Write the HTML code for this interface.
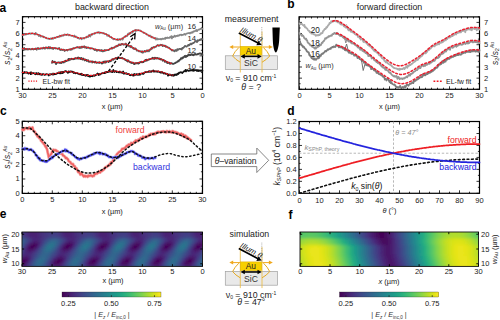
<!DOCTYPE html>
<html><head><meta charset="utf-8"><style>html,body{margin:0;padding:0;background:#fff;width:500px;height:320px;overflow:hidden}svg{display:block;font-family:"Liberation Sans", sans-serif}</style></head><body>
<svg width="500" height="320" viewBox="0 0 500 320" font-family='"Liberation Sans", sans-serif'>
<rect width="500" height="320" fill="#fff"/>
<text x="-0.50" y="11.90" font-size="12" text-anchor="start" fill="#000" font-weight="bold" >a</text>
<text x="287.30" y="8.10" font-size="12" text-anchor="start" fill="#000" font-weight="bold" >b</text>
<text x="0.00" y="115.00" font-size="12" text-anchor="start" fill="#000" font-weight="bold" >c</text>
<text x="287.20" y="114.70" font-size="12" text-anchor="start" fill="#000" font-weight="bold" >d</text>
<text x="-0.30" y="218.40" font-size="12" text-anchor="start" fill="#000" font-weight="bold" >e</text>
<text x="288.60" y="219.20" font-size="12" text-anchor="start" fill="#000" font-weight="bold" >f</text>
<text x="112.00" y="10.00" font-size="8.9" text-anchor="middle" fill="#222" >backward direction</text>
<text x="389.50" y="10.00" font-size="8.9" text-anchor="middle" fill="#222" >forward direction</text>
<rect x="22.5" y="16.7" width="180.0" height="72.6" fill="none" stroke="#000" stroke-width="1.2"/>
<line x1="202.50" y1="89.30" x2="202.50" y2="86.30" stroke="#000" stroke-width="0.8" />
<line x1="202.50" y1="16.70" x2="202.50" y2="19.70" stroke="#000" stroke-width="0.8" />
<line x1="196.50" y1="89.30" x2="196.50" y2="87.70" stroke="#000" stroke-width="0.8" />
<line x1="196.50" y1="16.70" x2="196.50" y2="18.30" stroke="#000" stroke-width="0.8" />
<line x1="190.50" y1="89.30" x2="190.50" y2="87.70" stroke="#000" stroke-width="0.8" />
<line x1="190.50" y1="16.70" x2="190.50" y2="18.30" stroke="#000" stroke-width="0.8" />
<line x1="184.50" y1="89.30" x2="184.50" y2="87.70" stroke="#000" stroke-width="0.8" />
<line x1="184.50" y1="16.70" x2="184.50" y2="18.30" stroke="#000" stroke-width="0.8" />
<line x1="178.50" y1="89.30" x2="178.50" y2="87.70" stroke="#000" stroke-width="0.8" />
<line x1="178.50" y1="16.70" x2="178.50" y2="18.30" stroke="#000" stroke-width="0.8" />
<line x1="172.50" y1="89.30" x2="172.50" y2="86.30" stroke="#000" stroke-width="0.8" />
<line x1="172.50" y1="16.70" x2="172.50" y2="19.70" stroke="#000" stroke-width="0.8" />
<line x1="166.50" y1="89.30" x2="166.50" y2="87.70" stroke="#000" stroke-width="0.8" />
<line x1="166.50" y1="16.70" x2="166.50" y2="18.30" stroke="#000" stroke-width="0.8" />
<line x1="160.50" y1="89.30" x2="160.50" y2="87.70" stroke="#000" stroke-width="0.8" />
<line x1="160.50" y1="16.70" x2="160.50" y2="18.30" stroke="#000" stroke-width="0.8" />
<line x1="154.50" y1="89.30" x2="154.50" y2="87.70" stroke="#000" stroke-width="0.8" />
<line x1="154.50" y1="16.70" x2="154.50" y2="18.30" stroke="#000" stroke-width="0.8" />
<line x1="148.50" y1="89.30" x2="148.50" y2="87.70" stroke="#000" stroke-width="0.8" />
<line x1="148.50" y1="16.70" x2="148.50" y2="18.30" stroke="#000" stroke-width="0.8" />
<line x1="142.50" y1="89.30" x2="142.50" y2="86.30" stroke="#000" stroke-width="0.8" />
<line x1="142.50" y1="16.70" x2="142.50" y2="19.70" stroke="#000" stroke-width="0.8" />
<line x1="136.50" y1="89.30" x2="136.50" y2="87.70" stroke="#000" stroke-width="0.8" />
<line x1="136.50" y1="16.70" x2="136.50" y2="18.30" stroke="#000" stroke-width="0.8" />
<line x1="130.50" y1="89.30" x2="130.50" y2="87.70" stroke="#000" stroke-width="0.8" />
<line x1="130.50" y1="16.70" x2="130.50" y2="18.30" stroke="#000" stroke-width="0.8" />
<line x1="124.50" y1="89.30" x2="124.50" y2="87.70" stroke="#000" stroke-width="0.8" />
<line x1="124.50" y1="16.70" x2="124.50" y2="18.30" stroke="#000" stroke-width="0.8" />
<line x1="118.50" y1="89.30" x2="118.50" y2="87.70" stroke="#000" stroke-width="0.8" />
<line x1="118.50" y1="16.70" x2="118.50" y2="18.30" stroke="#000" stroke-width="0.8" />
<line x1="112.50" y1="89.30" x2="112.50" y2="86.30" stroke="#000" stroke-width="0.8" />
<line x1="112.50" y1="16.70" x2="112.50" y2="19.70" stroke="#000" stroke-width="0.8" />
<line x1="106.50" y1="89.30" x2="106.50" y2="87.70" stroke="#000" stroke-width="0.8" />
<line x1="106.50" y1="16.70" x2="106.50" y2="18.30" stroke="#000" stroke-width="0.8" />
<line x1="100.50" y1="89.30" x2="100.50" y2="87.70" stroke="#000" stroke-width="0.8" />
<line x1="100.50" y1="16.70" x2="100.50" y2="18.30" stroke="#000" stroke-width="0.8" />
<line x1="94.50" y1="89.30" x2="94.50" y2="87.70" stroke="#000" stroke-width="0.8" />
<line x1="94.50" y1="16.70" x2="94.50" y2="18.30" stroke="#000" stroke-width="0.8" />
<line x1="88.50" y1="89.30" x2="88.50" y2="87.70" stroke="#000" stroke-width="0.8" />
<line x1="88.50" y1="16.70" x2="88.50" y2="18.30" stroke="#000" stroke-width="0.8" />
<line x1="82.50" y1="89.30" x2="82.50" y2="86.30" stroke="#000" stroke-width="0.8" />
<line x1="82.50" y1="16.70" x2="82.50" y2="19.70" stroke="#000" stroke-width="0.8" />
<line x1="76.50" y1="89.30" x2="76.50" y2="87.70" stroke="#000" stroke-width="0.8" />
<line x1="76.50" y1="16.70" x2="76.50" y2="18.30" stroke="#000" stroke-width="0.8" />
<line x1="70.50" y1="89.30" x2="70.50" y2="87.70" stroke="#000" stroke-width="0.8" />
<line x1="70.50" y1="16.70" x2="70.50" y2="18.30" stroke="#000" stroke-width="0.8" />
<line x1="64.50" y1="89.30" x2="64.50" y2="87.70" stroke="#000" stroke-width="0.8" />
<line x1="64.50" y1="16.70" x2="64.50" y2="18.30" stroke="#000" stroke-width="0.8" />
<line x1="58.50" y1="89.30" x2="58.50" y2="87.70" stroke="#000" stroke-width="0.8" />
<line x1="58.50" y1="16.70" x2="58.50" y2="18.30" stroke="#000" stroke-width="0.8" />
<line x1="52.50" y1="89.30" x2="52.50" y2="86.30" stroke="#000" stroke-width="0.8" />
<line x1="52.50" y1="16.70" x2="52.50" y2="19.70" stroke="#000" stroke-width="0.8" />
<line x1="46.50" y1="89.30" x2="46.50" y2="87.70" stroke="#000" stroke-width="0.8" />
<line x1="46.50" y1="16.70" x2="46.50" y2="18.30" stroke="#000" stroke-width="0.8" />
<line x1="40.50" y1="89.30" x2="40.50" y2="87.70" stroke="#000" stroke-width="0.8" />
<line x1="40.50" y1="16.70" x2="40.50" y2="18.30" stroke="#000" stroke-width="0.8" />
<line x1="34.50" y1="89.30" x2="34.50" y2="87.70" stroke="#000" stroke-width="0.8" />
<line x1="34.50" y1="16.70" x2="34.50" y2="18.30" stroke="#000" stroke-width="0.8" />
<line x1="28.50" y1="89.30" x2="28.50" y2="87.70" stroke="#000" stroke-width="0.8" />
<line x1="28.50" y1="16.70" x2="28.50" y2="18.30" stroke="#000" stroke-width="0.8" />
<line x1="22.50" y1="89.30" x2="22.50" y2="86.30" stroke="#000" stroke-width="0.8" />
<line x1="22.50" y1="16.70" x2="22.50" y2="19.70" stroke="#000" stroke-width="0.8" />
<line x1="22.50" y1="89.30" x2="25.50" y2="89.30" stroke="#000" stroke-width="0.8" />
<line x1="202.50" y1="89.30" x2="199.50" y2="89.30" stroke="#000" stroke-width="0.8" />
<line x1="22.50" y1="83.72" x2="24.10" y2="83.72" stroke="#000" stroke-width="0.8" />
<line x1="202.50" y1="83.72" x2="200.90" y2="83.72" stroke="#000" stroke-width="0.8" />
<line x1="22.50" y1="78.15" x2="25.50" y2="78.15" stroke="#000" stroke-width="0.8" />
<line x1="202.50" y1="78.15" x2="199.50" y2="78.15" stroke="#000" stroke-width="0.8" />
<line x1="22.50" y1="72.57" x2="24.10" y2="72.57" stroke="#000" stroke-width="0.8" />
<line x1="202.50" y1="72.57" x2="200.90" y2="72.57" stroke="#000" stroke-width="0.8" />
<line x1="22.50" y1="67.00" x2="25.50" y2="67.00" stroke="#000" stroke-width="0.8" />
<line x1="202.50" y1="67.00" x2="199.50" y2="67.00" stroke="#000" stroke-width="0.8" />
<line x1="22.50" y1="61.42" x2="24.10" y2="61.42" stroke="#000" stroke-width="0.8" />
<line x1="202.50" y1="61.42" x2="200.90" y2="61.42" stroke="#000" stroke-width="0.8" />
<line x1="22.50" y1="55.85" x2="25.50" y2="55.85" stroke="#000" stroke-width="0.8" />
<line x1="202.50" y1="55.85" x2="199.50" y2="55.85" stroke="#000" stroke-width="0.8" />
<line x1="22.50" y1="50.27" x2="24.10" y2="50.27" stroke="#000" stroke-width="0.8" />
<line x1="202.50" y1="50.27" x2="200.90" y2="50.27" stroke="#000" stroke-width="0.8" />
<line x1="22.50" y1="44.70" x2="25.50" y2="44.70" stroke="#000" stroke-width="0.8" />
<line x1="202.50" y1="44.70" x2="199.50" y2="44.70" stroke="#000" stroke-width="0.8" />
<line x1="22.50" y1="39.12" x2="24.10" y2="39.12" stroke="#000" stroke-width="0.8" />
<line x1="202.50" y1="39.12" x2="200.90" y2="39.12" stroke="#000" stroke-width="0.8" />
<line x1="22.50" y1="33.55" x2="25.50" y2="33.55" stroke="#000" stroke-width="0.8" />
<line x1="202.50" y1="33.55" x2="199.50" y2="33.55" stroke="#000" stroke-width="0.8" />
<line x1="22.50" y1="27.97" x2="24.10" y2="27.97" stroke="#000" stroke-width="0.8" />
<line x1="202.50" y1="27.97" x2="200.90" y2="27.97" stroke="#000" stroke-width="0.8" />
<line x1="22.50" y1="22.40" x2="25.50" y2="22.40" stroke="#000" stroke-width="0.8" />
<line x1="202.50" y1="22.40" x2="199.50" y2="22.40" stroke="#000" stroke-width="0.8" />
<line x1="22.50" y1="16.82" x2="24.10" y2="16.82" stroke="#000" stroke-width="0.8" />
<line x1="202.50" y1="16.82" x2="200.90" y2="16.82" stroke="#000" stroke-width="0.8" />
<text x="202.50" y="97.50" font-size="7.5" text-anchor="middle" fill="#222" >0</text>
<text x="172.50" y="97.50" font-size="7.5" text-anchor="middle" fill="#222" >5</text>
<text x="142.50" y="97.50" font-size="7.5" text-anchor="middle" fill="#222" >10</text>
<text x="112.50" y="97.50" font-size="7.5" text-anchor="middle" fill="#222" >15</text>
<text x="82.50" y="97.50" font-size="7.5" text-anchor="middle" fill="#222" >20</text>
<text x="52.50" y="97.50" font-size="7.5" text-anchor="middle" fill="#222" >25</text>
<text x="22.50" y="97.50" font-size="7.5" text-anchor="middle" fill="#222" >30</text>
<text x="19.70" y="91.80" font-size="7.5" text-anchor="end" fill="#222" >1</text>
<text x="19.70" y="80.65" font-size="7.5" text-anchor="end" fill="#222" >2</text>
<text x="19.70" y="69.50" font-size="7.5" text-anchor="end" fill="#222" >3</text>
<text x="19.70" y="58.35" font-size="7.5" text-anchor="end" fill="#222" >4</text>
<text x="19.70" y="47.20" font-size="7.5" text-anchor="end" fill="#222" >5</text>
<text x="19.70" y="36.05" font-size="7.5" text-anchor="end" fill="#222" >6</text>
<text x="19.70" y="24.90" font-size="7.5" text-anchor="end" fill="#222" >7</text>
<text x="112.30" y="108.50" font-size="7.4" text-anchor="middle" fill="#222" >x (µm)</text>
<text transform="translate(10.4,53.2) rotate(-90)" font-size="8.3" text-anchor="middle" fill="#222"><tspan font-style="italic">s</tspan><tspan font-size="5.6" dy="1.7">2</tspan><tspan dy="-1.7">/</tspan><tspan font-style="italic">s</tspan><tspan font-size="5.6" dy="1.7">2</tspan><tspan font-size="5" font-style="italic" dy="-5.6">Au</tspan></text>
<polyline points="22.5,35.2 23.0,35.2 23.6,34.9 24.1,34.0 24.7,34.9 25.2,34.6 25.8,34.0 26.3,34.4 26.9,34.2 27.4,34.1 28.0,33.9 28.5,34.0 29.1,33.4 29.6,33.6 30.2,33.4 30.7,33.9 31.3,33.6 31.8,33.5 32.3,33.3 32.9,33.6 33.4,33.7 34.0,33.7 34.5,34.5 35.1,34.4 35.6,32.9 36.2,33.4 36.7,34.3 37.3,34.3 37.8,34.8 38.4,35.0 38.9,36.0 39.5,34.8 40.0,35.3 40.6,36.7 41.1,36.3 41.6,36.5 42.2,36.2 42.7,36.0 43.3,37.0 43.8,37.3 44.4,36.9 44.9,37.4 45.5,37.9 46.0,37.7 46.6,38.2 47.1,38.5 47.7,38.6 48.2,38.4 48.8,39.0 49.3,39.2 49.9,38.9 50.4,38.4 50.9,39.1 51.5,38.5 52.0,39.0 52.6,38.0 53.1,38.8 53.7,38.3 54.2,37.6 54.8,37.9 55.3,37.9 55.9,37.8 56.4,37.1 57.0,36.8 57.5,37.2 58.1,36.7 58.6,36.8 59.2,36.9 59.7,35.6 60.3,36.3 60.8,36.5 61.3,35.7 61.9,35.3 62.4,35.8 63.0,35.5 63.5,35.7 64.1,35.0 64.6,34.4 65.2,34.9 65.7,34.7 66.3,35.2 66.8,35.0 67.4,34.2 67.9,34.4 68.5,35.4 69.0,35.3 69.6,34.8 70.1,35.2 70.6,35.5 71.2,35.7 71.7,36.0 72.3,35.9 72.8,35.9 73.4,36.0 73.9,36.8 74.5,35.5 75.0,36.7 75.6,37.0 76.1,36.5 76.7,37.5 77.2,37.3 77.8,38.2 78.3,37.9 78.9,38.4 79.4,38.8 79.9,38.5 80.5,38.0 81.0,37.8 81.6,39.3 82.1,38.4 82.7,38.1 83.2,38.4 83.8,38.1 84.3,38.5 84.9,37.9 85.4,37.7 86.0,37.2 86.5,37.5 87.1,36.5 87.6,37.0 88.2,37.1 88.7,35.5 89.2,34.8 89.8,35.9 90.3,36.5 90.9,34.6 91.4,34.2 92.0,34.8 92.5,33.9 93.1,33.8 93.6,33.7 94.2,33.9 94.7,33.2 95.3,33.4 95.8,33.0 96.4,32.6 96.9,32.7 97.5,32.3 98.0,32.7 98.5,32.1 99.1,32.1 99.6,33.3 100.2,32.6 100.7,32.7 101.3,33.0 101.8,32.7 102.4,32.9 102.9,33.4 103.5,33.5 104.0,33.1 104.6,34.2 105.1,33.8 105.7,33.8 106.2,34.1 106.8,34.6 107.3,35.8 107.8,34.9 108.4,35.8 108.9,35.1 109.5,36.4 110.0,37.1 110.6,36.9 111.1,37.1 111.7,37.8 112.2,38.3 112.8,38.6 113.3,39.4 113.9,38.9 114.4,38.8 115.0,39.2 115.5,39.4 116.1,39.6 116.6,39.7 117.2,39.8 117.7,39.0 118.2,40.2 118.8,39.5 119.3,39.1 119.9,39.8 120.4,40.0 121.0,39.4 121.5,39.0 122.1,38.3 122.6,39.7 123.2,38.5 123.7,37.3 124.3,37.1 124.8,37.1 125.4,36.0 125.9,36.4 126.5,35.7 127.0,36.1 127.5,35.5 128.1,33.5 128.6,34.3 129.2,33.1 129.7,34.0 130.3,33.1 130.8,32.9 131.4,31.8 131.9,32.8 132.5,32.6 133.0,30.9 133.6,31.3 134.1,30.6 134.7,30.7 135.2,29.9 135.8,31.2 136.3,29.9 136.8,30.2 137.4,30.5 137.9,30.1 138.5,30.3 139.0,30.3 139.6,30.7 140.1,30.4 140.7,31.0 141.2,31.3 141.8,31.5 142.3,32.0 142.9,32.1 143.4,32.9 144.0,32.7 144.5,33.1 145.1,33.2 145.6,33.6 146.1,33.6 146.7,34.7 147.2,34.3 147.8,34.8 148.3,35.6 148.9,35.9 149.4,35.8 150.0,35.4 150.5,36.8 151.1,37.0 151.6,36.5 152.2,37.7 152.7,37.3 153.3,37.4 153.8,38.1 154.4,38.2 154.9,38.6 155.4,37.9 156.0,39.6 156.5,38.6 157.1,38.3 157.6,39.4 158.2,39.0 158.7,39.3 159.3,39.0 159.8,39.1 160.4,39.3 160.9,38.8 161.5,39.4 162.0,38.8 162.6,38.6 163.1,38.9 163.7,39.0 164.2,38.6 164.7,38.2 165.3,38.8 165.8,37.6 166.4,37.8 166.9,38.2 167.5,37.5 168.0,38.0 168.6,37.8 169.1,38.1 169.7,37.2 170.2,37.2 170.8,37.5 171.3,36.1 171.9,38.5 172.4,36.6 173.0,36.5 173.5,37.1 174.1,36.5 174.6,35.6 175.1,36.6 175.7,36.6 176.2,35.9 176.8,35.8 177.3,36.1 177.9,35.3 178.4,35.8 179.0,35.6 179.5,35.1 180.1,34.6 180.6,35.0 181.2,34.6 181.7,35.3 182.3,34.8 182.8,35.0 183.4,34.6 183.9,34.5 184.4,33.9 185.0,34.4 185.5,34.8 186.1,33.7 186.6,33.5 187.2,33.5 187.7,33.2 188.3,33.0 188.8,33.2 189.4,32.9 189.9,33.5 190.5,32.7 191.0,32.7 191.6,32.8 192.1,32.1 192.7,32.7 193.2,31.6 193.7,31.3 194.3,31.3 194.8,31.3 195.4,30.5 195.9,30.9 196.5,30.0 197.0,31.2 197.6,30.3 198.1,29.9 198.7,29.5 199.2,29.6 199.8,29.4 200.3,28.9 200.9,28.7 201.4,28.8 202.0,28.5 202.5,28.9" fill="none" stroke="#868686" stroke-width="1.7" stroke-linejoin="round" stroke-linecap="round" />
<polyline points="22.5,48.9 23.0,48.6 23.6,48.7 24.1,47.8 24.7,49.8 25.2,49.5 25.8,48.9 26.3,49.4 26.9,49.2 27.4,48.9 28.0,49.6 28.5,49.0 29.1,49.0 29.6,48.8 30.2,49.4 30.7,49.2 31.3,49.4 31.8,48.9 32.3,49.2 32.9,48.7 33.4,49.5 34.0,49.2 34.5,49.2 35.1,49.2 35.6,48.5 36.2,49.2 36.7,49.8 37.3,48.1 37.8,48.0 38.4,48.0 38.9,49.0 39.5,48.6 40.0,49.0 40.6,48.8 41.1,48.5 41.6,48.4 42.2,48.2 42.7,48.6 43.3,47.6 43.8,47.9 44.4,48.1 44.9,48.8 45.5,47.6 46.0,47.4 46.6,47.6 47.1,48.3 47.7,47.7 48.2,48.4 48.8,46.9 49.3,48.3 49.9,48.3 50.4,47.2 50.9,47.9 51.5,48.4 52.0,47.9 52.6,48.4 53.1,49.1 53.7,48.2 54.2,48.0 54.8,47.9 55.3,48.6 55.9,48.3 56.4,48.4 57.0,48.5 57.5,49.0 58.1,48.3 58.6,48.3 59.2,48.0 59.7,49.7 60.3,49.4 60.8,50.2 61.3,49.6 61.9,49.4 62.4,50.1 63.0,49.9 63.5,49.5 64.1,49.7 64.6,51.0 65.2,50.4 65.7,50.4 66.3,50.1 66.8,49.8 67.4,50.5 67.9,50.0 68.5,49.6 69.0,49.7 69.6,49.3 70.1,49.6 70.6,49.9 71.2,48.9 71.7,49.7 72.3,48.6 72.8,48.8 73.4,48.2 73.9,48.3 74.5,48.3 75.0,47.9 75.6,47.7 76.1,47.5 76.7,47.4 77.2,46.9 77.8,47.4 78.3,47.6 78.9,47.7 79.4,47.5 79.9,48.2 80.5,47.2 81.0,46.8 81.6,47.8 82.1,46.5 82.7,47.4 83.2,46.6 83.8,47.2 84.3,46.2 84.9,47.6 85.4,47.2 86.0,46.9 86.5,48.2 87.1,47.9 87.6,47.6 88.2,47.4 88.7,47.9 89.2,47.9 89.8,48.5 90.3,48.6 90.9,48.1 91.4,48.3 92.0,48.5 92.5,48.3 93.1,48.8 93.6,49.1 94.2,49.6 94.7,50.1 95.3,49.2 95.8,50.0 96.4,49.7 96.9,50.9 97.5,50.1 98.0,50.4 98.5,49.9 99.1,50.1 99.6,50.6 100.2,50.4 100.7,50.8 101.3,50.0 101.8,51.0 102.4,50.3 102.9,51.5 103.5,50.6 104.0,51.2 104.6,50.0 105.1,50.8 105.7,50.1 106.2,50.2 106.8,50.3 107.3,50.0 107.8,50.1 108.4,50.2 108.9,49.9 109.5,49.4 110.0,48.6 110.6,48.7 111.1,48.7 111.7,47.6 112.2,48.7 112.8,48.0 113.3,47.7 113.9,48.0 114.4,47.6 115.0,47.1 115.5,46.3 116.1,46.6 116.6,46.4 117.2,45.6 117.7,46.2 118.2,45.7 118.8,44.4 119.3,45.1 119.9,44.3 120.4,45.2 121.0,44.9 121.5,43.9 122.1,43.9 122.6,44.3 123.2,44.1 123.7,44.9 124.3,44.5 124.8,44.1 125.4,44.6 125.9,43.5 126.5,44.7 127.0,45.2 127.5,44.9 128.1,44.9 128.6,45.7 129.2,46.6 129.7,46.1 130.3,45.8 130.8,47.3 131.4,46.1 131.9,47.5 132.5,47.3 133.0,48.3 133.6,47.9 134.1,49.2 134.7,49.0 135.2,48.4 135.8,48.6 136.3,49.7 136.8,50.7 137.4,50.4 137.9,50.6 138.5,50.7 139.0,51.4 139.6,51.4 140.1,51.5 140.7,51.1 141.2,52.2 141.8,52.3 142.3,51.2 142.9,52.8 143.4,52.1 144.0,51.5 144.5,50.8 145.1,51.8 145.6,51.7 146.1,51.0 146.7,50.3 147.2,51.4 147.8,50.4 148.3,50.2 148.9,51.4 149.4,50.8 150.0,50.0 150.5,49.1 151.1,49.3 151.6,47.7 152.2,48.5 152.7,47.8 153.3,47.2 153.8,46.8 154.4,47.5 154.9,47.0 155.4,46.8 156.0,46.8 156.5,45.9 157.1,45.5 157.6,45.0 158.2,45.5 158.7,45.9 159.3,45.3 159.8,45.6 160.4,44.7 160.9,45.0 161.5,44.9 162.0,44.7 162.6,46.2 163.1,45.9 163.7,45.3 164.2,45.5 164.7,46.1 165.3,45.7 165.8,46.8 166.4,46.3 166.9,47.0 167.5,47.0 168.0,47.6 168.6,47.5 169.1,47.8 169.7,48.4 170.2,48.8 170.8,49.3 171.3,49.7 171.9,50.6 172.4,50.5 173.0,50.2 173.5,50.8 174.1,50.3 174.6,51.3 175.1,50.9 175.7,50.0 176.2,50.9 176.8,50.8 177.3,49.1 177.9,49.8 178.4,49.7 179.0,48.9 179.5,49.0 180.1,48.8 180.6,49.2 181.2,48.8 181.7,49.6 182.3,47.9 182.8,48.4 183.4,47.6 183.9,47.4 184.4,46.5 185.0,45.9 185.5,46.1 186.1,46.6 186.6,46.7 187.2,46.0 187.7,45.7 188.3,44.8 188.8,45.6 189.4,45.3 189.9,44.2 190.5,44.2 191.0,43.5 191.6,44.4 192.1,43.6 192.7,43.2 193.2,43.1 193.7,42.9 194.3,42.3 194.8,41.7 195.4,41.4 195.9,40.9 196.5,41.7 197.0,42.2 197.6,40.2 198.1,40.8 198.7,40.7 199.2,39.8 199.8,40.1 200.3,39.3 200.9,40.1 201.4,39.0 202.0,39.1 202.5,39.1" fill="none" stroke="#626262" stroke-width="1.7" stroke-linejoin="round" stroke-linecap="round" />
<polyline points="52.0,62.9 52.5,60.9 52.9,62.4 53.4,62.0 53.8,62.2 54.3,62.4 54.7,61.6 55.2,62.5 55.7,62.3 56.1,64.2 56.6,62.9 57.0,62.6 57.5,62.7 57.9,62.5 58.4,62.3 58.9,62.6 59.3,62.9 59.8,62.5 60.2,63.0 60.7,62.4 61.1,62.4 61.6,63.0 62.1,62.4 62.5,61.8 63.0,61.9 63.4,62.1 63.9,62.5 64.4,61.4 64.8,61.3 65.3,61.7 65.7,60.6 66.2,60.8 66.6,61.1 67.1,60.8 67.6,60.4 68.0,60.5 68.5,58.8 68.9,60.4 69.4,59.3 69.8,58.9 70.3,59.6 70.8,59.6 71.2,59.0 71.7,58.6 72.1,59.0 72.6,58.8 73.0,59.4 73.5,59.0 74.0,58.7 74.4,59.0 74.9,58.4 75.3,58.0 75.8,58.7 76.2,58.7 76.7,58.3 77.2,58.0 77.6,58.5 78.1,57.3 78.5,58.7 79.0,58.7 79.4,57.8 79.9,58.6 80.4,58.2 80.8,59.1 81.3,57.9 81.7,58.5 82.2,59.3 82.6,59.7 83.1,58.3 83.6,59.2 84.0,59.7 84.5,59.4 84.9,60.5 85.4,59.4 85.9,60.2 86.3,59.8 86.8,61.0 87.2,60.5 87.7,60.5 88.1,60.1 88.6,61.7 89.1,61.5 89.5,61.6 90.0,61.9 90.4,61.7 90.9,61.3 91.3,61.4 91.8,61.5 92.3,62.5 92.7,61.4 93.2,61.8 93.6,62.0 94.1,62.3 94.5,62.5 95.0,61.8 95.5,61.6 95.9,62.4 96.4,63.0 96.8,62.8 97.3,62.6 97.7,62.4 98.2,62.7 98.7,62.5 99.1,63.0 99.6,62.2 100.0,62.7 100.5,62.6 100.9,62.8 101.4,62.7 101.9,63.7 102.3,63.2 102.8,63.2 103.2,61.6 103.7,62.3 104.1,62.1 104.6,62.6 105.1,61.2 105.5,62.7 106.0,62.5 106.4,61.4 106.9,61.4 107.4,61.3 107.8,61.6 108.3,61.7 108.7,62.2 109.2,61.0 109.6,61.2 110.1,60.7 110.6,61.3 111.0,60.6 111.5,60.7 111.9,59.4 112.4,59.5 112.8,59.1 113.3,59.9 113.8,59.3 114.2,58.7 114.7,58.5 115.1,58.7 115.6,58.0 116.0,57.8 116.5,58.3 117.0,59.1 117.4,57.8 117.9,57.6 118.3,57.3 118.8,57.2 119.2,58.0 119.7,58.2 120.2,57.9 120.6,58.1 121.1,58.2 121.5,58.3 122.0,57.7 122.4,58.3 122.9,58.7 123.4,58.5 123.8,58.8 124.3,58.9 124.7,59.3 125.2,60.0 125.6,59.7 126.1,60.0 126.6,60.7 127.0,60.8 127.5,61.5 127.9,60.0 128.4,61.5 128.9,61.1 129.3,61.6 129.8,62.1 130.2,62.4 130.7,62.6 131.1,62.3 131.6,63.1 132.1,62.4 132.5,62.6 133.0,63.2 133.4,62.7 133.9,64.0 134.3,63.5 134.8,64.1 135.3,63.2 135.7,63.0 136.2,63.3 136.6,63.5 137.1,62.9 137.5,63.3 138.0,63.0 138.5,63.7 138.9,62.6 139.4,63.2 139.8,62.4 140.3,62.1 140.7,62.1 141.2,61.7 141.7,62.2 142.1,62.4 142.6,61.8 143.0,61.9 143.5,62.2 143.9,61.4 144.4,61.2 144.9,60.8 145.3,60.0 145.8,60.9 146.2,59.6 146.7,60.5 147.1,60.1 147.6,60.4 148.1,59.8 148.5,59.3 149.0,59.7 149.4,59.1 149.9,59.2 150.4,59.1 150.8,59.0 151.3,58.8 151.7,58.4 152.2,58.6 152.6,57.7 153.1,58.5 153.6,58.0 154.0,59.0 154.5,59.0 154.9,57.5 155.4,58.5 155.8,58.4 156.3,58.0 156.8,58.7 157.2,58.3 157.7,57.8 158.1,58.5 158.6,58.6 159.0,58.9 159.5,58.4 160.0,59.3 160.4,59.5 160.9,58.8 161.3,59.2 161.8,59.6 162.2,59.5 162.7,60.8 163.2,60.3 163.6,59.9 164.1,60.2 164.5,60.8 165.0,62.0 165.4,61.1 165.9,61.5 166.4,61.9 166.8,61.9 167.3,63.2 167.7,62.1 168.2,62.9 168.6,62.8 169.1,63.2 169.6,62.6 170.0,64.0 170.5,63.3 170.9,63.5 171.4,63.1 171.9,63.2 172.3,63.8 172.8,64.0 173.2,63.8 173.7,63.9 174.1,63.5 174.6,63.1 175.1,63.2 175.5,62.9 176.0,62.3 176.4,62.4 176.9,62.4 177.3,61.6 177.8,61.0 178.3,61.2 178.7,61.4 179.2,60.1 179.6,59.8 180.1,59.4 180.5,59.7 181.0,58.0 181.5,58.6 181.9,58.7 182.4,57.5 182.8,58.3 183.3,57.6 183.7,56.9 184.2,57.0 184.7,56.0 185.1,56.2 185.6,57.1 186.0,55.7 186.5,56.8 186.9,55.8 187.4,56.1 187.9,55.6 188.3,54.4 188.8,55.1 189.2,55.3 189.7,54.6 190.1,54.5 190.6,55.2 191.1,54.6 191.5,54.1 192.0,54.5 192.4,55.1 192.9,54.5 193.4,55.0 193.8,55.3 194.3,54.5 194.7,54.0 195.2,53.8 195.6,54.4 196.1,54.7 196.6,54.4 197.0,54.5 197.5,54.0 197.9,54.3 198.4,53.9 198.8,53.9 199.3,53.5 199.8,53.3 200.2,53.8 200.7,53.4 201.1,53.5 201.6,54.2 202.0,53.8 202.5,55.1" fill="none" stroke="#444" stroke-width="1.7" stroke-linejoin="round" stroke-linecap="round" />
<polyline points="22.5,72.3 23.0,72.5 23.6,73.4 24.1,72.9 24.7,71.9 25.2,72.7 25.8,72.4 26.3,72.8 26.9,72.1 27.4,72.9 28.0,73.0 28.5,73.6 29.1,73.1 29.6,73.2 30.2,72.4 30.7,74.2 31.3,72.3 31.8,73.8 32.3,73.2 32.9,73.0 33.4,73.2 34.0,73.2 34.5,73.8 35.1,73.6 35.6,74.4 36.2,73.0 36.7,73.9 37.3,73.5 37.8,74.4 38.4,73.1 38.9,74.0 39.5,74.3 40.0,73.6 40.6,74.7 41.1,74.4 41.6,74.8 42.2,74.8 42.7,74.0 43.3,74.1 43.8,74.4 44.4,74.9 44.9,74.9 45.5,74.3 46.0,74.3 46.6,74.2 47.1,74.3 47.7,74.5 48.2,74.5 48.8,75.5 49.3,74.3 49.9,74.4 50.4,74.7 50.9,74.0 51.5,74.2 52.0,74.3 52.6,74.6 53.1,73.5 53.7,74.6 54.2,73.7 54.8,73.9 55.3,74.1 55.9,73.9 56.4,73.9 57.0,73.4 57.5,73.2 58.1,73.2 58.6,72.5 59.2,73.4 59.7,72.4 60.3,72.1 60.8,73.4 61.3,72.4 61.9,71.8 62.4,73.1 63.0,72.0 63.5,72.6 64.1,71.6 64.6,71.8 65.2,71.1 65.7,71.0 66.3,71.4 66.8,71.8 67.4,72.2 67.9,72.9 68.5,71.3 69.0,72.3 69.6,71.6 70.1,71.8 70.6,71.3 71.2,71.4 71.7,71.7 72.3,71.6 72.8,72.3 73.4,72.0 73.9,73.0 74.5,72.6 75.0,72.8 75.6,73.3 76.1,73.2 76.7,73.0 77.2,73.2 77.8,73.3 78.3,74.0 78.9,74.0 79.4,73.9 79.9,74.3 80.5,73.8 81.0,74.4 81.6,73.7 82.1,75.1 82.7,74.7 83.2,74.8 83.8,75.2 84.3,75.0 84.9,75.0 85.4,75.8 86.0,75.4 86.5,75.0 87.1,75.7 87.6,74.8 88.2,76.3 88.7,75.5 89.2,75.7 89.8,76.7 90.3,76.6 90.9,75.7 91.4,75.9 92.0,76.1 92.5,76.3 93.1,75.4 93.6,75.5 94.2,75.9 94.7,75.4 95.3,75.5 95.8,75.3 96.4,74.4 96.9,74.4 97.5,73.5 98.0,74.4 98.5,75.0 99.1,73.8 99.6,74.7 100.2,74.4 100.7,73.8 101.3,73.7 101.8,73.5 102.4,73.0 102.9,73.1 103.5,73.0 104.0,73.2 104.6,73.1 105.1,72.2 105.7,72.8 106.2,71.9 106.8,72.1 107.3,72.2 107.8,71.9 108.4,71.7 108.9,71.8 109.5,71.3 110.0,71.2 110.6,71.4 111.1,71.8 111.7,71.3 112.2,72.2 112.8,71.4 113.3,69.9 113.9,71.1 114.4,72.0 115.0,71.3 115.5,71.2 116.1,71.0 116.6,72.1 117.2,72.0 117.7,71.9 118.2,71.9 118.8,72.4 119.3,72.3 119.9,71.4 120.4,72.5 121.0,72.3 121.5,72.3 122.1,72.9 122.6,72.7 123.2,71.5 123.7,73.7 124.3,73.6 124.8,73.2 125.4,73.3 125.9,73.7 126.5,73.2 127.0,74.1 127.5,74.0 128.1,74.0 128.6,73.9 129.2,74.2 129.7,75.1 130.3,75.3 130.8,75.0 131.4,74.8 131.9,74.5 132.5,75.3 133.0,75.7 133.6,74.3 134.1,75.5 134.7,74.0 135.2,74.8 135.8,75.0 136.3,74.2 136.8,74.0 137.4,74.7 137.9,74.9 138.5,74.1 139.0,74.8 139.6,73.7 140.1,74.7 140.7,73.8 141.2,73.7 141.8,73.7 142.3,73.4 142.9,74.0 143.4,74.0 144.0,73.1 144.5,72.6 145.1,72.0 145.6,72.0 146.1,72.3 146.7,72.1 147.2,72.0 147.8,71.9 148.3,72.0 148.9,71.1 149.4,71.1 150.0,72.0 150.5,71.8 151.1,71.1 151.6,71.9 152.2,71.0 152.7,71.1 153.3,70.4 153.8,71.6 154.4,71.2 154.9,71.7 155.4,71.5 156.0,71.3 156.5,71.4 157.1,71.9 157.6,71.3 158.2,71.4 158.7,71.6 159.3,72.0 159.8,72.2 160.4,72.7 160.9,72.0 161.5,72.7 162.0,72.0 162.6,72.7 163.1,72.7 163.7,73.6 164.2,73.3 164.7,73.0 165.3,73.7 165.8,73.8 166.4,73.7 166.9,73.9 167.5,73.8 168.0,75.7 168.6,74.7 169.1,75.2 169.7,74.4 170.2,74.5 170.8,75.1 171.3,75.1 171.9,75.6 172.4,74.8 173.0,75.5 173.5,75.8 174.1,74.7 174.6,75.4 175.1,74.4 175.7,74.8 176.2,74.6 176.8,75.0 177.3,73.7 177.9,73.8 178.4,74.0 179.0,72.7 179.5,73.0 180.1,72.4 180.6,72.2 181.2,72.6 181.7,72.3 182.3,73.0 182.8,72.2 183.4,72.0 183.9,71.2 184.4,71.0 185.0,71.1 185.5,69.9 186.1,71.5 186.6,70.4 187.2,70.1 187.7,70.4 188.3,70.9 188.8,71.0 189.4,70.3 189.9,70.6 190.5,70.4 191.0,69.9 191.6,70.5 192.1,70.4 192.7,69.7 193.2,70.9 193.7,69.7 194.3,70.5 194.8,70.0 195.4,70.1 195.9,70.1 196.5,70.8 197.0,69.9 197.6,70.4 198.1,71.2 198.7,70.2 199.2,70.6 199.8,70.9 200.3,70.4 200.9,70.9 201.4,70.4 202.0,71.0 202.5,70.7" fill="none" stroke="#111" stroke-width="1.7" stroke-linejoin="round" stroke-linecap="round" />
<polyline points="22.5,34.8 23.0,34.7 23.5,34.6 24.0,34.4 24.5,34.3 25.0,34.2 25.5,34.1 26.0,34.0 26.5,33.9 27.0,33.8 27.5,33.7 28.0,33.7 28.5,33.6 29.0,33.5 29.5,33.5 30.0,33.4 30.5,33.4 31.0,33.4 31.5,33.4 32.0,33.4 32.5,33.4 33.0,33.5 33.5,33.5 34.0,33.6 34.5,33.7 35.0,33.8 35.5,33.9 35.9,34.0 36.4,34.1 36.9,34.2 37.4,34.4 37.9,34.5 38.4,34.7 38.9,34.9 39.4,35.1 39.9,35.3 40.4,35.5 40.9,35.7 41.4,35.9 41.9,36.1 42.4,36.4 42.9,36.6 43.4,36.8 43.9,37.1 44.4,37.3 44.9,37.5 45.4,37.7 45.9,37.8 46.4,38.0 46.9,38.2 47.4,38.3 47.9,38.4 48.4,38.5 48.9,38.5 49.4,38.6 49.9,38.6 50.4,38.6 50.9,38.5 51.4,38.5 51.9,38.4 52.4,38.3 52.9,38.3 53.4,38.2 53.9,38.0 54.4,37.9 54.9,37.8 55.4,37.6 55.9,37.5 56.4,37.3 56.9,37.1 57.4,37.0 57.9,36.8 58.4,36.6 58.9,36.5 59.4,36.3 59.9,36.1 60.4,35.9 60.9,35.8 61.4,35.6 61.9,35.5 62.4,35.3 62.8,35.2 63.3,35.1 63.8,35.0 64.3,34.9 64.8,34.8 65.3,34.8 65.8,34.7 66.3,34.7 66.8,34.7 67.3,34.7 67.8,34.7 68.3,34.8 68.8,34.8 69.3,34.9 69.8,35.0 70.3,35.1 70.8,35.2 71.3,35.3 71.8,35.4 72.3,35.6 72.8,35.7 73.3,35.9 73.8,36.1 74.3,36.3 74.8,36.5 75.3,36.7 75.8,36.9 76.3,37.0 76.8,37.2 77.3,37.4 77.8,37.6 78.3,37.7 78.8,37.9 79.3,38.0 79.8,38.1 80.3,38.2 80.8,38.3 81.3,38.3 81.8,38.3 82.3,38.3 82.8,38.2 83.3,38.1 83.8,38.0 84.3,37.9 84.8,37.7 85.3,37.6 85.8,37.4 86.3,37.2 86.8,36.9 87.3,36.7 87.8,36.4 88.3,36.2 88.8,35.9 89.2,35.7 89.7,35.4 90.2,35.2 90.7,34.9 91.2,34.7 91.7,34.4 92.2,34.2 92.7,34.0 93.2,33.8 93.7,33.6 94.2,33.4 94.7,33.2 95.2,33.1 95.7,32.9 96.2,32.8 96.7,32.7 97.2,32.6 97.7,32.5 98.2,32.4 98.7,32.4 99.2,32.4 99.7,32.4 100.2,32.5 100.7,32.5 101.2,32.6 101.7,32.7 102.2,32.8 102.7,32.9 103.2,33.1 103.7,33.3 104.2,33.5 104.7,33.7 105.2,33.9 105.7,34.1 106.2,34.3 106.7,34.6 107.2,34.8 107.7,35.1 108.2,35.4 108.7,35.7 109.2,36.0 109.7,36.3 110.2,36.6 110.7,36.9 111.2,37.2 111.7,37.4 112.2,37.7 112.7,38.0 113.2,38.2 113.7,38.5 114.2,38.7 114.7,38.9 115.2,39.1 115.7,39.3 116.1,39.4 116.6,39.5 117.1,39.6 117.6,39.6 118.1,39.6 118.6,39.6 119.1,39.5 119.6,39.4 120.1,39.3 120.6,39.1 121.1,38.9 121.6,38.7 122.1,38.5 122.6,38.2 123.1,37.9 123.6,37.6 124.1,37.3 124.6,37.0 125.1,36.7 125.6,36.3 126.1,36.0 126.6,35.6 127.1,35.2 127.6,34.8 128.1,34.5 128.6,34.1 129.1,33.7 129.6,33.4 130.1,33.0 130.6,32.6 131.1,32.3 131.6,32.0 132.1,31.7 132.6,31.4 133.1,31.1 133.6,30.9 134.1,30.7 134.6,30.5 135.1,30.3 135.6,30.2 136.1,30.1 136.6,30.1 137.1,30.1 137.6,30.1 138.1,30.2 138.6,30.3 139.1,30.4 139.6,30.6 140.1,30.7 140.6,30.9 141.1,31.1 141.6,31.4 142.1,31.6 142.6,31.9 143.0,32.2 143.5,32.5 144.0,32.7 144.5,33.0 145.0,33.3 145.5,33.6 146.0,33.9 146.5,34.2 147.0,34.5 147.5,34.8 148.0,35.0 148.5,35.3 149.0,35.6 149.5,35.8 150.0,36.1 150.5,36.4 151.0,36.6 151.5,36.9 152.0,37.1 152.5,37.4 153.0,37.6 153.5,37.8 154.0,38.0 154.5,38.2 155.0,38.3 155.5,38.5 156.0,38.6" fill="none" stroke="#f0141e" stroke-width="1.2" stroke-linejoin="round" stroke-linecap="round" stroke-dasharray="1.2 1.8" stroke-linecap="butt"/>
<polyline points="22.5,48.6 23.0,48.6 23.5,48.7 24.0,48.7 24.5,48.8 25.0,48.8 25.5,48.8 26.0,48.9 26.5,48.9 27.0,48.9 27.5,48.9 28.0,49.0 28.5,49.0 29.0,49.0 29.5,49.0 30.0,49.0 30.5,49.0 31.0,49.0 31.5,49.0 32.0,49.0 32.5,48.9 33.0,48.9 33.5,48.9 34.0,48.9 34.5,48.8 35.0,48.8 35.5,48.8 36.0,48.7 36.5,48.7 37.0,48.6 37.5,48.6 37.9,48.5 38.4,48.5 38.9,48.4 39.4,48.4 39.9,48.3 40.4,48.2 40.9,48.2 41.4,48.1 41.9,48.1 42.4,48.0 42.9,48.0 43.4,47.9 43.9,47.9 44.4,47.8 44.9,47.8 45.4,47.7 45.9,47.7 46.4,47.7 46.9,47.6 47.4,47.6 47.9,47.6 48.4,47.6 48.9,47.6 49.4,47.6 49.9,47.6 50.4,47.6 50.9,47.6 51.4,47.7 51.9,47.7 52.4,47.7 52.9,47.8 53.4,47.8 53.9,47.9 54.4,48.0 54.9,48.0 55.4,48.1 55.9,48.2 56.4,48.3 56.9,48.4 57.4,48.5 57.9,48.6 58.4,48.7 58.9,48.8 59.4,48.9 59.9,49.0 60.4,49.2 60.9,49.3 61.4,49.4 61.9,49.5 62.4,49.6 62.9,49.7 63.4,49.8 63.9,49.9 64.4,49.9 64.9,50.0 65.4,50.0 65.9,50.0 66.4,50.0 66.9,49.9 67.4,49.9 67.8,49.8 68.3,49.7 68.8,49.6 69.3,49.5 69.8,49.4 70.3,49.3 70.8,49.1 71.3,49.0 71.8,48.8 72.3,48.7 72.8,48.6 73.3,48.4 73.8,48.3 74.3,48.1 74.8,48.0 75.3,47.9 75.8,47.7 76.3,47.6 76.8,47.5 77.3,47.4 77.8,47.3 78.3,47.2 78.8,47.1 79.3,47.0 79.8,46.9 80.3,46.9 80.8,46.8 81.3,46.8 81.8,46.8 82.3,46.8 82.8,46.8 83.3,46.8 83.8,46.9 84.3,46.9 84.8,47.0 85.3,47.0 85.8,47.1 86.3,47.2 86.8,47.3 87.3,47.4 87.8,47.5 88.3,47.6 88.8,47.7 89.3,47.8 89.8,47.9 90.3,48.1 90.8,48.2 91.3,48.3 91.8,48.5 92.3,48.6 92.8,48.7 93.3,48.9 93.8,49.0 94.3,49.1 94.8,49.3 95.3,49.4 95.8,49.5 96.3,49.6 96.8,49.8 97.3,49.9 97.8,50.0 98.2,50.1 98.7,50.2 99.2,50.2 99.7,50.3 100.2,50.4 100.7,50.4 101.2,50.5 101.7,50.5 102.2,50.5 102.7,50.5 103.2,50.5 103.7,50.5 104.2,50.5 104.7,50.4 105.2,50.4 105.7,50.3 106.2,50.2 106.7,50.1 107.2,50.0 107.7,49.8 108.2,49.7 108.7,49.5 109.2,49.3 109.7,49.2 110.2,49.0 110.7,48.8 111.2,48.6 111.7,48.4 112.2,48.1 112.7,47.9 113.2,47.7 113.7,47.4 114.2,47.2 114.7,47.0 115.2,46.7 115.7,46.5 116.2,46.2 116.7,46.0 117.2,45.8 117.7,45.5 118.2,45.3 118.7,45.1 119.2,44.9 119.7,44.7 120.2,44.6 120.7,44.4 121.2,44.3 121.7,44.2 122.2,44.1 122.7,44.0 123.2,44.0 123.7,44.0 124.2,44.0 124.7,44.0 125.2,44.1 125.7,44.2 126.2,44.3 126.7,44.5 127.2,44.6 127.7,44.8 128.1,45.0 128.6,45.3 129.1,45.5 129.6,45.8 130.1,46.0 130.6,46.3 131.1,46.6 131.6,46.9 132.1,47.2 132.6,47.5 133.1,47.8 133.6,48.1 134.1,48.4 134.6,48.7 135.1,49.0 135.6,49.2 136.1,49.5 136.6,49.8 137.1,50.0 137.6,50.2 138.1,50.5 138.6,50.7 139.1,50.9 139.6,51.0 140.1,51.2 140.6,51.3 141.1,51.4 141.6,51.5 142.1,51.6 142.6,51.6 143.1,51.6 143.6,51.6 144.1,51.5 144.6,51.4 145.1,51.3 145.6,51.2 146.1,51.1 146.6,50.9 147.1,50.7 147.6,50.5 148.1,50.3 148.6,50.1 149.1,49.8 149.6,49.6 150.1,49.3 150.6,49.1 151.1,48.8 151.6,48.5 152.1,48.3 152.6,48.0 153.1,47.7 153.6,47.5 154.1,47.2 154.6,46.9 155.1,46.7 155.6,46.5 156.1,46.2 156.6,46.0 157.1,45.8 157.6,45.7 158.0,45.5 158.5,45.4 159.0,45.3 159.5,45.2 160.0,45.1 160.5,45.0 161.0,45.0 161.5,45.1 162.0,45.1 162.5,45.2 163.0,45.3 163.5,45.4 164.0,45.6 164.5,45.8 165.0,46.0 165.5,46.2 166.0,46.5 166.5,46.8 167.0,47.0 167.5,47.3 168.0,47.6 168.5,47.9 169.0,48.2 169.5,48.5 170.0,48.8 170.5,49.1 171.0,49.3 171.5,49.6 172.0,49.8 172.5,50.0 173.0,50.2" fill="none" stroke="#f0141e" stroke-width="1.2" stroke-linejoin="round" stroke-linecap="round" stroke-dasharray="1.2 1.8" stroke-linecap="butt"/>
<polyline points="52.0,61.8 52.5,61.9 53.0,62.0 53.5,62.1 54.0,62.2 54.5,62.3 55.0,62.4 55.5,62.4 56.0,62.5 56.5,62.5 57.0,62.6 57.5,62.6 58.0,62.6 58.5,62.6 59.0,62.5 59.5,62.5 60.0,62.4 60.5,62.3 61.0,62.3 61.5,62.1 62.0,62.0 62.5,61.9 63.0,61.8 63.5,61.6 64.0,61.4 64.4,61.3 64.9,61.1 65.4,60.9 65.9,60.8 66.4,60.6 66.9,60.4 67.4,60.2 67.9,60.1 68.4,59.9 68.9,59.7 69.4,59.5 69.9,59.4 70.4,59.2 70.9,59.1 71.4,58.9 71.9,58.8 72.4,58.7 72.9,58.6 73.4,58.5 73.9,58.4 74.4,58.3 74.9,58.3 75.4,58.2 75.9,58.2 76.4,58.2 76.9,58.2 77.4,58.2 77.9,58.2 78.4,58.2 78.9,58.3 79.4,58.3 79.9,58.4 80.4,58.5 80.9,58.5 81.4,58.6 81.9,58.7 82.4,58.9 82.9,59.0 83.4,59.1 83.9,59.3 84.4,59.4 84.9,59.6 85.4,59.7 85.9,59.9 86.4,60.1 86.9,60.2 87.4,60.4 87.9,60.5 88.3,60.7 88.8,60.9 89.3,61.0 89.8,61.2 90.3,61.3 90.8,61.4 91.3,61.5 91.8,61.6 92.3,61.7 92.8,61.8 93.3,61.9 93.8,62.0 94.3,62.1 94.8,62.1 95.3,62.2 95.8,62.2 96.3,62.3 96.8,62.3 97.3,62.3 97.8,62.4 98.3,62.4 98.8,62.4 99.3,62.4 99.8,62.4 100.3,62.4 100.8,62.4 101.3,62.4 101.8,62.4 102.3,62.3 102.8,62.3 103.3,62.3 103.8,62.2 104.3,62.2 104.8,62.1 105.3,62.0 105.8,61.9 106.3,61.8 106.8,61.7 107.3,61.5 107.8,61.4 108.3,61.2 108.8,61.0 109.3,60.8 109.8,60.6 110.3,60.4 110.8,60.2 111.3,59.9 111.8,59.7 112.2,59.5 112.7,59.3 113.2,59.0 113.7,58.8 114.2,58.6 114.7,58.4 115.2,58.3 115.7,58.1 116.2,58.0 116.7,57.8 117.2,57.7 117.7,57.7 118.2,57.6 118.7,57.6 119.2,57.6 119.7,57.7 120.2,57.7 120.7,57.8 121.2,57.9 121.7,58.1 122.2,58.2 122.7,58.4 123.2,58.6 123.7,58.8 124.2,59.0 124.7,59.2 125.2,59.4 125.7,59.7 126.2,59.9 126.7,60.2 127.2,60.4 127.7,60.6 128.2,60.8 128.7,61.1 129.2,61.3 129.7,61.5 130.2,61.7 130.7,61.9 131.2,62.1 131.7,62.2 132.2,62.4 132.7,62.5 133.2,62.7 133.7,62.8 134.2,62.9 134.7,62.9 135.2,63.0 135.7,63.0 136.1,63.0 136.6,63.0 137.1,62.9 137.6,62.9 138.1,62.8 138.6,62.7 139.1,62.6 139.6,62.5 140.1,62.4 140.6,62.2 141.1,62.1 141.6,61.9 142.1,61.7 142.6,61.6 143.1,61.4 143.6,61.2 144.1,61.0 144.6,60.8 145.1,60.6 145.6,60.4 146.1,60.3 146.6,60.1 147.1,59.9 147.6,59.7 148.1,59.6 148.6,59.4 149.1,59.3 149.6,59.1 150.1,59.0 150.6,58.9 151.1,58.8 151.6,58.6 152.1,58.5 152.6,58.5 153.1,58.4 153.6,58.3 154.1,58.3 154.6,58.2 155.1,58.2 155.6,58.2 156.1,58.2 156.6,58.2 157.1,58.3 157.6,58.3 158.1,58.4 158.6,58.5 159.1,58.6 159.6,58.7 160.0,58.9 160.5,59.0 161.0,59.2 161.5,59.3 162.0,59.5 162.5,59.7 163.0,59.9 163.5,60.1 164.0,60.3 164.5,60.6 165.0,60.8 165.5,61.1 166.0,61.3 166.5,61.6 167.0,61.8 167.5,62.0 168.0,62.3 168.5,62.5 169.0,62.7 169.5,62.9 170.0,63.0 170.5,63.2 171.0,63.3 171.5,63.3 172.0,63.4" fill="none" stroke="#f0141e" stroke-width="1.2" stroke-linejoin="round" stroke-linecap="round" stroke-dasharray="1.2 1.8" stroke-linecap="butt"/>
<polyline points="22.5,72.4 23.0,72.4 23.5,72.4 24.0,72.4 24.5,72.5 25.0,72.5 25.5,72.5 26.0,72.5 26.5,72.6 27.0,72.6 27.5,72.6 28.0,72.7 28.5,72.7 29.0,72.8 29.5,72.8 30.0,72.9 30.5,72.9 31.0,73.0 31.5,73.0 32.0,73.1 32.5,73.2 33.0,73.2 33.5,73.3 34.0,73.3 34.5,73.4 35.0,73.5 35.5,73.5 36.0,73.6 36.5,73.7 37.0,73.7 37.5,73.8 37.9,73.8 38.4,73.9 38.9,73.9 39.4,74.0 39.9,74.0 40.4,74.1 40.9,74.1 41.4,74.2 41.9,74.2 42.4,74.2 42.9,74.3 43.4,74.3 43.9,74.3 44.4,74.3 44.9,74.4 45.4,74.4 45.9,74.4 46.4,74.4 46.9,74.4 47.4,74.4 47.9,74.4 48.4,74.4 48.9,74.4 49.4,74.3 49.9,74.3 50.4,74.3 50.9,74.2 51.4,74.2 51.9,74.1 52.4,74.0 52.9,74.0 53.4,73.9 53.9,73.8 54.4,73.7 54.9,73.6 55.4,73.5 55.9,73.4 56.4,73.2 56.9,73.1 57.4,73.0 57.9,72.9 58.4,72.8 58.9,72.7 59.4,72.6 59.9,72.5 60.4,72.4 60.9,72.3 61.4,72.2 61.9,72.1 62.4,72.0 62.9,72.0 63.4,71.9 63.9,71.8 64.4,71.8 64.9,71.7 65.4,71.7 65.9,71.7 66.4,71.6 66.9,71.6 67.4,71.6 67.8,71.6 68.3,71.6 68.8,71.6 69.3,71.6 69.8,71.7 70.3,71.7 70.8,71.8 71.3,71.8 71.8,71.9 72.3,72.0 72.8,72.1 73.3,72.1 73.8,72.2 74.3,72.3 74.8,72.4 75.3,72.5 75.8,72.7 76.3,72.8 76.8,72.9 77.3,73.0 77.8,73.2 78.3,73.3 78.8,73.4 79.3,73.6 79.8,73.7 80.3,73.8 80.8,74.0 81.3,74.1 81.8,74.2 82.3,74.3 82.8,74.5 83.3,74.6 83.8,74.7 84.3,74.8 84.8,74.9 85.3,75.0 85.8,75.1 86.3,75.2 86.8,75.2 87.3,75.3 87.8,75.3 88.3,75.4 88.8,75.4 89.3,75.4 89.8,75.5 90.3,75.4 90.8,75.4 91.3,75.4 91.8,75.4 92.3,75.3 92.8,75.3 93.3,75.2 93.8,75.2 94.3,75.1 94.8,75.0 95.3,74.9 95.8,74.8 96.3,74.7 96.8,74.6 97.3,74.5 97.8,74.4 98.2,74.3 98.7,74.2 99.2,74.0 99.7,73.9 100.2,73.8 100.7,73.6 101.2,73.5 101.7,73.3 102.2,73.2 102.7,73.0 103.2,72.9 103.7,72.8 104.2,72.6 104.7,72.5 105.2,72.3 105.7,72.2 106.2,72.1 106.7,72.0 107.2,71.8 107.7,71.7 108.2,71.6 108.7,71.5 109.2,71.4 109.7,71.4 110.2,71.3 110.7,71.2 111.2,71.2 111.7,71.1 112.2,71.1 112.7,71.1 113.2,71.1 113.7,71.1 114.2,71.1 114.7,71.1 115.2,71.1 115.7,71.2 116.2,71.2 116.7,71.3 117.2,71.3 117.7,71.4 118.2,71.5 118.7,71.6 119.2,71.7 119.7,71.8 120.2,71.9 120.7,72.0 121.2,72.1 121.7,72.2 122.2,72.3 122.7,72.5 123.2,72.6 123.7,72.8 124.2,72.9 124.7,73.0 125.2,73.2 125.7,73.3 126.2,73.5 126.7,73.6 127.2,73.8 127.7,73.9 128.1,74.0 128.6,74.1 129.1,74.3 129.6,74.4 130.1,74.5 130.6,74.5 131.1,74.6 131.6,74.7 132.1,74.7 132.6,74.8 133.1,74.8 133.6,74.8 134.1,74.8 134.6,74.8 135.1,74.7 135.6,74.7 136.1,74.6 136.6,74.5 137.1,74.4 137.6,74.3 138.1,74.2 138.6,74.1 139.1,74.0 139.6,73.8 140.1,73.7 140.6,73.6 141.1,73.4 141.6,73.3 142.1,73.1 142.6,73.0 143.1,72.9 143.6,72.7 144.1,72.6 144.6,72.4 145.1,72.3 145.6,72.2 146.1,72.1 146.6,72.0 147.1,71.8 147.6,71.7 148.1,71.6 148.6,71.5 149.1,71.5 149.6,71.4 150.1,71.3 150.6,71.2 151.1,71.2 151.6,71.1 152.1,71.1 152.6,71.1 153.1,71.0 153.6,71.0 154.1,71.0 154.6,71.0 155.1,71.0 155.6,71.0 156.1,71.1 156.6,71.1 157.1,71.1 157.6,71.2 158.0,71.2 158.5,71.3 159.0,71.4 159.5,71.5 160.0,71.6 160.5,71.7 161.0,71.8 161.5,72.0 162.0,72.1 162.5,72.3 163.0,72.4 163.5,72.6 164.0,72.8 164.5,72.9 165.0,73.1 165.5,73.3 166.0,73.5 166.5,73.7 167.0,73.9 167.5,74.1 168.0,74.2 168.5,74.4 169.0,74.5 169.5,74.7 170.0,74.8 170.5,74.9 171.0,74.9 171.5,75.0 172.0,75.0 172.5,75.0 173.0,75.0" fill="none" stroke="#f0141e" stroke-width="1.2" stroke-linejoin="round" stroke-linecap="round" stroke-dasharray="1.2 1.8" stroke-linecap="butt"/>
<line x1="108.50" y1="71.20" x2="133.00" y2="37.60" stroke="#000" stroke-width="1.35" stroke-dasharray="3 1.8"/>
<path d="M130.3,36.8 L135.1,33.6 L134.7,39.4" fill="none" stroke="#000" stroke-width="1.3"/>
<text x="169.00" y="28.90" font-size="7.4" text-anchor="middle" fill="#333" ><tspan font-style="italic">w</tspan><tspan font-size="4.5" dy="1.2">Au</tspan><tspan dy="-1.2"> (µm)</tspan></text>
<text x="191.80" y="28.90" font-size="7.6" text-anchor="middle" fill="#222" >16</text>
<text x="191.80" y="41.20" font-size="7.6" text-anchor="middle" fill="#222" >14</text>
<text x="191.80" y="52.60" font-size="7.6" text-anchor="middle" fill="#222" >12</text>
<text x="191.80" y="68.80" font-size="7.6" text-anchor="middle" fill="#222" >10</text>
<line x1="28.40" y1="81.20" x2="37.40" y2="81.20" stroke="#f0141e" stroke-width="1.3" stroke-dasharray="1.2 1.3"/>
<text x="42.60" y="83.70" font-size="7.0" text-anchor="start" fill="#222" >EL-bw fit</text>
<rect x="299.0" y="16.9" width="180.5" height="72.4" fill="none" stroke="#000" stroke-width="1.2"/>
<line x1="299.50" y1="89.30" x2="299.50" y2="86.30" stroke="#000" stroke-width="0.8" />
<line x1="299.50" y1="16.90" x2="299.50" y2="19.90" stroke="#000" stroke-width="0.8" />
<line x1="305.50" y1="89.30" x2="305.50" y2="87.70" stroke="#000" stroke-width="0.8" />
<line x1="305.50" y1="16.90" x2="305.50" y2="18.50" stroke="#000" stroke-width="0.8" />
<line x1="311.50" y1="89.30" x2="311.50" y2="87.70" stroke="#000" stroke-width="0.8" />
<line x1="311.50" y1="16.90" x2="311.50" y2="18.50" stroke="#000" stroke-width="0.8" />
<line x1="317.50" y1="89.30" x2="317.50" y2="87.70" stroke="#000" stroke-width="0.8" />
<line x1="317.50" y1="16.90" x2="317.50" y2="18.50" stroke="#000" stroke-width="0.8" />
<line x1="323.50" y1="89.30" x2="323.50" y2="87.70" stroke="#000" stroke-width="0.8" />
<line x1="323.50" y1="16.90" x2="323.50" y2="18.50" stroke="#000" stroke-width="0.8" />
<line x1="329.50" y1="89.30" x2="329.50" y2="86.30" stroke="#000" stroke-width="0.8" />
<line x1="329.50" y1="16.90" x2="329.50" y2="19.90" stroke="#000" stroke-width="0.8" />
<line x1="335.50" y1="89.30" x2="335.50" y2="87.70" stroke="#000" stroke-width="0.8" />
<line x1="335.50" y1="16.90" x2="335.50" y2="18.50" stroke="#000" stroke-width="0.8" />
<line x1="341.50" y1="89.30" x2="341.50" y2="87.70" stroke="#000" stroke-width="0.8" />
<line x1="341.50" y1="16.90" x2="341.50" y2="18.50" stroke="#000" stroke-width="0.8" />
<line x1="347.50" y1="89.30" x2="347.50" y2="87.70" stroke="#000" stroke-width="0.8" />
<line x1="347.50" y1="16.90" x2="347.50" y2="18.50" stroke="#000" stroke-width="0.8" />
<line x1="353.50" y1="89.30" x2="353.50" y2="87.70" stroke="#000" stroke-width="0.8" />
<line x1="353.50" y1="16.90" x2="353.50" y2="18.50" stroke="#000" stroke-width="0.8" />
<line x1="359.50" y1="89.30" x2="359.50" y2="86.30" stroke="#000" stroke-width="0.8" />
<line x1="359.50" y1="16.90" x2="359.50" y2="19.90" stroke="#000" stroke-width="0.8" />
<line x1="365.50" y1="89.30" x2="365.50" y2="87.70" stroke="#000" stroke-width="0.8" />
<line x1="365.50" y1="16.90" x2="365.50" y2="18.50" stroke="#000" stroke-width="0.8" />
<line x1="371.50" y1="89.30" x2="371.50" y2="87.70" stroke="#000" stroke-width="0.8" />
<line x1="371.50" y1="16.90" x2="371.50" y2="18.50" stroke="#000" stroke-width="0.8" />
<line x1="377.50" y1="89.30" x2="377.50" y2="87.70" stroke="#000" stroke-width="0.8" />
<line x1="377.50" y1="16.90" x2="377.50" y2="18.50" stroke="#000" stroke-width="0.8" />
<line x1="383.50" y1="89.30" x2="383.50" y2="87.70" stroke="#000" stroke-width="0.8" />
<line x1="383.50" y1="16.90" x2="383.50" y2="18.50" stroke="#000" stroke-width="0.8" />
<line x1="389.50" y1="89.30" x2="389.50" y2="86.30" stroke="#000" stroke-width="0.8" />
<line x1="389.50" y1="16.90" x2="389.50" y2="19.90" stroke="#000" stroke-width="0.8" />
<line x1="395.50" y1="89.30" x2="395.50" y2="87.70" stroke="#000" stroke-width="0.8" />
<line x1="395.50" y1="16.90" x2="395.50" y2="18.50" stroke="#000" stroke-width="0.8" />
<line x1="401.50" y1="89.30" x2="401.50" y2="87.70" stroke="#000" stroke-width="0.8" />
<line x1="401.50" y1="16.90" x2="401.50" y2="18.50" stroke="#000" stroke-width="0.8" />
<line x1="407.50" y1="89.30" x2="407.50" y2="87.70" stroke="#000" stroke-width="0.8" />
<line x1="407.50" y1="16.90" x2="407.50" y2="18.50" stroke="#000" stroke-width="0.8" />
<line x1="413.50" y1="89.30" x2="413.50" y2="87.70" stroke="#000" stroke-width="0.8" />
<line x1="413.50" y1="16.90" x2="413.50" y2="18.50" stroke="#000" stroke-width="0.8" />
<line x1="419.50" y1="89.30" x2="419.50" y2="86.30" stroke="#000" stroke-width="0.8" />
<line x1="419.50" y1="16.90" x2="419.50" y2="19.90" stroke="#000" stroke-width="0.8" />
<line x1="425.50" y1="89.30" x2="425.50" y2="87.70" stroke="#000" stroke-width="0.8" />
<line x1="425.50" y1="16.90" x2="425.50" y2="18.50" stroke="#000" stroke-width="0.8" />
<line x1="431.50" y1="89.30" x2="431.50" y2="87.70" stroke="#000" stroke-width="0.8" />
<line x1="431.50" y1="16.90" x2="431.50" y2="18.50" stroke="#000" stroke-width="0.8" />
<line x1="437.50" y1="89.30" x2="437.50" y2="87.70" stroke="#000" stroke-width="0.8" />
<line x1="437.50" y1="16.90" x2="437.50" y2="18.50" stroke="#000" stroke-width="0.8" />
<line x1="443.50" y1="89.30" x2="443.50" y2="87.70" stroke="#000" stroke-width="0.8" />
<line x1="443.50" y1="16.90" x2="443.50" y2="18.50" stroke="#000" stroke-width="0.8" />
<line x1="449.50" y1="89.30" x2="449.50" y2="86.30" stroke="#000" stroke-width="0.8" />
<line x1="449.50" y1="16.90" x2="449.50" y2="19.90" stroke="#000" stroke-width="0.8" />
<line x1="455.50" y1="89.30" x2="455.50" y2="87.70" stroke="#000" stroke-width="0.8" />
<line x1="455.50" y1="16.90" x2="455.50" y2="18.50" stroke="#000" stroke-width="0.8" />
<line x1="461.50" y1="89.30" x2="461.50" y2="87.70" stroke="#000" stroke-width="0.8" />
<line x1="461.50" y1="16.90" x2="461.50" y2="18.50" stroke="#000" stroke-width="0.8" />
<line x1="467.50" y1="89.30" x2="467.50" y2="87.70" stroke="#000" stroke-width="0.8" />
<line x1="467.50" y1="16.90" x2="467.50" y2="18.50" stroke="#000" stroke-width="0.8" />
<line x1="473.50" y1="89.30" x2="473.50" y2="87.70" stroke="#000" stroke-width="0.8" />
<line x1="473.50" y1="16.90" x2="473.50" y2="18.50" stroke="#000" stroke-width="0.8" />
<line x1="479.50" y1="89.30" x2="479.50" y2="86.30" stroke="#000" stroke-width="0.8" />
<line x1="479.50" y1="16.90" x2="479.50" y2="19.90" stroke="#000" stroke-width="0.8" />
<line x1="299.00" y1="89.30" x2="302.00" y2="89.30" stroke="#000" stroke-width="0.8" />
<line x1="479.50" y1="89.30" x2="476.50" y2="89.30" stroke="#000" stroke-width="0.8" />
<line x1="299.00" y1="83.72" x2="300.60" y2="83.72" stroke="#000" stroke-width="0.8" />
<line x1="479.50" y1="83.72" x2="477.90" y2="83.72" stroke="#000" stroke-width="0.8" />
<line x1="299.00" y1="78.15" x2="302.00" y2="78.15" stroke="#000" stroke-width="0.8" />
<line x1="479.50" y1="78.15" x2="476.50" y2="78.15" stroke="#000" stroke-width="0.8" />
<line x1="299.00" y1="72.57" x2="300.60" y2="72.57" stroke="#000" stroke-width="0.8" />
<line x1="479.50" y1="72.57" x2="477.90" y2="72.57" stroke="#000" stroke-width="0.8" />
<line x1="299.00" y1="67.00" x2="302.00" y2="67.00" stroke="#000" stroke-width="0.8" />
<line x1="479.50" y1="67.00" x2="476.50" y2="67.00" stroke="#000" stroke-width="0.8" />
<line x1="299.00" y1="61.42" x2="300.60" y2="61.42" stroke="#000" stroke-width="0.8" />
<line x1="479.50" y1="61.42" x2="477.90" y2="61.42" stroke="#000" stroke-width="0.8" />
<line x1="299.00" y1="55.85" x2="302.00" y2="55.85" stroke="#000" stroke-width="0.8" />
<line x1="479.50" y1="55.85" x2="476.50" y2="55.85" stroke="#000" stroke-width="0.8" />
<line x1="299.00" y1="50.27" x2="300.60" y2="50.27" stroke="#000" stroke-width="0.8" />
<line x1="479.50" y1="50.27" x2="477.90" y2="50.27" stroke="#000" stroke-width="0.8" />
<line x1="299.00" y1="44.70" x2="302.00" y2="44.70" stroke="#000" stroke-width="0.8" />
<line x1="479.50" y1="44.70" x2="476.50" y2="44.70" stroke="#000" stroke-width="0.8" />
<line x1="299.00" y1="39.12" x2="300.60" y2="39.12" stroke="#000" stroke-width="0.8" />
<line x1="479.50" y1="39.12" x2="477.90" y2="39.12" stroke="#000" stroke-width="0.8" />
<line x1="299.00" y1="33.55" x2="302.00" y2="33.55" stroke="#000" stroke-width="0.8" />
<line x1="479.50" y1="33.55" x2="476.50" y2="33.55" stroke="#000" stroke-width="0.8" />
<line x1="299.00" y1="27.97" x2="300.60" y2="27.97" stroke="#000" stroke-width="0.8" />
<line x1="479.50" y1="27.97" x2="477.90" y2="27.97" stroke="#000" stroke-width="0.8" />
<line x1="299.00" y1="22.40" x2="302.00" y2="22.40" stroke="#000" stroke-width="0.8" />
<line x1="479.50" y1="22.40" x2="476.50" y2="22.40" stroke="#000" stroke-width="0.8" />
<line x1="299.00" y1="16.82" x2="300.60" y2="16.82" stroke="#000" stroke-width="0.8" />
<line x1="479.50" y1="16.82" x2="477.90" y2="16.82" stroke="#000" stroke-width="0.8" />
<text x="299.50" y="97.50" font-size="7.5" text-anchor="middle" fill="#222" >0</text>
<text x="329.50" y="97.50" font-size="7.5" text-anchor="middle" fill="#222" >5</text>
<text x="359.50" y="97.50" font-size="7.5" text-anchor="middle" fill="#222" >10</text>
<text x="389.50" y="97.50" font-size="7.5" text-anchor="middle" fill="#222" >15</text>
<text x="419.50" y="97.50" font-size="7.5" text-anchor="middle" fill="#222" >20</text>
<text x="449.50" y="97.50" font-size="7.5" text-anchor="middle" fill="#222" >25</text>
<text x="479.50" y="97.50" font-size="7.5" text-anchor="middle" fill="#222" >30</text>
<text x="484.10" y="91.80" font-size="7.5" text-anchor="start" fill="#222" >1</text>
<text x="484.10" y="80.65" font-size="7.5" text-anchor="start" fill="#222" >2</text>
<text x="484.10" y="69.50" font-size="7.5" text-anchor="start" fill="#222" >3</text>
<text x="484.10" y="58.35" font-size="7.5" text-anchor="start" fill="#222" >4</text>
<text x="484.10" y="47.20" font-size="7.5" text-anchor="start" fill="#222" >5</text>
<text x="484.10" y="36.05" font-size="7.5" text-anchor="start" fill="#222" >6</text>
<text x="484.10" y="24.90" font-size="7.5" text-anchor="start" fill="#222" >7</text>
<text x="389.50" y="108.50" font-size="7.4" text-anchor="middle" fill="#222" >x (µm)</text>
<text transform="translate(497.6,53.4) rotate(-90)" font-size="8.3" text-anchor="middle" fill="#222"><tspan font-style="italic">s</tspan><tspan font-size="5.6" dy="1.7">2</tspan><tspan dy="-1.7">/</tspan><tspan font-style="italic">s</tspan><tspan font-size="5.6" dy="1.7">2</tspan><tspan font-size="5" font-style="italic" dy="-5.6">Au</tspan></text>
<polyline points="299.5,23.2 300.0,24.2 300.6,24.3 301.1,23.6 301.7,24.0 302.2,24.1 302.8,25.1 303.3,25.1 303.9,25.9 304.4,24.9 305.0,27.3 305.5,26.9 306.1,27.9 306.6,28.1 307.2,28.6 307.7,29.7 308.3,30.5 308.8,30.6 309.3,31.2 309.9,32.3 310.4,31.9 311.0,32.1 311.5,33.6 312.1,33.4 312.6,33.1 313.2,34.0 313.7,34.4 314.3,34.3 314.8,34.3 315.4,35.2 315.9,35.8 316.5,35.2 317.0,34.9 317.6,35.4 318.1,35.5 318.6,34.8 319.2,35.0 319.7,35.0 320.3,34.0 320.8,33.3 321.4,33.6 321.9,33.0 322.5,33.0 323.0,31.1 323.6,30.8 324.1,30.1 324.7,28.9 325.2,29.2 325.8,28.6 326.3,27.2 326.9,27.6 327.4,26.6 327.9,25.7 328.5,24.9 329.0,24.6 329.6,22.8 330.1,23.3 330.7,22.9 331.2,21.2 331.8,22.0 332.3,21.4 332.9,21.7 333.4,20.9 334.0,21.0 334.5,21.2 335.1,20.5 335.6,21.4 336.2,21.1 336.7,21.5 337.3,21.2 337.8,22.3 338.3,22.3 338.9,22.1 339.4,22.9 340.0,23.6 340.5,24.2 341.1,22.7 341.6,24.5 342.2,24.6 342.7,24.7 343.3,24.6 343.8,26.3 344.4,25.3 344.9,26.7 345.5,27.5 346.0,26.4 346.6,27.5 347.1,27.3 347.6,28.6 348.2,29.7 348.7,30.4 349.3,28.7 349.8,29.8 350.4,30.9 350.9,31.8 351.5,31.6 352.0,31.3 352.6,32.3 353.1,32.6 353.7,32.9 354.2,33.0 354.8,34.0 355.3,34.4 355.9,34.6 356.4,34.9 356.9,34.8 357.5,35.6 358.0,37.0 358.6,36.6 359.1,36.4 359.7,38.3 360.2,38.3 360.8,39.6 361.3,38.9 361.9,39.0 362.4,38.9 363.0,40.9 363.5,42.0 364.1,40.6 364.6,41.2 365.2,42.3 365.7,42.0 366.2,42.8 366.8,43.2 367.3,44.0 367.9,45.0 368.4,44.9 369.0,45.8 369.5,45.6 370.1,46.5 370.6,45.7 371.2,46.5 371.7,48.3 372.3,48.0 372.8,49.2 373.4,49.7 373.9,50.6 374.5,50.9 375.0,51.5 375.5,51.4 376.1,51.6 376.6,52.1 377.2,52.8 377.7,52.9 378.3,53.8 378.8,54.6 379.4,55.3 379.9,55.5 380.5,55.1 381.0,56.7 381.6,57.3 382.1,58.3 382.7,58.6 383.2,58.4 383.8,58.9 384.3,60.9 384.8,60.7 385.4,61.8 385.9,62.5 386.5,61.4 387.0,62.5 387.6,63.0 388.1,63.6 388.7,64.0 389.2,64.3 389.8,64.7 390.3,64.3 390.9,65.4 391.4,65.5 392.0,66.4 392.5,66.4 393.1,67.4 393.6,67.8 394.2,67.9 394.7,68.2 395.2,68.3 395.8,68.3 396.3,68.6 396.9,68.6 397.4,69.3 398.0,69.2 398.5,69.6 399.1,68.6 399.6,69.9 400.2,69.0 400.7,69.0 401.3,69.2 401.8,68.9 402.4,69.2 402.9,68.6 403.5,68.1 404.0,68.0 404.5,69.0 405.1,68.0 405.6,67.1 406.2,67.4 406.7,66.2 407.3,67.7 407.8,65.6 408.4,66.3 408.9,66.0 409.5,64.5 410.0,65.0 410.6,65.0 411.1,64.3 411.7,63.8 412.2,63.8 412.8,62.9 413.3,62.6 413.8,61.9 414.4,61.9 414.9,60.7 415.5,61.2 416.0,60.1 416.6,59.3 417.1,59.7 417.7,60.0 418.2,59.2 418.8,58.0 419.3,58.2 419.9,57.2 420.4,56.9 421.0,56.6 421.5,54.9 422.1,55.8 422.6,54.7 423.1,54.4 423.7,53.5 424.2,53.0 424.8,52.9 425.3,53.3 425.9,53.3 426.4,51.9 427.0,52.0 427.5,50.8 428.1,49.4 428.6,50.1 429.2,49.8 429.7,48.8 430.3,48.7 430.8,48.4 431.4,47.2 431.9,46.4 432.4,46.7 433.0,46.3 433.5,45.9 434.1,46.2 434.6,46.3 435.2,44.8 435.7,45.1 436.3,44.9 436.8,44.5 437.4,44.5 437.9,43.4 438.5,43.8 439.0,44.3 439.6,43.3 440.1,42.3 440.7,42.7 441.2,42.8 441.7,42.1 442.3,41.3 442.8,42.2 443.4,40.3 443.9,41.0 444.5,40.4 445.0,39.4 445.6,40.4 446.1,39.6 446.7,38.4 447.2,39.1 447.8,38.1 448.3,37.0 448.9,37.3 449.4,37.5 450.0,37.4 450.5,36.8 451.1,36.4 451.6,36.3 452.1,35.6 452.7,36.0 453.2,35.2 453.8,35.0 454.3,34.8 454.9,33.6 455.4,33.6 456.0,34.5 456.5,33.6 457.1,33.1 457.6,33.2 458.2,32.5 458.7,32.7 459.3,31.9 459.8,32.2 460.4,31.0 460.9,32.4 461.4,31.2 462.0,30.4 462.5,31.0 463.1,30.7 463.6,30.8 464.2,29.9 464.7,30.6 465.3,32.2 465.8,29.3 466.4,30.1 466.9,29.5 467.5,29.7 468.0,28.4 468.6,28.6 469.1,29.4 469.7,29.0 470.2,29.8 470.7,28.5 471.3,28.9 471.8,30.3 472.4,28.3 472.9,28.2 473.5,28.6 474.0,28.6 474.6,29.1 475.1,28.8 475.7,28.3 476.2,28.9 476.8,30.3 477.3,29.6 477.9,27.4 478.4,29.0 479.0,28.6 479.5,29.5" fill="none" stroke="#ababab" stroke-width="1.8" stroke-linejoin="round" stroke-linecap="round" />
<polyline points="299.5,33.0 300.0,34.1 300.6,34.4 301.1,34.9 301.7,35.9 302.2,34.9 302.8,35.8 303.3,35.9 303.9,37.1 304.4,38.3 305.0,38.4 305.5,39.2 306.1,38.6 306.6,40.3 307.2,40.4 307.7,42.6 308.3,42.8 308.8,43.5 309.3,43.6 309.9,44.7 310.4,45.3 311.0,45.4 311.5,45.9 312.1,46.6 312.6,46.8 313.2,47.1 313.7,47.6 314.3,47.6 314.8,48.6 315.4,47.3 315.9,48.6 316.5,47.6 317.0,47.4 317.6,46.7 318.1,46.9 318.6,46.4 319.2,46.1 319.7,45.2 320.3,44.9 320.8,45.2 321.4,43.8 321.9,42.6 322.5,42.8 323.0,41.6 323.6,41.3 324.1,40.7 324.7,39.6 325.2,38.2 325.8,38.5 326.3,38.5 326.9,37.5 327.4,37.5 327.9,37.3 328.5,36.1 329.0,36.7 329.6,36.5 330.1,35.9 330.7,35.6 331.2,35.3 331.8,35.7 332.3,34.3 332.9,34.0 333.4,34.2 334.0,33.3 334.5,32.9 335.1,33.2 335.6,33.9 336.2,34.0 336.7,33.0 337.3,32.9 337.8,34.0 338.3,34.3 338.9,34.6 339.4,35.3 340.0,35.9 340.5,35.6 341.1,36.2 341.6,35.6 342.2,35.9 342.7,37.0 343.3,37.6 343.8,38.0 344.4,38.3 344.9,38.8 345.5,39.2 346.0,38.1 346.6,39.0 347.1,40.0 347.6,40.5 348.2,39.7 348.7,41.5 349.3,41.0 349.8,41.4 350.4,42.1 350.9,42.7 351.5,41.8 352.0,43.5 352.6,43.4 353.1,43.3 353.7,43.9 354.2,43.2 354.8,44.4 355.3,45.3 355.9,45.1 356.4,45.7 356.9,46.2 357.5,46.7 358.0,47.6 358.6,47.4 359.1,47.6 359.7,48.4 360.2,49.7 360.8,48.7 361.3,49.6 361.9,48.8 362.4,50.8 363.0,50.9 363.5,51.6 364.1,51.3 364.6,51.2 365.2,52.6 365.7,53.0 366.2,52.5 366.8,52.6 367.3,54.1 367.9,54.2 368.4,56.2 369.0,54.9 369.5,55.4 370.1,56.1 370.6,55.7 371.2,56.6 371.7,58.5 372.3,57.9 372.8,58.2 373.4,58.3 373.9,59.7 374.5,60.3 375.0,60.5 375.5,60.6 376.1,61.5 376.6,62.0 377.2,61.9 377.7,63.0 378.3,62.0 378.8,62.9 379.4,63.9 379.9,64.5 380.5,64.3 381.0,65.6 381.6,66.5 382.1,66.6 382.7,66.9 383.2,67.7 383.8,67.9 384.3,67.5 384.8,68.5 385.4,69.8 385.9,68.9 386.5,70.0 387.0,70.3 387.6,70.4 388.1,70.8 388.7,71.9 389.2,72.5 389.8,72.9 390.3,72.4 390.9,73.5 391.4,74.3 392.0,75.0 392.5,75.3 393.1,75.8 393.6,76.3 394.2,76.5 394.7,76.0 395.2,76.8 395.8,76.7 396.3,76.0 396.9,76.6 397.4,78.9 398.0,77.4 398.5,76.9 399.1,78.0 399.6,79.2 400.2,78.4 400.7,78.7 401.3,78.3 401.8,78.4 402.4,79.1 402.9,78.7 403.5,78.1 404.0,78.5 404.5,78.4 405.1,77.5 405.6,77.6 406.2,77.3 406.7,76.5 407.3,77.2 407.8,76.2 408.4,75.6 408.9,74.7 409.5,74.6 410.0,75.7 410.6,73.9 411.1,74.3 411.7,73.5 412.2,73.6 412.8,73.2 413.3,72.0 413.8,71.8 414.4,71.6 414.9,71.2 415.5,70.7 416.0,70.1 416.6,70.2 417.1,70.1 417.7,69.3 418.2,68.2 418.8,68.4 419.3,67.8 419.9,67.7 420.4,68.1 421.0,66.6 421.5,66.4 422.1,65.6 422.6,65.6 423.1,65.2 423.7,66.2 424.2,65.3 424.8,64.6 425.3,65.8 425.9,63.8 426.4,64.9 427.0,64.8 427.5,64.4 428.1,63.7 428.6,63.6 429.2,63.3 429.7,63.7 430.3,61.7 430.8,62.4 431.4,62.5 431.9,61.7 432.4,60.7 433.0,61.2 433.5,60.5 434.1,60.9 434.6,60.8 435.2,59.6 435.7,58.0 436.3,58.5 436.8,57.6 437.4,58.0 437.9,58.1 438.5,56.8 439.0,57.3 439.6,56.5 440.1,55.6 440.7,54.2 441.2,54.3 441.7,53.0 442.3,53.9 442.8,53.0 443.4,53.3 443.9,52.3 444.5,50.6 445.0,51.7 445.6,51.5 446.1,51.5 446.7,49.7 447.2,49.4 447.8,49.6 448.3,48.7 448.9,48.2 449.4,48.0 450.0,49.8 450.5,47.7 451.1,47.2 451.6,47.3 452.1,47.3 452.7,47.8 453.2,47.3 453.8,47.0 454.3,46.4 454.9,46.3 455.4,45.7 456.0,45.0 456.5,46.8 457.1,45.2 457.6,45.9 458.2,45.0 458.7,45.0 459.3,44.8 459.8,44.0 460.4,44.5 460.9,44.7 461.4,44.8 462.0,44.4 462.5,44.6 463.1,44.0 463.6,43.7 464.2,42.5 464.7,43.1 465.3,44.1 465.8,43.2 466.4,43.4 466.9,42.7 467.5,42.3 468.0,43.6 468.6,42.5 469.1,43.0 469.7,42.4 470.2,41.8 470.7,40.7 471.3,41.9 471.8,40.9 472.4,40.5 472.9,42.4 473.5,42.1 474.0,42.1 474.6,41.8 475.1,41.8 475.7,42.2 476.2,42.1 476.8,42.1 477.3,42.6 477.9,40.9 478.4,42.9 479.0,42.2 479.5,43.1" fill="none" stroke="#959595" stroke-width="1.8" stroke-linejoin="round" stroke-linecap="round" />
<polyline points="299.5,43.2 300.0,41.1 300.6,43.9 301.1,44.0 301.7,45.3 302.2,45.4 302.8,46.8 303.3,46.4 303.9,46.8 304.4,48.0 305.0,48.6 305.5,48.9 306.1,49.6 306.6,50.9 307.2,51.6 307.7,51.7 308.3,52.6 308.8,52.5 309.3,55.2 309.9,54.9 310.4,56.4 311.0,56.6 311.5,58.0 312.1,58.4 312.6,58.2 313.2,59.2 313.7,58.2 314.3,59.7 314.8,58.4 315.4,59.4 315.9,59.8 316.5,59.1 317.0,58.6 317.6,58.0 318.1,57.9 318.6,58.3 319.2,57.7 319.7,56.5 320.3,55.5 320.8,55.9 321.4,54.2 321.9,54.1 322.5,53.4 323.0,53.7 323.6,52.9 324.1,52.5 324.7,51.9 325.2,50.9 325.8,51.2 326.3,51.3 326.9,50.1 327.4,50.1 327.9,49.3 328.5,49.7 329.0,49.2 329.6,49.0 330.1,48.4 330.7,48.9 331.2,47.5 331.8,47.3 332.3,47.0 332.9,47.4 333.4,46.5 334.0,46.3 334.5,46.9 335.1,47.0 335.6,46.6 336.2,44.7 336.7,45.7 337.3,45.6 337.8,45.6 338.3,46.1 338.9,47.4 339.4,46.4 340.0,46.4 340.5,47.4 341.1,47.3 341.6,47.6 342.2,47.5 342.7,48.2 343.3,48.7 343.8,47.8 344.4,48.3 344.9,50.1 345.5,50.3 346.0,49.9 346.6,49.9 347.1,50.7 347.6,50.4 348.2,51.2 348.7,52.6 349.3,52.0 349.8,52.9 350.4,52.4 350.9,53.1 351.5,53.9 352.0,52.8 352.6,53.6 353.1,54.0 353.7,54.6 354.2,55.6 354.8,55.5 355.3,54.6 355.9,55.7 356.4,55.7 356.9,56.1 357.5,58.1 358.0,56.8 358.6,57.9 359.1,57.8 359.7,59.1 360.2,59.2 360.8,59.6 361.3,59.9 361.9,61.0 362.4,60.3 363.0,60.9 363.5,61.1 364.1,62.9 364.6,62.5 365.2,62.5 365.7,63.3 366.2,65.4 366.8,64.4 367.3,65.3 367.9,65.6 368.4,65.7 369.0,65.8 369.5,66.4 370.1,66.8 370.6,66.2 371.2,69.2 371.7,68.7 372.3,68.7 372.8,68.9 373.4,69.0 373.9,70.3 374.5,70.1 375.0,70.8 375.5,70.2 376.1,71.6 376.6,72.9 377.2,72.0 377.7,73.0 378.3,73.0 378.8,74.0 379.4,74.3 379.9,74.2 380.5,74.3 381.0,75.1 381.6,75.4 382.1,75.5 382.7,76.5 383.2,76.9 383.8,76.6 384.3,77.4 384.8,79.5 385.4,78.8 385.9,78.8 386.5,80.5 387.0,79.3 387.6,78.6 388.1,79.4 388.7,80.0 389.2,81.4 389.8,82.2 390.3,80.9 390.9,83.2 391.4,82.3 392.0,83.5 392.5,84.0 393.1,84.3 393.6,84.5 394.2,84.9 394.7,84.5 395.2,85.6 395.8,86.3 396.3,86.5 396.9,87.7 397.4,87.1 398.0,87.1 398.5,87.7 399.1,87.1 399.6,86.4 400.2,85.9 400.7,87.9 401.3,87.6 401.8,87.7 402.4,87.0 402.9,87.3 403.5,88.1 404.0,87.1 404.5,86.2 405.1,86.4 405.6,87.3 406.2,85.7 406.7,84.6 407.3,84.6 407.8,84.8 408.4,85.7 408.9,85.0 409.5,84.3 410.0,83.6 410.6,83.9 411.1,83.6 411.7,83.0 412.2,82.8 412.8,82.1 413.3,83.1 413.8,80.4 414.4,81.4 414.9,80.4 415.5,80.9 416.0,80.0 416.6,79.9 417.1,79.6 417.7,79.0 418.2,79.0 418.8,77.3 419.3,78.2 419.9,77.2 420.4,77.1 421.0,77.4 421.5,76.9 422.1,77.0 422.6,74.4 423.1,74.8 423.7,75.6 424.2,74.2 424.8,74.5 425.3,75.3 425.9,74.7 426.4,73.5 427.0,74.1 427.5,74.0 428.1,73.4 428.6,73.1 429.2,73.0 429.7,71.8 430.3,72.5 430.8,71.5 431.4,71.9 431.9,71.6 432.4,70.5 433.0,70.9 433.5,70.3 434.1,69.7 434.6,69.6 435.2,68.6 435.7,68.1 436.3,67.9 436.8,67.3 437.4,67.5 437.9,65.0 438.5,65.7 439.0,64.3 439.6,64.6 440.1,64.5 440.7,63.9 441.2,64.0 441.7,63.2 442.3,61.1 442.8,61.6 443.4,62.7 443.9,62.3 444.5,61.1 445.0,59.9 445.6,61.6 446.1,58.9 446.7,59.9 447.2,59.4 447.8,59.3 448.3,58.2 448.9,58.4 449.4,58.9 450.0,57.8 450.5,57.0 451.1,57.5 451.6,57.4 452.1,57.0 452.7,56.4 453.2,56.9 453.8,56.3 454.3,55.5 454.9,56.1 455.4,55.7 456.0,55.6 456.5,54.4 457.1,54.7 457.6,55.2 458.2,55.2 458.7,54.7 459.3,54.4 459.8,54.6 460.4,54.5 460.9,54.8 461.4,53.9 462.0,53.2 462.5,53.6 463.1,52.1 463.6,53.0 464.2,52.6 464.7,52.6 465.3,52.8 465.8,52.4 466.4,51.4 466.9,51.9 467.5,51.5 468.0,51.8 468.6,51.9 469.1,51.1 469.7,51.9 470.2,52.1 470.7,51.1 471.3,51.6 471.8,50.3 472.4,50.8 472.9,51.6 473.5,50.0 474.0,50.7 474.6,50.5 475.1,51.6 475.7,51.7 476.2,50.7 476.8,51.2 477.3,49.7 477.9,51.7 478.4,51.5 479.0,52.1 479.5,50.1" fill="none" stroke="#7c7c7c" stroke-width="1.8" stroke-linejoin="round" stroke-linecap="round" />
<polyline points="344.5,37.5 345.8,43.0 347.0,38.5" fill="none" stroke="#8e8e8e" stroke-width="1.0" stroke-linejoin="round" stroke-linecap="round" />
<polyline points="345.0,49.0 346.6,44.0 348.0,50.0" fill="none" stroke="#707070" stroke-width="1.0" stroke-linejoin="round" stroke-linecap="round" />
<polyline points="361.5,60.0 363.2,70.5 365.0,64.0" fill="none" stroke="#707070" stroke-width="1.0" stroke-linejoin="round" stroke-linecap="round" />
<polyline points="346.5,24.5 347.5,27.0" fill="none" stroke="#a8a8a8" stroke-width="0.8" stroke-linejoin="round" stroke-linecap="round" />
<polyline points="332.6,21.2 333.1,21.0 333.6,20.8 334.1,20.7 334.6,20.6 335.1,20.6 335.6,20.6 336.1,20.7 336.6,20.7 337.1,20.9 337.6,21.0 338.1,21.2 338.6,21.4 339.1,21.6 339.6,21.8 340.1,22.1 340.6,22.4 341.1,22.7 341.6,23.0 342.1,23.3 342.6,23.6 343.1,24.0 343.6,24.3 344.1,24.7 344.6,25.0 345.1,25.4 345.6,25.7 346.1,26.1 346.6,26.4 347.1,26.8 347.6,27.2 348.1,27.5 348.6,27.9 349.1,28.3 349.6,28.6 350.1,29.0 350.6,29.4 351.1,29.8 351.6,30.1 352.1,30.5 352.6,30.9 353.1,31.3 353.6,31.6 354.1,32.0 354.6,32.4 355.1,32.8 355.6,33.1 356.1,33.5 356.6,33.9 357.1,34.3 357.6,34.7 358.1,35.0 358.6,35.4 359.1,35.8 359.6,36.2 360.1,36.6 360.6,37.0 361.1,37.4 361.6,37.8 362.1,38.2 362.6,38.6 363.1,39.0 363.6,39.4 364.1,39.8 364.6,40.2 365.1,40.6 365.6,41.0 366.1,41.5 366.6,41.9 367.1,42.3 367.6,42.8 368.1,43.2 368.6,43.7 369.1,44.1 369.6,44.5 370.1,45.0 370.6,45.5 371.1,45.9 371.6,46.4 372.1,46.8 372.6,47.3 373.1,47.8 373.6,48.2 374.1,48.7 374.6,49.1 375.1,49.6 375.6,50.1 376.1,50.5 376.6,51.0 377.1,51.5 377.6,51.9 378.1,52.4 378.6,52.8 379.1,53.3 379.6,53.7 380.1,54.2 380.6,54.6 381.1,55.1 381.6,55.5 382.1,56.0 382.6,56.4 383.1,56.8 383.6,57.2 384.1,57.7 384.6,58.1 385.1,58.5 385.6,58.9 386.1,59.3 386.6,59.7 387.1,60.0 387.6,60.4 388.1,60.8 388.6,61.2 389.1,61.5 389.6,61.8 390.1,62.2 390.6,62.5 391.1,62.8 391.6,63.1 392.1,63.4 392.6,63.7 393.1,63.9 393.6,64.2 394.1,64.4 394.6,64.6 395.1,64.8 395.6,65.0 396.1,65.2 396.6,65.3 397.1,65.5 397.6,65.6 398.1,65.7 398.6,65.7 399.1,65.8 399.6,65.8 400.1,65.8 400.6,65.8 401.1,65.7 401.6,65.7 402.1,65.6 402.6,65.5 403.1,65.4 403.6,65.2 404.1,65.1 404.6,64.9 405.1,64.7 405.6,64.5 406.1,64.3 406.5,64.1 407.0,63.8 407.5,63.6 408.0,63.3 408.5,63.0 409.0,62.8 409.5,62.5 410.0,62.2 410.5,61.9 411.0,61.6 411.5,61.3 412.0,61.0 412.5,60.7 413.0,60.3 413.5,60.0 414.0,59.7 414.5,59.4 415.0,59.1 415.5,58.8 416.0,58.4 416.5,58.1 417.0,57.8 417.5,57.4 418.0,57.1 418.5,56.8 419.0,56.4 419.5,56.1 420.0,55.7 420.5,55.3 421.0,55.0 421.5,54.6 422.0,54.2 422.5,53.8 423.0,53.4 423.5,53.0 424.0,52.6 424.5,52.2 425.0,51.8 425.5,51.3 426.0,50.9 426.5,50.5 427.0,50.0 427.5,49.6 428.0,49.2 428.5,48.7 429.0,48.3 429.5,47.9 430.0,47.4 430.5,47.0 431.0,46.6 431.5,46.2 432.0,45.8 432.5,45.5 433.0,45.1 433.5,44.8 434.0,44.4 434.5,44.1 435.0,43.8 435.5,43.5 436.0,43.3 436.5,43.0 437.0,42.8 437.5,42.5 438.0,42.3 438.5,42.1 439.0,41.8 439.5,41.6 440.0,41.4 440.5,41.2 441.0,40.9 441.5,40.7 442.0,40.4 442.5,40.2 443.0,39.9 443.5,39.6 444.0,39.4 444.5,39.1 445.0,38.8 445.5,38.5 446.0,38.2 446.5,37.9 447.0,37.5 447.5,37.2 448.0,36.9 448.5,36.6 449.0,36.3 449.5,36.0 450.0,35.7 450.5,35.4 451.0,35.1 451.5,34.8 452.0,34.5 452.5,34.2 453.0,33.9 453.5,33.6 454.0,33.4 454.5,33.1 455.0,32.9 455.5,32.6 456.0,32.4 456.5,32.2 457.0,31.9 457.5,31.7 458.0,31.5 458.5,31.3 459.0,31.1 459.5,30.9 460.0,30.7 460.5,30.5 461.0,30.3 461.5,30.2 462.0,30.0 462.5,29.8 463.0,29.6 463.5,29.5 464.0,29.3 464.5,29.2 465.0,29.0 465.5,28.8 466.0,28.7 466.5,28.5 467.0,28.4 467.5,28.3 468.0,28.1 468.5,28.0 469.0,27.9 469.5,27.8 470.0,27.7 470.5,27.6 471.0,27.5 471.5,27.4 472.0,27.4 472.5,27.4 473.0,27.3 473.5,27.3 474.0,27.3 474.5,27.4 475.0,27.4 475.5,27.4 476.0,27.5 476.5,27.5 477.0,27.6 477.5,27.6 478.0,27.7 478.5,27.8 479.0,27.8 479.5,27.9" fill="none" stroke="#ea2030" stroke-width="1.5" stroke-linejoin="round" stroke-linecap="round" stroke-dasharray="1.9 2.1" stroke-linecap="butt"/>
<polyline points="336.4,33.3 336.9,33.4 337.4,33.4 337.9,33.6 338.4,33.7 338.9,33.9 339.4,34.1 339.9,34.3 340.4,34.5 340.9,34.8 341.4,35.0 341.9,35.3 342.4,35.6 342.9,35.9 343.4,36.2 343.9,36.5 344.4,36.8 344.9,37.1 345.4,37.5 345.9,37.8 346.4,38.1 346.9,38.4 347.4,38.7 347.9,39.0 348.4,39.3 348.9,39.7 349.4,40.0 349.9,40.3 350.4,40.6 350.9,40.9 351.4,41.3 351.9,41.6 352.4,41.9 352.9,42.2 353.4,42.6 353.9,42.9 354.3,43.2 354.8,43.6 355.3,43.9 355.8,44.2 356.3,44.6 356.8,44.9 357.3,45.2 357.8,45.6 358.3,45.9 358.8,46.3 359.3,46.6 359.8,46.9 360.3,47.3 360.8,47.7 361.3,48.0 361.8,48.4 362.3,48.7 362.8,49.1 363.3,49.5 363.8,49.8 364.3,50.2 364.8,50.6 365.3,51.0 365.8,51.4 366.3,51.7 366.8,52.1 367.3,52.5 367.8,53.0 368.3,53.4 368.8,53.8 369.3,54.2 369.8,54.6 370.3,55.0 370.8,55.4 371.3,55.9 371.8,56.3 372.3,56.7 372.8,57.1 373.3,57.5 373.8,57.9 374.3,58.4 374.8,58.8 375.3,59.2 375.8,59.6 376.3,60.0 376.8,60.4 377.3,60.8 377.8,61.2 378.3,61.6 378.8,62.0 379.3,62.4 379.8,62.7 380.3,63.1 380.8,63.5 381.3,63.9 381.8,64.2 382.3,64.6 382.8,65.0 383.3,65.3 383.8,65.7 384.3,66.0 384.8,66.4 385.3,66.7 385.8,67.1 386.3,67.4 386.8,67.8 387.3,68.1 387.8,68.5 388.3,68.8 388.8,69.1 389.3,69.5 389.8,69.8 390.2,70.1 390.7,70.5 391.2,70.8 391.7,71.1 392.2,71.4 392.7,71.7 393.2,71.9 393.7,72.2 394.2,72.5 394.7,72.7 395.2,72.9 395.7,73.2 396.2,73.4 396.7,73.6 397.2,73.7 397.7,73.9 398.2,74.0 398.7,74.1 399.2,74.2 399.7,74.3 400.2,74.4 400.7,74.4 401.2,74.4 401.7,74.4 402.2,74.4 402.7,74.3 403.2,74.3 403.7,74.2 404.2,74.1 404.7,74.0 405.2,73.9 405.7,73.7 406.2,73.6 406.7,73.4 407.2,73.2 407.7,73.0 408.2,72.8 408.7,72.6 409.2,72.3 409.7,72.1 410.2,71.8 410.7,71.5 411.2,71.3 411.7,71.0 412.2,70.7 412.7,70.4 413.2,70.1 413.7,69.7 414.2,69.4 414.7,69.1 415.2,68.8 415.7,68.4 416.2,68.1 416.7,67.8 417.2,67.4 417.7,67.1 418.2,66.8 418.7,66.5 419.2,66.2 419.7,65.9 420.2,65.6 420.7,65.3 421.2,65.0 421.7,64.7 422.2,64.5 422.7,64.3 423.2,64.1 423.7,63.9 424.2,63.7 424.7,63.5 425.2,63.4 425.7,63.2 426.1,63.1 426.6,62.9 427.1,62.8 427.6,62.7 428.1,62.5 428.6,62.3 429.1,62.2 429.6,62.0 430.1,61.7 430.6,61.5 431.1,61.2 431.6,60.9 432.1,60.6 432.6,60.3 433.1,59.9 433.6,59.5 434.1,59.1 434.6,58.7 435.1,58.3 435.6,57.9 436.1,57.5 436.6,57.0 437.1,56.6 437.6,56.1 438.1,55.7 438.6,55.2 439.1,54.8 439.6,54.3 440.1,53.9 440.6,53.4 441.1,53.0 441.6,52.6 442.1,52.2 442.6,51.8 443.1,51.4 443.6,51.0 444.1,50.6 444.6,50.3 445.1,49.9 445.6,49.6 446.1,49.2 446.6,48.9 447.1,48.6 447.6,48.3 448.1,48.0 448.6,47.7 449.1,47.4 449.6,47.2 450.1,46.9 450.6,46.6 451.1,46.4 451.6,46.2 452.1,46.0 452.6,45.7 453.1,45.5 453.6,45.3 454.1,45.1 454.6,45.0 455.1,44.8 455.6,44.6 456.1,44.5 456.6,44.3 457.1,44.1 457.6,44.0 458.1,43.9 458.6,43.7 459.1,43.6 459.6,43.4 460.1,43.3 460.6,43.2 461.1,43.1 461.6,42.9 462.0,42.8 462.5,42.7 463.0,42.5 463.5,42.4 464.0,42.3 464.5,42.1 465.0,42.0 465.5,41.8 466.0,41.7 466.5,41.6 467.0,41.4 467.5,41.3 468.0,41.1 468.5,41.0 469.0,40.9 469.5,40.8 470.0,40.7 470.5,40.6 471.0,40.5 471.5,40.4 472.0,40.4 472.5,40.4 473.0,40.4 473.5,40.4 474.0,40.4 474.5,40.4 475.0,40.5 475.5,40.6 476.0,40.6 476.5,40.7 477.0,40.8 477.5,40.9 478.0,41.0 478.5,41.1 479.0,41.2 479.5,41.3" fill="none" stroke="#ea2030" stroke-width="1.5" stroke-linejoin="round" stroke-linecap="round" stroke-dasharray="1.9 2.1" stroke-linecap="butt"/>
<polyline points="337.3,45.6 337.8,45.6 338.3,45.6 338.8,45.7 339.3,45.8 339.8,45.9 340.3,46.1 340.8,46.2 341.3,46.4 341.8,46.6 342.3,46.9 342.8,47.1 343.3,47.4 343.8,47.7 344.3,47.9 344.8,48.2 345.3,48.5 345.8,48.8 346.3,49.1 346.8,49.3 347.3,49.6 347.8,49.9 348.3,50.2 348.8,50.4 349.3,50.7 349.8,51.0 350.3,51.2 350.8,51.5 351.3,51.8 351.8,52.1 352.3,52.3 352.8,52.6 353.3,52.9 353.8,53.2 354.3,53.5 354.8,53.8 355.3,54.1 355.8,54.5 356.3,54.8 356.8,55.1 357.3,55.5 357.8,55.8 358.3,56.2 358.8,56.6 359.3,57.0 359.8,57.4 360.3,57.8 360.8,58.2 361.2,58.6 361.7,59.0 362.2,59.4 362.7,59.8 363.2,60.2 363.7,60.6 364.2,61.1 364.7,61.5 365.2,61.9 365.7,62.3 366.2,62.7 366.7,63.1 367.2,63.5 367.7,63.9 368.2,64.3 368.7,64.6 369.2,65.0 369.7,65.4 370.2,65.8 370.7,66.1 371.2,66.5 371.7,66.9 372.2,67.2 372.7,67.6 373.2,67.9 373.7,68.3 374.2,68.6 374.7,69.0 375.2,69.3 375.7,69.7 376.2,70.0 376.7,70.4 377.2,70.7 377.7,71.1 378.2,71.4 378.7,71.7 379.2,72.1 379.7,72.4 380.2,72.8 380.7,73.1 381.2,73.4 381.7,73.8 382.2,74.1 382.7,74.4 383.2,74.8 383.7,75.1 384.2,75.4 384.7,75.8 385.2,76.1 385.7,76.4 386.2,76.8 386.7,77.1 387.2,77.4 387.7,77.7 388.2,78.1 388.7,78.4 389.2,78.7 389.7,79.0 390.2,79.3 390.7,79.6 391.2,79.9 391.7,80.2 392.2,80.5 392.7,80.8 393.2,81.1 393.7,81.3 394.2,81.6 394.7,81.8 395.2,82.1 395.7,82.3 396.2,82.5 396.7,82.7 397.2,82.9 397.7,83.0 398.2,83.2 398.7,83.3 399.2,83.4 399.7,83.5 400.2,83.6 400.7,83.6 401.2,83.7 401.7,83.7 402.2,83.7 402.7,83.7 403.2,83.6 403.7,83.6 404.2,83.5 404.7,83.4 405.2,83.3 405.7,83.2 406.2,83.1 406.7,83.0 407.2,82.8 407.7,82.6 408.2,82.5 408.6,82.3 409.1,82.1 409.6,81.8 410.1,81.6 410.6,81.4 411.1,81.1 411.6,80.9 412.1,80.6 412.6,80.3 413.1,80.0 413.6,79.7 414.1,79.4 414.6,79.1 415.1,78.8 415.6,78.4 416.1,78.1 416.6,77.8 417.1,77.4 417.6,77.1 418.1,76.8 418.6,76.5 419.1,76.1 419.6,75.8 420.1,75.5 420.6,75.2 421.1,74.9 421.6,74.7 422.1,74.4 422.6,74.1 423.1,73.9 423.6,73.7 424.1,73.5 424.6,73.3 425.1,73.1 425.6,72.9 426.1,72.7 426.6,72.6 427.1,72.4 427.6,72.2 428.1,72.0 428.6,71.8 429.1,71.6 429.6,71.4 430.1,71.1 430.6,70.9 431.1,70.6 431.6,70.2 432.1,69.9 432.6,69.5 433.1,69.2 433.6,68.8 434.1,68.4 434.6,68.0 435.1,67.5 435.6,67.1 436.1,66.7 436.6,66.2 437.1,65.8 437.6,65.3 438.1,64.9 438.6,64.4 439.1,64.0 439.6,63.6 440.1,63.1 440.6,62.7 441.1,62.3 441.6,61.9 442.1,61.5 442.6,61.1 443.1,60.8 443.6,60.4 444.1,60.1 444.6,59.7 445.1,59.4 445.6,59.1 446.1,58.8 446.6,58.5 447.1,58.3 447.6,58.0 448.1,57.7 448.6,57.5 449.1,57.2 449.6,57.0 450.1,56.7 450.6,56.5 451.1,56.3 451.6,56.1 452.1,55.9 452.6,55.6 453.1,55.4 453.6,55.2 454.1,55.0 454.6,54.8 455.1,54.6 455.6,54.4 456.0,54.3 456.5,54.1 457.0,53.9 457.5,53.7 458.0,53.5 458.5,53.3 459.0,53.2 459.5,53.0 460.0,52.8 460.5,52.7 461.0,52.5 461.5,52.3 462.0,52.2 462.5,52.0 463.0,51.9 463.5,51.7 464.0,51.6 464.5,51.4 465.0,51.3 465.5,51.2 466.0,51.0 466.5,50.9 467.0,50.8 467.5,50.6 468.0,50.5 468.5,50.4 469.0,50.3 469.5,50.2 470.0,50.1 470.5,50.0 471.0,50.0 471.5,49.9 472.0,49.8 472.5,49.8 473.0,49.7 473.5,49.7 474.0,49.7 474.5,49.7 475.0,49.7 475.5,49.7 476.0,49.7 476.5,49.8 477.0,49.8 477.5,49.9 478.0,49.9 478.5,50.0 479.0,50.0 479.5,50.1" fill="none" stroke="#ea2030" stroke-width="1.5" stroke-linejoin="round" stroke-linecap="round" stroke-dasharray="1.9 2.1" stroke-linecap="butt"/>
<text x="315.30" y="33.20" font-size="8.2" text-anchor="middle" fill="#222" >20</text>
<text x="315.30" y="45.80" font-size="8.2" text-anchor="middle" fill="#222" >18</text>
<text x="315.30" y="57.40" font-size="8.2" text-anchor="middle" fill="#222" >16</text>
<text x="319.50" y="68.30" font-size="7.4" text-anchor="middle" fill="#333" ><tspan font-style="italic">w</tspan><tspan font-size="4.5" dy="1.2">Au</tspan><tspan dy="-1.2"> (µm)</tspan></text>
<line x1="433.50" y1="81.30" x2="441.70" y2="81.30" stroke="#f0141e" stroke-width="1.4" stroke-dasharray="1.8 1.4"/>
<text x="446.00" y="83.80" font-size="7.0" text-anchor="start" fill="#222" >EL-fw fit</text>
<g transform="translate(0,0)">
<text x="251.60" y="21.60" font-size="8.8" text-anchor="middle" fill="#222" >measurement</text>
<rect x="225.3" y="55.8" width="52.2" height="13.8" fill="#e9e9e9" stroke="#a0a0a0" stroke-width="0.7"/>
<path d="M240.3,31.5 L240.3,72.5 M262,31.5 L262,72.5" stroke="#ebb93a" stroke-width="0.8" fill="none"/>
<path d="M238.8,47.6 Q234.6,51.5 232.6,56 Q235.5,59.6 240.2,62.2 M263.5,47.6 Q267.7,51.5 269.7,56 Q266.8,59.6 262.1,62.2" stroke="#e4aa22" stroke-width="1.0" fill="none"/>
<rect x="240.3" y="46.3" width="21.4" height="8.8" fill="#f7d000" stroke="#d9a900" stroke-width="0.5"/>
<text x="250.90" y="53.90" font-size="8.4" text-anchor="middle" fill="#222" >Au</text>
<path d="M243.5,56.4 L258.5,56.4" stroke="#000" stroke-width="1.5"/>
<polygon points="240.6,56.4 244.8,54.1 244.8,58.7" fill="#000"/><polygon points="261.7,56.4 257.5,54.1 257.5,58.7" fill="#000"/>
<text x="251.00" y="66.30" font-size="8.6" text-anchor="middle" fill="#333" >SiC</text>
<path d="M240,47 L232.5,47 M262.3,47 L269.8,47" stroke="#f0a81c" stroke-width="1.0"/>
<polygon points="229.3,47 233.2,45.0 233.2,49.0" fill="#f0a81c"/><polygon points="272.8,47 268.9,45.0 268.9,49.0" fill="#f0a81c"/>
<path d="M261.8,27 L261.8,46" stroke="#888" stroke-width="0.6" stroke-dasharray="1 0.8"/>
<path d="M238.8,33.0 L258.6,43.3" stroke="#000" stroke-width="1.7"/>
<polygon points="261.8,45.0 256.3,45.3 258.5,41.0" fill="#000"/>
<text transform="translate(239.6,31.4) rotate(29)" font-size="7.8" font-style="italic" fill="#111" letter-spacing="0.15">Illum.θ</text>
<text x="251.00" y="80.50" font-size="8.8" text-anchor="middle" fill="#222" ><tspan font-style="normal">ν</tspan><tspan font-size="5" dy="1.3">0</tspan><tspan dy="-1.3"> = 910 cm</tspan><tspan font-size="5" dy="-3">-1</tspan></text>
<text x="251.20" y="89.80" font-size="8.8" text-anchor="middle" fill="#222" ><tspan font-style="italic">θ</tspan> = ?</text>
</g>
<path d="M272.4,27.5 L279.8,27.5 L279.2,40 C278.8,47 277,52.6 275.9,52.6 C274.6,52.6 273,47 272.8,40 Z" fill="#000"/>
<rect x="22.3" y="121.3" width="180.2" height="72.10000000000001" fill="none" stroke="#000" stroke-width="1.2"/>
<line x1="22.30" y1="193.40" x2="22.30" y2="190.40" stroke="#000" stroke-width="0.8" />
<line x1="22.30" y1="121.30" x2="22.30" y2="124.30" stroke="#000" stroke-width="0.8" />
<line x1="28.30" y1="193.40" x2="28.30" y2="191.80" stroke="#000" stroke-width="0.8" />
<line x1="28.30" y1="121.30" x2="28.30" y2="122.90" stroke="#000" stroke-width="0.8" />
<line x1="34.30" y1="193.40" x2="34.30" y2="191.80" stroke="#000" stroke-width="0.8" />
<line x1="34.30" y1="121.30" x2="34.30" y2="122.90" stroke="#000" stroke-width="0.8" />
<line x1="40.30" y1="193.40" x2="40.30" y2="191.80" stroke="#000" stroke-width="0.8" />
<line x1="40.30" y1="121.30" x2="40.30" y2="122.90" stroke="#000" stroke-width="0.8" />
<line x1="46.30" y1="193.40" x2="46.30" y2="191.80" stroke="#000" stroke-width="0.8" />
<line x1="46.30" y1="121.30" x2="46.30" y2="122.90" stroke="#000" stroke-width="0.8" />
<line x1="52.30" y1="193.40" x2="52.30" y2="190.40" stroke="#000" stroke-width="0.8" />
<line x1="52.30" y1="121.30" x2="52.30" y2="124.30" stroke="#000" stroke-width="0.8" />
<line x1="58.30" y1="193.40" x2="58.30" y2="191.80" stroke="#000" stroke-width="0.8" />
<line x1="58.30" y1="121.30" x2="58.30" y2="122.90" stroke="#000" stroke-width="0.8" />
<line x1="64.30" y1="193.40" x2="64.30" y2="191.80" stroke="#000" stroke-width="0.8" />
<line x1="64.30" y1="121.30" x2="64.30" y2="122.90" stroke="#000" stroke-width="0.8" />
<line x1="70.30" y1="193.40" x2="70.30" y2="191.80" stroke="#000" stroke-width="0.8" />
<line x1="70.30" y1="121.30" x2="70.30" y2="122.90" stroke="#000" stroke-width="0.8" />
<line x1="76.30" y1="193.40" x2="76.30" y2="191.80" stroke="#000" stroke-width="0.8" />
<line x1="76.30" y1="121.30" x2="76.30" y2="122.90" stroke="#000" stroke-width="0.8" />
<line x1="82.30" y1="193.40" x2="82.30" y2="190.40" stroke="#000" stroke-width="0.8" />
<line x1="82.30" y1="121.30" x2="82.30" y2="124.30" stroke="#000" stroke-width="0.8" />
<line x1="88.30" y1="193.40" x2="88.30" y2="191.80" stroke="#000" stroke-width="0.8" />
<line x1="88.30" y1="121.30" x2="88.30" y2="122.90" stroke="#000" stroke-width="0.8" />
<line x1="94.30" y1="193.40" x2="94.30" y2="191.80" stroke="#000" stroke-width="0.8" />
<line x1="94.30" y1="121.30" x2="94.30" y2="122.90" stroke="#000" stroke-width="0.8" />
<line x1="100.30" y1="193.40" x2="100.30" y2="191.80" stroke="#000" stroke-width="0.8" />
<line x1="100.30" y1="121.30" x2="100.30" y2="122.90" stroke="#000" stroke-width="0.8" />
<line x1="106.30" y1="193.40" x2="106.30" y2="191.80" stroke="#000" stroke-width="0.8" />
<line x1="106.30" y1="121.30" x2="106.30" y2="122.90" stroke="#000" stroke-width="0.8" />
<line x1="112.30" y1="193.40" x2="112.30" y2="190.40" stroke="#000" stroke-width="0.8" />
<line x1="112.30" y1="121.30" x2="112.30" y2="124.30" stroke="#000" stroke-width="0.8" />
<line x1="118.30" y1="193.40" x2="118.30" y2="191.80" stroke="#000" stroke-width="0.8" />
<line x1="118.30" y1="121.30" x2="118.30" y2="122.90" stroke="#000" stroke-width="0.8" />
<line x1="124.30" y1="193.40" x2="124.30" y2="191.80" stroke="#000" stroke-width="0.8" />
<line x1="124.30" y1="121.30" x2="124.30" y2="122.90" stroke="#000" stroke-width="0.8" />
<line x1="130.30" y1="193.40" x2="130.30" y2="191.80" stroke="#000" stroke-width="0.8" />
<line x1="130.30" y1="121.30" x2="130.30" y2="122.90" stroke="#000" stroke-width="0.8" />
<line x1="136.30" y1="193.40" x2="136.30" y2="191.80" stroke="#000" stroke-width="0.8" />
<line x1="136.30" y1="121.30" x2="136.30" y2="122.90" stroke="#000" stroke-width="0.8" />
<line x1="142.30" y1="193.40" x2="142.30" y2="190.40" stroke="#000" stroke-width="0.8" />
<line x1="142.30" y1="121.30" x2="142.30" y2="124.30" stroke="#000" stroke-width="0.8" />
<line x1="148.30" y1="193.40" x2="148.30" y2="191.80" stroke="#000" stroke-width="0.8" />
<line x1="148.30" y1="121.30" x2="148.30" y2="122.90" stroke="#000" stroke-width="0.8" />
<line x1="154.30" y1="193.40" x2="154.30" y2="191.80" stroke="#000" stroke-width="0.8" />
<line x1="154.30" y1="121.30" x2="154.30" y2="122.90" stroke="#000" stroke-width="0.8" />
<line x1="160.30" y1="193.40" x2="160.30" y2="191.80" stroke="#000" stroke-width="0.8" />
<line x1="160.30" y1="121.30" x2="160.30" y2="122.90" stroke="#000" stroke-width="0.8" />
<line x1="166.30" y1="193.40" x2="166.30" y2="191.80" stroke="#000" stroke-width="0.8" />
<line x1="166.30" y1="121.30" x2="166.30" y2="122.90" stroke="#000" stroke-width="0.8" />
<line x1="172.30" y1="193.40" x2="172.30" y2="190.40" stroke="#000" stroke-width="0.8" />
<line x1="172.30" y1="121.30" x2="172.30" y2="124.30" stroke="#000" stroke-width="0.8" />
<line x1="178.30" y1="193.40" x2="178.30" y2="191.80" stroke="#000" stroke-width="0.8" />
<line x1="178.30" y1="121.30" x2="178.30" y2="122.90" stroke="#000" stroke-width="0.8" />
<line x1="184.30" y1="193.40" x2="184.30" y2="191.80" stroke="#000" stroke-width="0.8" />
<line x1="184.30" y1="121.30" x2="184.30" y2="122.90" stroke="#000" stroke-width="0.8" />
<line x1="190.30" y1="193.40" x2="190.30" y2="191.80" stroke="#000" stroke-width="0.8" />
<line x1="190.30" y1="121.30" x2="190.30" y2="122.90" stroke="#000" stroke-width="0.8" />
<line x1="196.30" y1="193.40" x2="196.30" y2="191.80" stroke="#000" stroke-width="0.8" />
<line x1="196.30" y1="121.30" x2="196.30" y2="122.90" stroke="#000" stroke-width="0.8" />
<line x1="202.30" y1="193.40" x2="202.30" y2="190.40" stroke="#000" stroke-width="0.8" />
<line x1="202.30" y1="121.30" x2="202.30" y2="124.30" stroke="#000" stroke-width="0.8" />
<line x1="22.30" y1="193.40" x2="25.30" y2="193.40" stroke="#000" stroke-width="0.8" />
<line x1="202.50" y1="193.40" x2="199.50" y2="193.40" stroke="#000" stroke-width="0.8" />
<line x1="22.30" y1="186.19" x2="23.90" y2="186.19" stroke="#000" stroke-width="0.8" />
<line x1="202.50" y1="186.19" x2="200.90" y2="186.19" stroke="#000" stroke-width="0.8" />
<line x1="22.30" y1="178.98" x2="25.30" y2="178.98" stroke="#000" stroke-width="0.8" />
<line x1="202.50" y1="178.98" x2="199.50" y2="178.98" stroke="#000" stroke-width="0.8" />
<line x1="22.30" y1="171.77" x2="23.90" y2="171.77" stroke="#000" stroke-width="0.8" />
<line x1="202.50" y1="171.77" x2="200.90" y2="171.77" stroke="#000" stroke-width="0.8" />
<line x1="22.30" y1="164.56" x2="25.30" y2="164.56" stroke="#000" stroke-width="0.8" />
<line x1="202.50" y1="164.56" x2="199.50" y2="164.56" stroke="#000" stroke-width="0.8" />
<line x1="22.30" y1="157.35" x2="23.90" y2="157.35" stroke="#000" stroke-width="0.8" />
<line x1="202.50" y1="157.35" x2="200.90" y2="157.35" stroke="#000" stroke-width="0.8" />
<line x1="22.30" y1="150.14" x2="25.30" y2="150.14" stroke="#000" stroke-width="0.8" />
<line x1="202.50" y1="150.14" x2="199.50" y2="150.14" stroke="#000" stroke-width="0.8" />
<line x1="22.30" y1="142.93" x2="23.90" y2="142.93" stroke="#000" stroke-width="0.8" />
<line x1="202.50" y1="142.93" x2="200.90" y2="142.93" stroke="#000" stroke-width="0.8" />
<line x1="22.30" y1="135.72" x2="25.30" y2="135.72" stroke="#000" stroke-width="0.8" />
<line x1="202.50" y1="135.72" x2="199.50" y2="135.72" stroke="#000" stroke-width="0.8" />
<line x1="22.30" y1="128.51" x2="23.90" y2="128.51" stroke="#000" stroke-width="0.8" />
<line x1="202.50" y1="128.51" x2="200.90" y2="128.51" stroke="#000" stroke-width="0.8" />
<line x1="22.30" y1="121.30" x2="25.30" y2="121.30" stroke="#000" stroke-width="0.8" />
<line x1="202.50" y1="121.30" x2="199.50" y2="121.30" stroke="#000" stroke-width="0.8" />
<text x="22.30" y="202.30" font-size="7.5" text-anchor="middle" fill="#222" >0</text>
<text x="52.30" y="202.30" font-size="7.5" text-anchor="middle" fill="#222" >5</text>
<text x="82.30" y="202.30" font-size="7.5" text-anchor="middle" fill="#222" >10</text>
<text x="112.30" y="202.30" font-size="7.5" text-anchor="middle" fill="#222" >15</text>
<text x="142.30" y="202.30" font-size="7.5" text-anchor="middle" fill="#222" >20</text>
<text x="172.30" y="202.30" font-size="7.5" text-anchor="middle" fill="#222" >25</text>
<text x="202.30" y="202.30" font-size="7.5" text-anchor="middle" fill="#222" >30</text>
<text x="19.70" y="195.90" font-size="7.5" text-anchor="end" fill="#222" >0</text>
<text x="19.70" y="181.48" font-size="7.5" text-anchor="end" fill="#222" >1</text>
<text x="19.70" y="167.06" font-size="7.5" text-anchor="end" fill="#222" >2</text>
<text x="19.70" y="152.64" font-size="7.5" text-anchor="end" fill="#222" >3</text>
<text x="19.70" y="138.22" font-size="7.5" text-anchor="end" fill="#222" >4</text>
<text x="19.70" y="123.80" font-size="7.5" text-anchor="end" fill="#222" >5</text>
<text x="112.30" y="213.60" font-size="7.4" text-anchor="middle" fill="#222" >x (µm)</text>
<text transform="translate(10.4,157.2) rotate(-90)" font-size="8.3" text-anchor="middle" fill="#222"><tspan font-style="italic">s</tspan><tspan font-size="5.6" dy="1.7">2</tspan><tspan dy="-1.7">/</tspan><tspan font-style="italic">s</tspan><tspan font-size="5.6" dy="1.7">2</tspan><tspan font-size="5" font-style="italic" dy="-5.6">Au</tspan></text>
<polyline points="22.3,129.6 22.9,130.1 23.4,128.1 24.0,129.9 24.6,128.9 25.1,128.3 25.7,128.2 26.2,128.0 26.8,128.4 27.4,128.9 27.9,128.8 28.5,128.7 29.1,127.4 29.6,127.4 30.2,129.0 30.8,128.3 31.3,128.5 31.9,127.9 32.5,127.4 33.0,129.7 33.6,130.6 34.1,131.3 34.7,131.6 35.3,132.8 35.8,133.4 36.4,134.7 37.0,135.0 37.5,136.5 38.1,135.9 38.7,137.3 39.2,138.1 39.8,138.1 40.4,138.7 40.9,140.6 41.5,141.1 42.0,141.5 42.6,142.5 43.2,142.7 43.7,144.0 44.3,144.2 44.9,145.4 45.4,146.6 46.0,146.7 46.6,148.5 47.1,149.3 47.7,152.5 48.3,154.8 48.8,157.7 49.4,158.5 49.9,157.0 50.5,154.8 51.1,154.2 51.6,153.4 52.2,151.1 52.8,151.8 53.3,149.7 53.9,149.9 54.5,150.2 55.0,150.5 55.6,150.0 56.2,150.4 56.7,151.2 57.3,151.1 57.8,151.5 58.4,152.6 59.0,153.1 59.5,152.9 60.1,153.2 60.7,153.6 61.2,153.7 61.8,154.0 62.4,154.1 62.9,155.5 63.5,155.5 64.1,155.9 64.6,156.5 65.2,157.2 65.7,158.2 66.3,157.7 66.9,158.2 67.4,159.1 68.0,159.2 68.6,160.9 69.1,161.3 69.7,161.8 70.3,162.0 70.8,163.0 71.4,163.8 72.0,164.0 72.5,164.2 73.1,164.0 73.6,166.0 74.2,165.9 74.8,166.3 75.3,167.9 75.9,168.4 76.5,168.2 77.0,169.8 77.6,170.6 78.2,172.1 78.7,171.2 79.3,172.7 79.8,173.3 80.4,174.6 81.0,173.5 81.5,172.9 82.1,174.1 82.7,175.3 83.2,175.9 83.8,176.6 84.4,176.1 84.9,175.6 85.5,176.6 86.1,176.2 86.6,176.1 87.2,176.2 87.7,176.9 88.3,175.6 88.9,175.5 89.4,176.0 90.0,175.9 90.6,175.4 91.1,175.3 91.7,175.9 92.3,176.4 92.8,175.9 93.4,175.8 94.0,175.9 94.5,173.9 95.1,173.9 95.6,174.1 96.2,173.5 96.8,173.3 97.3,173.6 97.9,172.5 98.5,172.6 99.0,171.4 99.6,171.6 100.2,172.5 100.7,171.2 101.3,171.3 101.9,171.1 102.4,170.0 103.0,170.2 103.5,169.6 104.1,169.4 104.7,168.3 105.2,167.4 105.8,167.1 106.4,166.9 106.9,167.0 107.5,166.1 108.1,165.5 108.6,165.2 109.2,165.3 109.8,163.9 110.3,164.5 110.9,162.4 111.4,162.1 112.0,162.3 112.6,161.4 113.1,159.9 113.7,159.5 114.3,158.3 114.8,158.2 115.4,157.1 116.0,155.5 116.5,155.2 117.1,154.0 117.7,153.5 118.2,153.0 118.8,152.1 119.3,152.1 119.9,151.6 120.5,151.1 121.0,151.0 121.6,149.8 122.2,148.7 122.7,148.9 123.3,148.8 123.9,148.3 124.4,148.2 125.0,148.0 125.6,147.1 126.1,146.7 126.7,145.8 127.2,146.6 127.8,145.5 128.4,144.7 128.9,144.4 129.5,144.5 130.1,145.2 130.6,144.5 131.2,142.8 131.8,143.4 132.3,143.3 132.9,143.3 133.5,142.8 134.0,142.0 134.6,142.3 135.1,141.5 135.7,140.3 136.3,140.9 136.8,140.6 137.4,141.2 138.0,141.0 138.5,139.5 139.1,139.9 139.7,139.6 140.2,138.5 140.8,137.9 141.3,138.7 141.9,138.6 142.5,138.0 143.0,136.6 143.6,137.8 144.2,137.3 144.7,136.9 145.3,137.0 145.9,136.3 146.4,137.0 147.0,136.5 147.6,135.9 148.1,136.1 148.7,135.7 149.2,134.6 149.8,135.1 150.4,134.7 150.9,133.7 151.5,134.1 152.1,134.4 152.6,133.6 153.2,134.5 153.8,134.5 154.3,133.2 154.9,133.5 155.5,134.2 156.0,132.8 156.6,132.3 157.1,132.4 157.7,131.8 158.3,131.7 158.8,132.4 159.4,131.9 160.0,132.2 160.5,132.2 161.1,131.5 161.7,131.7 162.2,131.6 162.8,131.4 163.4,131.2 163.9,131.9 164.5,131.6 165.0,131.9 165.6,132.3 166.2,132.3 166.7,131.1 167.3,131.2 167.9,131.6 168.4,131.8 169.0,132.2 169.6,131.2 170.1,131.5 170.7,131.8 171.3,132.4 171.8,132.5 172.4,131.1 172.9,131.6 173.5,131.4 174.1,132.4 174.6,132.3 175.2,132.0 175.8,132.1 176.3,132.8 176.9,133.4 177.5,132.7 178.0,133.2 178.6,133.7 179.2,133.9 179.7,134.3 180.3,133.8 180.8,134.3 181.4,133.7 182.0,135.1 182.5,135.9 183.1,134.5 183.7,135.5 184.2,136.6 184.8,136.3 185.4,135.6 185.9,137.6 186.5,136.5 187.1,138.3 187.6,137.5 188.2,137.8 188.7,138.5 189.3,138.8 189.9,139.5 190.4,139.9 191.0,139.9" fill="none" stroke="#f7b4b4" stroke-width="3.0" stroke-linejoin="round" stroke-linecap="round" />
<polyline points="22.3,129.6 22.9,130.1 23.4,128.1 24.0,129.9 24.6,128.9 25.1,128.3 25.7,128.2 26.2,128.0 26.8,128.4 27.4,128.9 27.9,128.8 28.5,128.7 29.1,127.4 29.6,127.4 30.2,129.0 30.8,128.3 31.3,128.5 31.9,127.9 32.5,127.4 33.0,129.7 33.6,130.6 34.1,131.3 34.7,131.6 35.3,132.8 35.8,133.4 36.4,134.7 37.0,135.0 37.5,136.5 38.1,135.9 38.7,137.3 39.2,138.1 39.8,138.1 40.4,138.7 40.9,140.6 41.5,141.1 42.0,141.5 42.6,142.5 43.2,142.7 43.7,144.0 44.3,144.2 44.9,145.4 45.4,146.6 46.0,146.7 46.6,148.5 47.1,149.3 47.7,152.5 48.3,154.8 48.8,157.7 49.4,158.5 49.9,157.0 50.5,154.8 51.1,154.2 51.6,153.4 52.2,151.1 52.8,151.8 53.3,149.7 53.9,149.9 54.5,150.2 55.0,150.5 55.6,150.0 56.2,150.4 56.7,151.2 57.3,151.1 57.8,151.5 58.4,152.6 59.0,153.1 59.5,152.9 60.1,153.2 60.7,153.6 61.2,153.7 61.8,154.0 62.4,154.1 62.9,155.5 63.5,155.5 64.1,155.9 64.6,156.5 65.2,157.2 65.7,158.2 66.3,157.7 66.9,158.2 67.4,159.1 68.0,159.2 68.6,160.9 69.1,161.3 69.7,161.8 70.3,162.0 70.8,163.0 71.4,163.8 72.0,164.0 72.5,164.2 73.1,164.0 73.6,166.0 74.2,165.9 74.8,166.3 75.3,167.9 75.9,168.4 76.5,168.2 77.0,169.8 77.6,170.6 78.2,172.1 78.7,171.2 79.3,172.7 79.8,173.3 80.4,174.6 81.0,173.5 81.5,172.9 82.1,174.1 82.7,175.3 83.2,175.9 83.8,176.6 84.4,176.1 84.9,175.6 85.5,176.6 86.1,176.2 86.6,176.1 87.2,176.2 87.7,176.9 88.3,175.6 88.9,175.5 89.4,176.0 90.0,175.9 90.6,175.4 91.1,175.3 91.7,175.9 92.3,176.4 92.8,175.9 93.4,175.8 94.0,175.9 94.5,173.9 95.1,173.9 95.6,174.1 96.2,173.5 96.8,173.3 97.3,173.6 97.9,172.5 98.5,172.6 99.0,171.4 99.6,171.6 100.2,172.5 100.7,171.2 101.3,171.3 101.9,171.1 102.4,170.0 103.0,170.2 103.5,169.6 104.1,169.4 104.7,168.3 105.2,167.4 105.8,167.1 106.4,166.9 106.9,167.0 107.5,166.1 108.1,165.5 108.6,165.2 109.2,165.3 109.8,163.9 110.3,164.5 110.9,162.4 111.4,162.1 112.0,162.3 112.6,161.4 113.1,159.9 113.7,159.5 114.3,158.3 114.8,158.2 115.4,157.1 116.0,155.5 116.5,155.2 117.1,154.0 117.7,153.5 118.2,153.0 118.8,152.1 119.3,152.1 119.9,151.6 120.5,151.1 121.0,151.0 121.6,149.8 122.2,148.7 122.7,148.9 123.3,148.8 123.9,148.3 124.4,148.2 125.0,148.0 125.6,147.1 126.1,146.7 126.7,145.8 127.2,146.6 127.8,145.5 128.4,144.7 128.9,144.4 129.5,144.5 130.1,145.2 130.6,144.5 131.2,142.8 131.8,143.4 132.3,143.3 132.9,143.3 133.5,142.8 134.0,142.0 134.6,142.3 135.1,141.5 135.7,140.3 136.3,140.9 136.8,140.6 137.4,141.2 138.0,141.0 138.5,139.5 139.1,139.9 139.7,139.6 140.2,138.5 140.8,137.9 141.3,138.7 141.9,138.6 142.5,138.0 143.0,136.6 143.6,137.8 144.2,137.3 144.7,136.9 145.3,137.0 145.9,136.3 146.4,137.0 147.0,136.5 147.6,135.9 148.1,136.1 148.7,135.7 149.2,134.6 149.8,135.1 150.4,134.7 150.9,133.7 151.5,134.1 152.1,134.4 152.6,133.6 153.2,134.5 153.8,134.5 154.3,133.2 154.9,133.5 155.5,134.2 156.0,132.8 156.6,132.3 157.1,132.4 157.7,131.8 158.3,131.7 158.8,132.4 159.4,131.9 160.0,132.2 160.5,132.2 161.1,131.5 161.7,131.7 162.2,131.6 162.8,131.4 163.4,131.2 163.9,131.9 164.5,131.6 165.0,131.9 165.6,132.3 166.2,132.3 166.7,131.1 167.3,131.2 167.9,131.6 168.4,131.8 169.0,132.2 169.6,131.2 170.1,131.5 170.7,131.8 171.3,132.4 171.8,132.5 172.4,131.1 172.9,131.6 173.5,131.4 174.1,132.4 174.6,132.3 175.2,132.0 175.8,132.1 176.3,132.8 176.9,133.4 177.5,132.7 178.0,133.2 178.6,133.7 179.2,133.9 179.7,134.3 180.3,133.8 180.8,134.3 181.4,133.7 182.0,135.1 182.5,135.9 183.1,134.5 183.7,135.5 184.2,136.6 184.8,136.3 185.4,135.6 185.9,137.6 186.5,136.5 187.1,138.3 187.6,137.5 188.2,137.8 188.7,138.5 189.3,138.8 189.9,139.5 190.4,139.9 191.0,139.9" fill="none" stroke="#f06262" stroke-width="1.7" stroke-linejoin="round" stroke-linecap="round" />
<polyline points="22.3,149.0 22.8,148.8 23.3,148.6 23.8,148.7 24.4,149.6 24.9,147.9 25.4,149.1 25.9,149.2 26.4,148.4 26.9,148.3 27.4,148.9 28.0,149.4 28.5,150.0 29.0,149.6 29.5,150.1 30.0,149.3 30.5,149.3 31.0,149.2 31.6,149.7 32.1,150.4 32.6,150.9 33.1,150.6 33.6,152.1 34.1,152.3 34.6,152.6 35.2,153.3 35.7,155.4 36.2,155.2 36.7,155.3 37.2,155.9 37.7,157.9 38.2,157.2 38.8,158.7 39.3,159.4 39.8,158.2 40.3,160.5 40.8,160.2 41.3,160.1 41.8,160.5 42.4,161.1 42.9,161.1 43.4,161.1 43.9,160.6 44.4,161.6 44.9,161.7 45.4,161.9 46.0,161.5 46.5,161.9 47.0,161.9 47.5,161.0 48.0,160.8 48.5,160.4 49.0,160.0 49.6,159.8 50.1,158.2 50.6,158.6 51.1,158.7 51.6,157.0 52.1,157.0 52.6,158.1 53.2,156.4 53.7,156.3 54.2,156.3 54.7,155.6 55.2,155.0 55.7,154.8 56.2,154.5 56.8,154.0 57.3,154.0 57.8,154.4 58.3,153.4 58.8,153.7 59.3,153.0 59.8,152.8 60.4,152.4 60.9,151.7 61.4,151.9 61.9,151.6 62.4,150.7 62.9,151.4 63.4,151.1 64.0,150.9 64.5,150.4 65.0,149.3 65.5,151.4 66.0,150.7 66.5,149.8 67.0,151.4 67.6,150.9 68.1,151.9 68.6,151.7 69.1,152.6 69.6,152.4 70.1,152.7 70.6,152.9 71.2,153.8 71.7,153.0 72.2,154.7 72.7,154.9 73.2,154.7 73.7,155.5 74.2,155.7 74.8,156.5 75.3,157.3 75.8,156.9 76.3,157.9 76.8,158.3 77.3,158.4 77.8,159.0 78.4,158.3 78.9,158.8 79.4,159.8 79.9,158.7 80.4,158.6 80.9,158.7 81.4,159.0 82.0,158.4 82.5,158.5 83.0,157.7 83.5,157.9 84.0,157.7 84.5,157.5 85.0,157.7 85.6,158.1 86.1,157.4 86.6,156.7 87.1,157.3 87.6,157.0 88.1,156.0 88.6,156.5 89.2,155.6 89.7,155.5 90.2,155.2 90.7,155.7 91.2,154.6 91.7,154.6 92.2,154.6 92.8,154.8 93.3,154.6 93.8,153.2 94.3,154.0 94.8,153.3 95.3,153.6 95.8,153.3 96.4,152.4 96.9,152.6 97.4,152.4 97.9,152.7 98.4,153.4 98.9,152.7 99.4,152.4 100.0,154.2 100.5,152.6 101.0,153.3 101.5,153.4 102.0,153.0 102.5,154.2 103.0,154.5 103.6,154.1 104.1,154.3 104.6,154.4 105.1,153.8 105.6,155.0 106.1,154.4 106.6,154.8 107.2,155.7 107.7,156.1 108.2,155.5 108.7,156.7 109.2,157.3 109.7,156.8 110.2,156.9 110.8,157.3 111.3,157.2 111.8,157.1 112.3,157.9 112.8,158.0 113.3,157.3 113.8,157.4 114.4,157.2 114.9,157.2 115.4,157.0 115.9,156.7 116.4,157.8 116.9,157.1 117.4,157.3 118.0,158.1 118.5,156.8 119.0,157.2 119.5,156.0 120.0,156.1 120.5,156.5 121.0,155.8 121.6,154.9 122.1,154.6 122.6,155.2 123.1,154.3 123.6,154.8 124.1,154.3 124.6,153.7 125.2,153.6 125.7,153.8 126.2,153.2 126.7,152.4 127.2,152.8 127.7,152.2 128.2,152.0 128.8,152.1 129.3,151.8 129.8,152.0 130.3,151.3 130.8,151.0 131.3,151.1 131.8,151.5 132.4,151.0 132.9,151.4 133.4,151.4 133.9,151.8 134.4,152.4 134.9,154.0 135.4,152.9 136.0,153.6 136.5,153.9 137.0,154.0 137.5,154.4 138.0,155.6 138.5,154.8 139.0,156.0 139.6,155.9 140.1,155.5 140.6,155.9 141.1,156.3 141.6,156.3 142.1,157.7 142.6,157.6 143.2,157.9 143.7,157.3 144.2,158.2 144.7,157.8 145.2,159.3 145.7,158.1 146.2,158.4 146.8,158.5 147.3,158.1 147.8,158.2 148.3,158.2 148.8,158.8 149.3,158.1 149.8,158.4 150.4,158.6 150.9,158.3 151.4,157.8 151.9,157.9 152.4,158.2 152.9,157.8 153.4,158.7 154.0,158.1 154.5,157.9 155.0,157.3 155.5,157.9" fill="none" stroke="#c0c0f6" stroke-width="2.8" stroke-linejoin="round" stroke-linecap="round" />
<polyline points="22.3,149.0 22.8,148.8 23.3,148.6 23.8,148.7 24.4,149.6 24.9,147.9 25.4,149.1 25.9,149.2 26.4,148.4 26.9,148.3 27.4,148.9 28.0,149.4 28.5,150.0 29.0,149.6 29.5,150.1 30.0,149.3 30.5,149.3 31.0,149.2 31.6,149.7 32.1,150.4 32.6,150.9 33.1,150.6 33.6,152.1 34.1,152.3 34.6,152.6 35.2,153.3 35.7,155.4 36.2,155.2 36.7,155.3 37.2,155.9 37.7,157.9 38.2,157.2 38.8,158.7 39.3,159.4 39.8,158.2 40.3,160.5 40.8,160.2 41.3,160.1 41.8,160.5 42.4,161.1 42.9,161.1 43.4,161.1 43.9,160.6 44.4,161.6 44.9,161.7 45.4,161.9 46.0,161.5 46.5,161.9 47.0,161.9 47.5,161.0 48.0,160.8 48.5,160.4 49.0,160.0 49.6,159.8 50.1,158.2 50.6,158.6 51.1,158.7 51.6,157.0 52.1,157.0 52.6,158.1 53.2,156.4 53.7,156.3 54.2,156.3 54.7,155.6 55.2,155.0 55.7,154.8 56.2,154.5 56.8,154.0 57.3,154.0 57.8,154.4 58.3,153.4 58.8,153.7 59.3,153.0 59.8,152.8 60.4,152.4 60.9,151.7 61.4,151.9 61.9,151.6 62.4,150.7 62.9,151.4 63.4,151.1 64.0,150.9 64.5,150.4 65.0,149.3 65.5,151.4 66.0,150.7 66.5,149.8 67.0,151.4 67.6,150.9 68.1,151.9 68.6,151.7 69.1,152.6 69.6,152.4 70.1,152.7 70.6,152.9 71.2,153.8 71.7,153.0 72.2,154.7 72.7,154.9 73.2,154.7 73.7,155.5 74.2,155.7 74.8,156.5 75.3,157.3 75.8,156.9 76.3,157.9 76.8,158.3 77.3,158.4 77.8,159.0 78.4,158.3 78.9,158.8 79.4,159.8 79.9,158.7 80.4,158.6 80.9,158.7 81.4,159.0 82.0,158.4 82.5,158.5 83.0,157.7 83.5,157.9 84.0,157.7 84.5,157.5 85.0,157.7 85.6,158.1 86.1,157.4 86.6,156.7 87.1,157.3 87.6,157.0 88.1,156.0 88.6,156.5 89.2,155.6 89.7,155.5 90.2,155.2 90.7,155.7 91.2,154.6 91.7,154.6 92.2,154.6 92.8,154.8 93.3,154.6 93.8,153.2 94.3,154.0 94.8,153.3 95.3,153.6 95.8,153.3 96.4,152.4 96.9,152.6 97.4,152.4 97.9,152.7 98.4,153.4 98.9,152.7 99.4,152.4 100.0,154.2 100.5,152.6 101.0,153.3 101.5,153.4 102.0,153.0 102.5,154.2 103.0,154.5 103.6,154.1 104.1,154.3 104.6,154.4 105.1,153.8 105.6,155.0 106.1,154.4 106.6,154.8 107.2,155.7 107.7,156.1 108.2,155.5 108.7,156.7 109.2,157.3 109.7,156.8 110.2,156.9 110.8,157.3 111.3,157.2 111.8,157.1 112.3,157.9 112.8,158.0 113.3,157.3 113.8,157.4 114.4,157.2 114.9,157.2 115.4,157.0 115.9,156.7 116.4,157.8 116.9,157.1 117.4,157.3 118.0,158.1 118.5,156.8 119.0,157.2 119.5,156.0 120.0,156.1 120.5,156.5 121.0,155.8 121.6,154.9 122.1,154.6 122.6,155.2 123.1,154.3 123.6,154.8 124.1,154.3 124.6,153.7 125.2,153.6 125.7,153.8 126.2,153.2 126.7,152.4 127.2,152.8 127.7,152.2 128.2,152.0 128.8,152.1 129.3,151.8 129.8,152.0 130.3,151.3 130.8,151.0 131.3,151.1 131.8,151.5 132.4,151.0 132.9,151.4 133.4,151.4 133.9,151.8 134.4,152.4 134.9,154.0 135.4,152.9 136.0,153.6 136.5,153.9 137.0,154.0 137.5,154.4 138.0,155.6 138.5,154.8 139.0,156.0 139.6,155.9 140.1,155.5 140.6,155.9 141.1,156.3 141.6,156.3 142.1,157.7 142.6,157.6 143.2,157.9 143.7,157.3 144.2,158.2 144.7,157.8 145.2,159.3 145.7,158.1 146.2,158.4 146.8,158.5 147.3,158.1 147.8,158.2 148.3,158.2 148.8,158.8 149.3,158.1 149.8,158.4 150.4,158.6 150.9,158.3 151.4,157.8 151.9,157.9 152.4,158.2 152.9,157.8 153.4,158.7 154.0,158.1 154.5,157.9 155.0,157.3 155.5,157.9" fill="none" stroke="#3a3ae8" stroke-width="1.5" stroke-linejoin="round" stroke-linecap="round" />
<polyline points="22.3,127.8 22.8,127.8 23.2,127.8 23.7,127.8 24.1,127.8 24.6,127.8 25.0,127.9 25.5,127.9 25.9,127.9 26.4,127.9 26.8,128.0 27.3,128.0 27.7,128.0 28.2,128.1 28.6,128.1 29.1,128.2 29.5,128.2 30.0,128.3 30.4,128.5 30.9,128.8 31.3,129.1 31.8,129.5 32.2,129.9 32.7,130.3 33.1,130.7 33.6,131.2 34.0,131.7 34.5,132.1 34.9,132.6 35.4,133.0 35.8,133.4 36.3,133.8 36.7,134.2 37.2,134.6 37.6,135.0 38.1,135.4 38.5,135.8 39.0,136.2 39.4,136.7 39.9,137.1 40.3,137.5 40.8,138.0 41.2,138.5 41.7,139.0 42.1,139.5 42.6,140.0 43.1,140.5 43.5,141.0 44.0,141.5 44.4,142.0 44.9,142.5 45.3,143.0 45.8,143.5 46.2,144.0 46.7,144.5 47.1,145.0 47.6,145.4 48.0,145.9 48.5,146.4 48.9,146.9 49.4,147.4 49.8,147.9 50.3,148.4 50.7,148.9 51.2,149.4 51.6,149.9 52.1,150.4 52.5,150.9 53.0,151.5 53.4,152.0 53.9,152.5 54.3,153.0 54.8,153.5 55.2,154.0 55.7,154.5 56.1,154.9 56.6,155.4 57.0,155.8 57.5,156.2 57.9,156.6 58.4,157.0 58.8,157.4 59.3,157.8 59.7,158.2 60.2,158.6 60.6,159.0 61.1,159.3 61.5,159.7 62.0,160.1 62.5,160.5 62.9,160.8 63.4,161.2 63.8,161.6 64.3,161.9 64.7,162.3 65.2,162.6 65.6,163.0 66.1,163.3 66.5,163.7 67.0,164.0 67.4,164.3 67.9,164.6 68.3,164.9 68.8,165.2 69.2,165.5 69.7,165.8 70.1,166.0 70.6,166.3 71.0,166.6 71.5,166.8 71.9,167.1 72.4,167.4 72.8,167.6 73.3,167.9 73.7,168.1 74.2,168.4 74.6,168.6 75.1,168.9 75.5,169.2 76.0,169.4 76.4,169.6 76.9,169.9 77.3,170.1 77.8,170.3 78.2,170.6 78.7,170.7 79.1,170.9 79.6,171.1 80.0,171.3 80.5,171.4 80.9,171.6 81.4,171.7 81.8,171.9 82.3,172.0 82.8,172.2 83.2,172.3 83.7,172.5 84.1,172.6 84.6,172.7 85.0,172.8 85.5,172.9 85.9,173.0 86.4,173.0 86.8,173.1 87.3,173.1 87.7,173.1 88.2,173.1 88.6,173.1 89.1,173.1 89.5,173.0 90.0,173.0 90.4,173.0 90.9,173.0 91.3,172.9 91.8,172.9 92.2,172.8 92.7,172.8 93.1,172.7 93.6,172.7 94.0,172.6 94.5,172.6 94.9,172.5 95.4,172.4 95.8,172.3 96.3,172.2 96.7,172.1 97.2,171.9 97.6,171.8 98.1,171.6 98.5,171.4 99.0,171.2 99.4,171.0 99.9,170.7 100.3,170.5 100.8,170.3 101.2,170.1 101.7,169.8 102.1,169.6 102.6,169.3 103.1,169.1 103.5,168.9 104.0,168.6 104.4,168.3 104.9,168.1 105.3,167.8 105.8,167.5 106.2,167.2 106.7,166.9 107.1,166.5 107.6,166.2 108.0,165.9 108.5,165.6 108.9,165.2 109.4,164.9 109.8,164.5 110.3,164.2 110.7,163.8 111.2,163.5 111.6,163.1 112.1,162.7 112.5,162.3 113.0,161.9 113.4,161.5 113.9,161.1 114.3,160.6 114.8,160.2 115.2,159.8 115.7,159.3 116.1,158.9 116.6,158.4 117.0,158.0 117.5,157.5 117.9,157.1 118.4,156.6 118.8,156.1 119.3,155.7 119.7,155.2 120.2,154.7 120.6,154.2 121.1,153.8 121.5,153.3 122.0,152.8 122.5,152.4 122.9,151.9 123.4,151.5 123.8,151.1 124.3,150.7 124.7,150.3 125.2,149.9 125.6,149.5 126.1,149.1 126.5,148.7 127.0,148.4 127.4,148.0 127.9,147.7 128.3,147.3 128.8,147.0 129.2,146.7 129.7,146.3 130.1,146.0 130.6,145.7 131.0,145.4 131.5,145.1 131.9,144.8 132.4,144.5 132.8,144.2 133.3,143.9 133.7,143.6 134.2,143.3 134.6,143.1 135.1,142.8 135.5,142.5 136.0,142.2 136.4,142.0 136.9,141.7 137.3,141.5 137.8,141.2 138.2,141.0 138.7,140.7 139.1,140.5 139.6,140.2 140.0,140.0 140.5,139.7 140.9,139.5 141.4,139.2 141.8,139.0 142.3,138.8 142.8,138.5 143.2,138.3 143.7,138.1 144.1,137.8 144.6,137.6 145.0,137.4 145.5,137.2 145.9,137.0 146.4,136.8 146.8,136.5 147.3,136.4 147.7,136.2 148.2,136.0 148.6,135.8 149.1,135.6 149.5,135.4 150.0,135.2 150.4,135.0 150.9,134.9 151.3,134.7 151.8,134.5 152.2,134.4 152.7,134.2 153.1,134.0 153.6,133.9 154.0,133.8 154.5,133.6 154.9,133.5 155.4,133.4 155.8,133.3 156.3,133.2 156.7,133.1 157.2,133.0 157.6,132.9 158.1,132.8 158.5,132.7 159.0,132.6 159.4,132.6 159.9,132.5 160.3,132.5 160.8,132.4 161.2,132.4 161.7,132.3 162.1,132.3 162.6,132.2 163.1,132.2 163.5,132.2 164.0,132.1 164.4,132.1 164.9,132.0 165.3,132.0 165.8,132.0 166.2,132.0 166.7,131.9 167.1,131.9 167.6,131.9 168.0,131.9 168.5,131.9 168.9,131.9 169.4,131.9 169.8,132.0 170.3,132.0 170.7,132.1 171.2,132.2 171.6,132.3 172.1,132.4 172.5,132.5 173.0,132.6 173.4,132.8 173.9,132.9 174.3,133.0 174.8,133.1 175.2,133.3 175.7,133.4 176.1,133.6 176.6,133.7 177.0,133.9 177.5,134.1 177.9,134.2 178.4,134.4 178.8,134.6 179.3,134.8 179.7,135.0 180.2,135.2 180.6,135.4 181.1,135.6 181.5,135.8 182.0,136.0 182.5,136.2 182.9,136.4 183.4,136.6 183.8,136.8 184.3,137.0 184.7,137.2 185.2,137.4 185.6,137.6 186.1,137.9 186.5,138.1 187.0,138.3 187.4,138.6 187.9,138.8 188.3,139.1 188.8,139.4 189.2,139.6 189.7,139.9 190.1,140.2 190.6,140.6 191.0,141.0 191.5,141.4 191.9,141.8 192.4,142.2 192.8,142.6 193.3,143.0 193.7,143.5 194.2,143.9 194.6,144.4 195.1,144.8 195.5,145.2 196.0,145.6 196.4,146.0 196.9,146.4 197.3,146.8 197.8,147.2 198.2,147.6 198.7,147.9 199.1,148.3 199.6,148.7 200.0,149.1 200.5,149.5 200.9,149.9 201.4,150.2 201.8,150.6 202.3,151.0" fill="none" stroke="#111" stroke-width="1.5" stroke-linejoin="round" stroke-linecap="round" stroke-dasharray="1.5 2.5" stroke-linecap="butt"/>
<polyline points="22.3,149.5 22.8,149.3 23.2,149.2 23.7,149.1 24.1,149.0 24.6,148.9 25.0,148.9 25.5,148.8 25.9,148.8 26.4,148.8 26.8,148.8 27.3,148.8 27.7,148.8 28.2,148.9 28.6,149.0 29.1,149.1 29.5,149.3 30.0,149.5 30.4,149.7 30.9,149.9 31.3,150.1 31.8,150.3 32.2,150.6 32.7,150.8 33.1,151.1 33.6,151.6 34.0,152.1 34.5,152.6 34.9,153.2 35.4,153.9 35.8,154.5 36.3,155.1 36.7,155.7 37.2,156.2 37.6,156.6 38.1,157.1 38.5,157.6 39.0,158.1 39.4,158.6 39.9,159.0 40.3,159.4 40.8,159.8 41.2,160.1 41.7,160.3 42.1,160.5 42.6,160.5 43.1,160.6 43.5,160.6 44.0,160.6 44.4,160.7 44.9,160.7 45.3,160.7 45.8,160.7 46.2,160.7 46.7,160.7 47.1,160.6 47.6,160.4 48.0,160.2 48.5,159.9 48.9,159.6 49.4,159.3 49.8,159.0 50.3,158.7 50.7,158.5 51.2,158.2 51.6,157.9 52.1,157.6 52.5,157.3 53.0,157.0 53.4,156.7 53.9,156.3 54.3,156.0 54.8,155.7 55.2,155.4 55.7,155.1 56.1,154.8 56.6,154.5 57.0,154.2 57.5,153.8 57.9,153.5 58.4,153.2 58.8,152.9 59.3,152.7 59.7,152.4 60.2,152.2 60.6,152.0 61.1,151.8 61.5,151.6 62.0,151.4 62.5,151.2 62.9,151.0 63.4,150.8 63.8,150.7 64.3,150.6 64.7,150.5 65.2,150.5 65.6,150.5 66.1,150.6 66.5,150.7 67.0,150.9 67.4,151.1 67.9,151.3 68.3,151.5 68.8,151.7 69.2,151.9 69.7,152.1 70.1,152.4 70.6,152.6 71.0,152.9 71.5,153.2 71.9,153.6 72.4,154.0 72.8,154.4 73.3,154.8 73.7,155.2 74.2,155.6 74.6,156.0 75.1,156.4 75.5,156.7 76.0,157.1 76.4,157.3 76.9,157.6 77.3,157.8 77.8,157.9 78.2,158.0 78.7,158.1 79.1,158.2 79.6,158.3 80.0,158.4 80.5,158.5 80.9,158.5 81.4,158.5 81.8,158.5 82.3,158.4 82.8,158.3 83.2,158.2 83.7,158.1 84.1,158.0 84.6,157.9 85.0,157.7 85.5,157.6 85.9,157.4 86.4,157.3 86.8,157.1 87.3,156.9 87.7,156.7 88.2,156.4 88.6,156.2 89.1,155.9 89.5,155.7 90.0,155.4 90.4,155.2 90.9,155.0 91.3,154.8 91.8,154.6 92.2,154.3 92.7,154.1 93.1,153.8 93.6,153.6 94.0,153.4 94.5,153.2 94.9,152.9 95.4,152.8 95.8,152.6 96.3,152.5 96.7,152.4 97.2,152.3 97.6,152.3 98.1,152.3 98.5,152.4 99.0,152.5 99.4,152.6 99.9,152.7 100.3,152.8 100.8,153.0 101.2,153.1 101.7,153.2 102.1,153.4 102.6,153.5 103.1,153.7 103.5,153.8 104.0,154.0 104.4,154.2 104.9,154.4 105.3,154.6 105.8,154.8 106.2,155.0 106.7,155.2 107.1,155.4 107.6,155.5 108.0,155.7 108.5,155.9 108.9,156.1 109.4,156.3 109.8,156.5 110.3,156.7 110.7,156.9 111.2,157.1 111.6,157.3 112.1,157.4 112.5,157.5 113.0,157.6 113.4,157.6 113.9,157.6 114.3,157.6 114.8,157.5 115.2,157.5 115.7,157.4 116.1,157.4 116.6,157.3 117.0,157.2 117.5,157.1 117.9,157.0 118.4,156.9 118.8,156.8 119.3,156.7 119.7,156.6 120.2,156.4 120.6,156.2 121.1,155.9 121.5,155.7 122.0,155.4 122.5,155.2 122.9,154.9 123.4,154.6 123.8,154.3 124.3,154.1 124.7,153.9 125.2,153.7 125.6,153.5 126.1,153.3 126.5,153.1 127.0,152.8 127.4,152.6 127.9,152.4 128.3,152.2 128.8,152.0 129.2,151.9 129.7,151.7 130.1,151.6 130.6,151.5 131.0,151.5 131.5,151.5 131.9,151.6 132.4,151.7 132.8,151.8 133.3,152.0 133.7,152.2 134.2,152.5 134.6,152.8 135.1,153.0 135.5,153.3 136.0,153.6 136.4,153.9 136.9,154.1 137.3,154.3 137.8,154.5 138.2,154.7 138.7,155.0 139.1,155.2 139.6,155.4 140.0,155.7 140.5,155.9 140.9,156.1 141.4,156.3 141.8,156.6 142.3,156.8 142.8,157.0 143.2,157.1 143.7,157.3 144.1,157.4 144.6,157.5 145.0,157.6 145.5,157.7 145.9,157.7 146.4,157.8 146.8,157.9 147.3,157.9 147.7,158.0 148.2,158.0 148.6,158.1 149.1,158.1 149.5,158.1 150.0,158.2 150.4,158.2 150.9,158.2 151.3,158.2 151.8,158.2 152.2,158.0 152.7,157.9 153.1,157.7 153.6,157.5 154.0,157.3 154.5,157.1 154.9,156.9 155.4,156.8 155.8,156.6 156.3,156.4 156.7,156.2 157.2,156.0 157.6,155.8 158.1,155.7 158.5,155.5 159.0,155.3 159.4,155.1 159.9,155.0 160.3,154.8 160.8,154.7 161.2,154.5 161.7,154.4 162.1,154.4 162.6,154.3 163.1,154.2 163.5,154.1 164.0,154.0 164.4,153.9 164.9,153.9 165.3,153.8 165.8,153.7 166.2,153.7 166.7,153.6 167.1,153.6 167.6,153.5 168.0,153.5 168.5,153.5 168.9,153.5 169.4,153.5 169.8,153.6 170.3,153.6 170.7,153.7 171.2,153.8 171.6,153.9 172.1,154.1 172.5,154.2 173.0,154.3 173.4,154.5 173.9,154.6 174.3,154.8 174.8,154.9 175.2,155.1 175.7,155.2 176.1,155.3 176.6,155.4 177.0,155.5 177.5,155.6 177.9,155.7 178.4,155.8 178.8,155.9 179.3,156.0 179.7,156.1 180.2,156.2 180.6,156.3 181.1,156.4 181.5,156.5 182.0,156.5 182.5,156.6 182.9,156.7 183.4,156.7 183.8,156.8 184.3,156.8 184.7,156.8 185.2,156.8 185.6,156.8 186.1,156.8 186.5,156.7 187.0,156.7 187.4,156.6 187.9,156.6 188.3,156.5 188.8,156.4 189.2,156.3 189.7,156.3 190.1,156.2 190.6,156.1 191.0,156.0 191.5,155.9 191.9,155.8 192.4,155.7 192.8,155.6 193.3,155.5 193.7,155.4 194.2,155.3 194.6,155.2 195.1,155.1 195.5,155.0 196.0,154.9 196.4,154.8 196.9,154.7 197.3,154.6 197.8,154.5 198.2,154.4 198.7,154.3 199.1,154.1 199.6,154.0 200.0,153.9 200.5,153.8 200.9,153.7 201.4,153.5 201.8,153.4 202.3,153.3" fill="none" stroke="#111" stroke-width="1.45" stroke-linejoin="round" stroke-linecap="round" stroke-dasharray="1.4 2.6" stroke-linecap="butt"/>
<text x="130.00" y="133.00" font-size="8.7" text-anchor="middle" fill="#ee4040" >forward</text>
<text x="151.60" y="169.60" font-size="8.7" text-anchor="middle" fill="#3333dd" >backward</text>
<path d="M211.3,154 L256.8,154 L256.8,148.1 L268.7,160.3 L256.8,172.5 L256.8,166.6 L211.3,166.6 Z" fill="#fff" stroke="#555" stroke-width="0.7"/>
<text x="235.70" y="163.60" font-size="8.6" text-anchor="middle" fill="#222" ><tspan font-style="italic">θ</tspan>–variation</text>
<rect x="299.0" y="121.5" width="180.5" height="71.80000000000001" fill="none" stroke="#000" stroke-width="1.2"/>
<line x1="299.50" y1="193.30" x2="299.50" y2="190.30" stroke="#000" stroke-width="0.8" />
<line x1="299.50" y1="121.50" x2="299.50" y2="124.50" stroke="#000" stroke-width="0.8" />
<line x1="309.50" y1="193.30" x2="309.50" y2="191.70" stroke="#000" stroke-width="0.8" />
<line x1="309.50" y1="121.50" x2="309.50" y2="123.10" stroke="#000" stroke-width="0.8" />
<line x1="319.50" y1="193.30" x2="319.50" y2="190.30" stroke="#000" stroke-width="0.8" />
<line x1="319.50" y1="121.50" x2="319.50" y2="124.50" stroke="#000" stroke-width="0.8" />
<line x1="329.50" y1="193.30" x2="329.50" y2="191.70" stroke="#000" stroke-width="0.8" />
<line x1="329.50" y1="121.50" x2="329.50" y2="123.10" stroke="#000" stroke-width="0.8" />
<line x1="339.50" y1="193.30" x2="339.50" y2="190.30" stroke="#000" stroke-width="0.8" />
<line x1="339.50" y1="121.50" x2="339.50" y2="124.50" stroke="#000" stroke-width="0.8" />
<line x1="349.50" y1="193.30" x2="349.50" y2="191.70" stroke="#000" stroke-width="0.8" />
<line x1="349.50" y1="121.50" x2="349.50" y2="123.10" stroke="#000" stroke-width="0.8" />
<line x1="359.50" y1="193.30" x2="359.50" y2="190.30" stroke="#000" stroke-width="0.8" />
<line x1="359.50" y1="121.50" x2="359.50" y2="124.50" stroke="#000" stroke-width="0.8" />
<line x1="369.50" y1="193.30" x2="369.50" y2="191.70" stroke="#000" stroke-width="0.8" />
<line x1="369.50" y1="121.50" x2="369.50" y2="123.10" stroke="#000" stroke-width="0.8" />
<line x1="379.50" y1="193.30" x2="379.50" y2="190.30" stroke="#000" stroke-width="0.8" />
<line x1="379.50" y1="121.50" x2="379.50" y2="124.50" stroke="#000" stroke-width="0.8" />
<line x1="389.50" y1="193.30" x2="389.50" y2="191.70" stroke="#000" stroke-width="0.8" />
<line x1="389.50" y1="121.50" x2="389.50" y2="123.10" stroke="#000" stroke-width="0.8" />
<line x1="399.50" y1="193.30" x2="399.50" y2="190.30" stroke="#000" stroke-width="0.8" />
<line x1="399.50" y1="121.50" x2="399.50" y2="124.50" stroke="#000" stroke-width="0.8" />
<line x1="409.50" y1="193.30" x2="409.50" y2="191.70" stroke="#000" stroke-width="0.8" />
<line x1="409.50" y1="121.50" x2="409.50" y2="123.10" stroke="#000" stroke-width="0.8" />
<line x1="419.50" y1="193.30" x2="419.50" y2="190.30" stroke="#000" stroke-width="0.8" />
<line x1="419.50" y1="121.50" x2="419.50" y2="124.50" stroke="#000" stroke-width="0.8" />
<line x1="429.50" y1="193.30" x2="429.50" y2="191.70" stroke="#000" stroke-width="0.8" />
<line x1="429.50" y1="121.50" x2="429.50" y2="123.10" stroke="#000" stroke-width="0.8" />
<line x1="439.50" y1="193.30" x2="439.50" y2="190.30" stroke="#000" stroke-width="0.8" />
<line x1="439.50" y1="121.50" x2="439.50" y2="124.50" stroke="#000" stroke-width="0.8" />
<line x1="449.50" y1="193.30" x2="449.50" y2="191.70" stroke="#000" stroke-width="0.8" />
<line x1="449.50" y1="121.50" x2="449.50" y2="123.10" stroke="#000" stroke-width="0.8" />
<line x1="459.50" y1="193.30" x2="459.50" y2="190.30" stroke="#000" stroke-width="0.8" />
<line x1="459.50" y1="121.50" x2="459.50" y2="124.50" stroke="#000" stroke-width="0.8" />
<line x1="469.50" y1="193.30" x2="469.50" y2="191.70" stroke="#000" stroke-width="0.8" />
<line x1="469.50" y1="121.50" x2="469.50" y2="123.10" stroke="#000" stroke-width="0.8" />
<line x1="479.50" y1="193.30" x2="479.50" y2="190.30" stroke="#000" stroke-width="0.8" />
<line x1="479.50" y1="121.50" x2="479.50" y2="124.50" stroke="#000" stroke-width="0.8" />
<line x1="299.00" y1="193.30" x2="302.00" y2="193.30" stroke="#000" stroke-width="0.8" />
<line x1="479.50" y1="193.30" x2="476.50" y2="193.30" stroke="#000" stroke-width="0.8" />
<line x1="299.00" y1="187.32" x2="300.60" y2="187.32" stroke="#000" stroke-width="0.8" />
<line x1="479.50" y1="187.32" x2="477.90" y2="187.32" stroke="#000" stroke-width="0.8" />
<line x1="299.00" y1="181.34" x2="302.00" y2="181.34" stroke="#000" stroke-width="0.8" />
<line x1="479.50" y1="181.34" x2="476.50" y2="181.34" stroke="#000" stroke-width="0.8" />
<line x1="299.00" y1="175.36" x2="300.60" y2="175.36" stroke="#000" stroke-width="0.8" />
<line x1="479.50" y1="175.36" x2="477.90" y2="175.36" stroke="#000" stroke-width="0.8" />
<line x1="299.00" y1="169.38" x2="302.00" y2="169.38" stroke="#000" stroke-width="0.8" />
<line x1="479.50" y1="169.38" x2="476.50" y2="169.38" stroke="#000" stroke-width="0.8" />
<line x1="299.00" y1="163.40" x2="300.60" y2="163.40" stroke="#000" stroke-width="0.8" />
<line x1="479.50" y1="163.40" x2="477.90" y2="163.40" stroke="#000" stroke-width="0.8" />
<line x1="299.00" y1="157.42" x2="302.00" y2="157.42" stroke="#000" stroke-width="0.8" />
<line x1="479.50" y1="157.42" x2="476.50" y2="157.42" stroke="#000" stroke-width="0.8" />
<line x1="299.00" y1="151.44" x2="300.60" y2="151.44" stroke="#000" stroke-width="0.8" />
<line x1="479.50" y1="151.44" x2="477.90" y2="151.44" stroke="#000" stroke-width="0.8" />
<line x1="299.00" y1="145.46" x2="302.00" y2="145.46" stroke="#000" stroke-width="0.8" />
<line x1="479.50" y1="145.46" x2="476.50" y2="145.46" stroke="#000" stroke-width="0.8" />
<line x1="299.00" y1="139.48" x2="300.60" y2="139.48" stroke="#000" stroke-width="0.8" />
<line x1="479.50" y1="139.48" x2="477.90" y2="139.48" stroke="#000" stroke-width="0.8" />
<line x1="299.00" y1="133.50" x2="302.00" y2="133.50" stroke="#000" stroke-width="0.8" />
<line x1="479.50" y1="133.50" x2="476.50" y2="133.50" stroke="#000" stroke-width="0.8" />
<line x1="299.00" y1="127.52" x2="300.60" y2="127.52" stroke="#000" stroke-width="0.8" />
<line x1="479.50" y1="127.52" x2="477.90" y2="127.52" stroke="#000" stroke-width="0.8" />
<line x1="299.00" y1="121.54" x2="302.00" y2="121.54" stroke="#000" stroke-width="0.8" />
<line x1="479.50" y1="121.54" x2="476.50" y2="121.54" stroke="#000" stroke-width="0.8" />
<text x="299.50" y="202.60" font-size="7.5" text-anchor="middle" fill="#222" >0</text>
<text x="319.50" y="202.60" font-size="7.5" text-anchor="middle" fill="#222" >10</text>
<text x="339.50" y="202.60" font-size="7.5" text-anchor="middle" fill="#222" >20</text>
<text x="359.50" y="202.60" font-size="7.5" text-anchor="middle" fill="#222" >30</text>
<text x="379.50" y="202.60" font-size="7.5" text-anchor="middle" fill="#222" >40</text>
<text x="399.50" y="202.60" font-size="7.5" text-anchor="middle" fill="#222" >50</text>
<text x="419.50" y="202.60" font-size="7.5" text-anchor="middle" fill="#222" >60</text>
<text x="439.50" y="202.60" font-size="7.5" text-anchor="middle" fill="#222" >70</text>
<text x="459.50" y="202.60" font-size="7.5" text-anchor="middle" fill="#222" >80</text>
<text x="479.50" y="202.60" font-size="7.5" text-anchor="middle" fill="#222" >90</text>
<text x="296.60" y="195.80" font-size="7.5" text-anchor="end" fill="#222" >0.0</text>
<text x="296.60" y="183.84" font-size="7.5" text-anchor="end" fill="#222" >0.2</text>
<text x="296.60" y="171.88" font-size="7.5" text-anchor="end" fill="#222" >0.4</text>
<text x="296.60" y="159.92" font-size="7.5" text-anchor="end" fill="#222" >0.6</text>
<text x="296.60" y="147.96" font-size="7.5" text-anchor="end" fill="#222" >0.8</text>
<text x="296.60" y="136.00" font-size="7.5" text-anchor="end" fill="#222" >1.0</text>
<text x="296.60" y="124.04" font-size="7.5" text-anchor="end" fill="#222" >1.2</text>
<text x="389.50" y="212.90" font-size="7.4" text-anchor="middle" fill="#222" ><tspan font-style="italic">θ</tspan> (°)</text>
<text transform="translate(279.6,156.2) rotate(-90)" font-size="8.6" text-anchor="middle" fill="#222"><tspan font-style="italic">k</tspan><tspan font-size="5.4" dy="1.6" font-style="italic">SPhP</tspan><tspan dy="-1.6"> (10</tspan><tspan font-size="5.4" dy="-3.2">4</tspan><tspan dy="3.2"> cm</tspan><tspan font-size="5.4" dy="-3.2">−1</tspan><tspan dy="3.2">)</tspan></text>
<path d="M299.0,153.23 L479.5,153.23" stroke="#999" stroke-width="0.7" stroke-dasharray="2.4 1.8"/>
<path d="M393.50,121.5 L393.50,193.3" stroke="#999" stroke-width="0.7" stroke-dasharray="2.4 1.8"/>
<polyline points="299.5,193.3 300.5,193.0 301.5,192.7 302.5,192.4 303.5,192.1 304.5,191.8 305.5,191.5 306.5,191.2 307.5,190.9 308.5,190.6 309.5,190.3 310.5,190.0 311.5,189.7 312.5,189.4 313.5,189.1 314.5,188.8 315.5,188.5 316.5,188.2 317.5,187.9 318.5,187.7 319.5,187.4 320.5,187.1 321.5,186.8 322.5,186.5 323.5,186.2 324.5,185.9 325.5,185.6 326.5,185.3 327.5,185.0 328.5,184.7 329.5,184.4 330.5,184.2 331.5,183.9 332.5,183.6 333.5,183.3 334.5,183.0 335.5,182.7 336.5,182.4 337.5,182.2 338.5,181.9 339.5,181.6 340.5,181.3 341.5,181.0 342.5,180.8 343.5,180.5 344.5,180.2 345.5,179.9 346.5,179.7 347.5,179.4 348.5,179.1 349.5,178.8 350.5,178.6 351.5,178.3 352.5,178.0 353.5,177.8 354.5,177.5 355.5,177.2 356.5,177.0 357.5,176.7 358.5,176.5 359.5,176.2 360.5,175.9 361.5,175.7 362.5,175.4 363.5,175.2 364.5,174.9 365.5,174.7 366.5,174.4 367.5,174.2 368.5,173.9 369.5,173.7 370.5,173.4 371.5,173.2 372.5,173.0 373.5,172.7 374.5,172.5 375.5,172.2 376.5,172.0 377.5,171.8 378.5,171.5 379.5,171.3 380.5,171.1 381.5,170.9 382.5,170.6 383.5,170.4 384.5,170.2 385.5,170.0 386.5,169.8 387.5,169.5 388.5,169.3 389.5,169.1 390.5,168.9 391.5,168.7 392.5,168.5 393.5,168.3 394.5,168.1 395.5,167.9 396.5,167.7 397.5,167.5 398.5,167.3 399.5,167.1 400.5,166.9 401.5,166.7 402.5,166.5 403.5,166.3 404.5,166.2 405.5,166.0 406.5,165.8 407.5,165.6 408.5,165.5 409.5,165.3 410.5,165.1 411.5,164.9 412.5,164.8 413.5,164.6 414.5,164.5 415.5,164.3 416.5,164.1 417.5,164.0 418.5,163.8 419.5,163.7 420.5,163.5 421.5,163.4 422.5,163.2 423.5,163.1 424.5,163.0 425.5,162.8 426.5,162.7 427.5,162.6 428.5,162.4 429.5,162.3 430.5,162.2 431.5,162.1 432.5,161.9 433.5,161.8 434.5,161.7 435.5,161.6 436.5,161.5 437.5,161.4 438.5,161.3 439.5,161.2 440.5,161.1 441.5,161.0 442.5,160.9 443.5,160.8 444.5,160.7 445.5,160.6 446.5,160.5 447.5,160.4 448.5,160.3 449.5,160.3 450.5,160.2 451.5,160.1 452.5,160.0 453.5,160.0 454.5,159.9 455.5,159.8 456.5,159.8 457.5,159.7 458.5,159.7 459.5,159.6 460.5,159.6 461.5,159.5 462.5,159.5 463.5,159.4 464.5,159.4 465.5,159.3 466.5,159.3 467.5,159.3 468.5,159.3 469.5,159.2 470.5,159.2 471.5,159.2 472.5,159.2 473.5,159.1 474.5,159.1 475.5,159.1 476.5,159.1 477.5,159.1 478.5,159.1 479.5,159.1" fill="none" stroke="#111" stroke-width="1.6" stroke-linejoin="round" stroke-linecap="round" stroke-dasharray="1.8 2.6" stroke-linecap="butt"/>
<polyline points="299.5,178.2 300.5,177.9 301.5,177.6 302.5,177.3 303.5,177.0 304.5,176.7 305.5,176.4 306.5,176.1 307.5,175.8 308.5,175.5 309.5,175.2 310.5,175.0 311.5,174.7 312.5,174.4 313.5,174.1 314.5,173.8 315.5,173.5 316.5,173.2 317.5,172.9 318.5,172.6 319.5,172.3 320.5,172.0 321.5,171.7 322.5,171.4 323.5,171.1 324.5,170.8 325.5,170.5 326.5,170.2 327.5,170.0 328.5,169.7 329.5,169.4 330.5,169.1 331.5,168.8 332.5,168.5 333.5,168.2 334.5,167.9 335.5,167.7 336.5,167.4 337.5,167.1 338.5,166.8 339.5,166.5 340.5,166.3 341.5,166.0 342.5,165.7 343.5,165.4 344.5,165.1 345.5,164.9 346.5,164.6 347.5,164.3 348.5,164.0 349.5,163.8 350.5,163.5 351.5,163.2 352.5,163.0 353.5,162.7 354.5,162.4 355.5,162.2 356.5,161.9 357.5,161.6 358.5,161.4 359.5,161.1 360.5,160.9 361.5,160.6 362.5,160.4 363.5,160.1 364.5,159.9 365.5,159.6 366.5,159.4 367.5,159.1 368.5,158.9 369.5,158.6 370.5,158.4 371.5,158.1 372.5,157.9 373.5,157.6 374.5,157.4 375.5,157.2 376.5,156.9 377.5,156.7 378.5,156.5 379.5,156.2 380.5,156.0 381.5,155.8 382.5,155.6 383.5,155.3 384.5,155.1 385.5,154.9 386.5,154.7 387.5,154.5 388.5,154.3 389.5,154.0 390.5,153.8 391.5,153.6 392.5,153.4 393.5,153.2 394.5,153.0 395.5,152.8 396.5,152.6 397.5,152.4 398.5,152.2 399.5,152.0 400.5,151.8 401.5,151.6 402.5,151.5 403.5,151.3 404.5,151.1 405.5,150.9 406.5,150.7 407.5,150.6 408.5,150.4 409.5,150.2 410.5,150.0 411.5,149.9 412.5,149.7 413.5,149.5 414.5,149.4 415.5,149.2 416.5,149.1 417.5,148.9 418.5,148.8 419.5,148.6 420.5,148.5 421.5,148.3 422.5,148.2 423.5,148.0 424.5,147.9 425.5,147.8 426.5,147.6 427.5,147.5 428.5,147.4 429.5,147.2 430.5,147.1 431.5,147.0 432.5,146.9 433.5,146.7 434.5,146.6 435.5,146.5 436.5,146.4 437.5,146.3 438.5,146.2 439.5,146.1 440.5,146.0 441.5,145.9 442.5,145.8 443.5,145.7 444.5,145.6 445.5,145.5 446.5,145.4 447.5,145.3 448.5,145.3 449.5,145.2 450.5,145.1 451.5,145.0 452.5,145.0 453.5,144.9 454.5,144.8 455.5,144.8 456.5,144.7 457.5,144.7 458.5,144.6 459.5,144.5 460.5,144.5 461.5,144.4 462.5,144.4 463.5,144.4 464.5,144.3 465.5,144.3 466.5,144.2 467.5,144.2 468.5,144.2 469.5,144.2 470.5,144.1 471.5,144.1 472.5,144.1 473.5,144.1 474.5,144.1 475.5,144.0 476.5,144.0 477.5,144.0 478.5,144.0 479.5,144.0" fill="none" stroke="#ee1d23" stroke-width="1.75" stroke-linejoin="round" stroke-linecap="round" />
<polyline points="299.5,128.2 300.5,128.5 301.5,128.8 302.5,129.1 303.5,129.4 304.5,129.7 305.5,130.0 306.5,130.3 307.5,130.6 308.5,130.9 309.5,131.2 310.5,131.5 311.5,131.8 312.5,132.1 313.5,132.4 314.5,132.7 315.5,133.0 316.5,133.3 317.5,133.6 318.5,133.9 319.5,134.2 320.5,134.5 321.5,134.8 322.5,135.1 323.5,135.3 324.5,135.6 325.5,135.9 326.5,136.2 327.5,136.5 328.5,136.8 329.5,137.1 330.5,137.4 331.5,137.7 332.5,138.0 333.5,138.2 334.5,138.5 335.5,138.8 336.5,139.1 337.5,139.4 338.5,139.7 339.5,139.9 340.5,140.2 341.5,140.5 342.5,140.8 343.5,141.1 344.5,141.3 345.5,141.6 346.5,141.9 347.5,142.2 348.5,142.4 349.5,142.7 350.5,143.0 351.5,143.2 352.5,143.5 353.5,143.8 354.5,144.0 355.5,144.3 356.5,144.6 357.5,144.8 358.5,145.1 359.5,145.3 360.5,145.6 361.5,145.9 362.5,146.1 363.5,146.4 364.5,146.6 365.5,146.9 366.5,147.1 367.5,147.4 368.5,147.6 369.5,147.9 370.5,148.1 371.5,148.3 372.5,148.6 373.5,148.8 374.5,149.1 375.5,149.3 376.5,149.5 377.5,149.8 378.5,150.0 379.5,150.2 380.5,150.5 381.5,150.7 382.5,150.9 383.5,151.1 384.5,151.3 385.5,151.6 386.5,151.8 387.5,152.0 388.5,152.2 389.5,152.4 390.5,152.6 391.5,152.8 392.5,153.0 393.5,153.3 394.5,153.5 395.5,153.7 396.5,153.9 397.5,154.1 398.5,154.2 399.5,154.4 400.5,154.6 401.5,154.8 402.5,155.0 403.5,155.2 404.5,155.4 405.5,155.6 406.5,155.7 407.5,155.9 408.5,156.1 409.5,156.3 410.5,156.4 411.5,156.6 412.5,156.8 413.5,156.9 414.5,157.1 415.5,157.2 416.5,157.4 417.5,157.6 418.5,157.7 419.5,157.9 420.5,158.0 421.5,158.2 422.5,158.3 423.5,158.4 424.5,158.6 425.5,158.7 426.5,158.8 427.5,159.0 428.5,159.1 429.5,159.2 430.5,159.4 431.5,159.5 432.5,159.6 433.5,159.7 434.5,159.8 435.5,160.0 436.5,160.1 437.5,160.2 438.5,160.3 439.5,160.4 440.5,160.5 441.5,160.6 442.5,160.7 443.5,160.8 444.5,160.9 445.5,160.9 446.5,161.0 447.5,161.1 448.5,161.2 449.5,161.3 450.5,161.4 451.5,161.4 452.5,161.5 453.5,161.6 454.5,161.6 455.5,161.7 456.5,161.8 457.5,161.8 458.5,161.9 459.5,161.9 460.5,162.0 461.5,162.0 462.5,162.1 463.5,162.1 464.5,162.2 465.5,162.2 466.5,162.2 467.5,162.3 468.5,162.3 469.5,162.3 470.5,162.3 471.5,162.4 472.5,162.4 473.5,162.4 474.5,162.4 475.5,162.4 476.5,162.4 477.5,162.4 478.5,162.4 479.5,162.4" fill="none" stroke="#2323dd" stroke-width="1.75" stroke-linejoin="round" stroke-linecap="round" />
<text x="304.50" y="150.00" font-size="7.6" text-anchor="start" fill="#8a8a8a" ><tspan font-style="italic">k</tspan><tspan font-size="5.4" dy="1.4">SPhP, theory</tspan></text>
<text x="395.30" y="134.60" font-size="7.2" text-anchor="start" fill="#8a8a8a" font-style="italic" ><tspan font-style="italic">θ</tspan> = 47°</text>
<text x="476.50" y="143.20" font-size="8.7" text-anchor="end" fill="#ee1d23" >forward</text>
<text x="476.50" y="170.00" font-size="8.7" text-anchor="end" fill="#2323dd" >backward</text>
<text x="366.80" y="189.20" font-size="8.6" text-anchor="middle" fill="#111" ><tspan font-style="italic">k</tspan><tspan font-size="5.2" dy="1.3">0</tspan><tspan dy="-1.3"> sin(</tspan><tspan font-style="italic">θ</tspan>)</text>
<defs><filter id="blur" x="-5%" y="-20%" width="110%" height="140%"><feGaussianBlur stdDeviation="0.9"/></filter></defs>
<clipPath id="ce"><rect x="22.0" y="232.0" width="180.5" height="34.39999999999998"/></clipPath>
<defs><linearGradient id="ce0" gradientUnits="userSpaceOnUse" x1="19.0" x2="205.0" y1="0" y2="0"><stop offset="0.000" stop-color="#433e85"/><stop offset="0.016" stop-color="#443b84"/><stop offset="0.032" stop-color="#463480"/><stop offset="0.048" stop-color="#472a7a"/><stop offset="0.065" stop-color="#482173"/><stop offset="0.081" stop-color="#482071"/><stop offset="0.097" stop-color="#482475"/><stop offset="0.113" stop-color="#472c7a"/><stop offset="0.129" stop-color="#46327e"/><stop offset="0.145" stop-color="#453781"/><stop offset="0.161" stop-color="#443a83"/><stop offset="0.177" stop-color="#433d84"/><stop offset="0.194" stop-color="#433e85"/><stop offset="0.210" stop-color="#443a83"/><stop offset="0.226" stop-color="#46307e"/><stop offset="0.242" stop-color="#482677"/><stop offset="0.258" stop-color="#482071"/><stop offset="0.274" stop-color="#482173"/><stop offset="0.290" stop-color="#482677"/><stop offset="0.306" stop-color="#472e7c"/><stop offset="0.323" stop-color="#46337f"/><stop offset="0.339" stop-color="#453882"/><stop offset="0.355" stop-color="#443b84"/><stop offset="0.371" stop-color="#433e85"/><stop offset="0.387" stop-color="#433e85"/><stop offset="0.403" stop-color="#453882"/><stop offset="0.419" stop-color="#472e7c"/><stop offset="0.435" stop-color="#482475"/><stop offset="0.452" stop-color="#482071"/><stop offset="0.468" stop-color="#482374"/><stop offset="0.484" stop-color="#472a7a"/><stop offset="0.500" stop-color="#46307e"/><stop offset="0.516" stop-color="#453581"/><stop offset="0.532" stop-color="#443a83"/><stop offset="0.548" stop-color="#433d84"/><stop offset="0.565" stop-color="#433e85"/><stop offset="0.581" stop-color="#443983"/><stop offset="0.597" stop-color="#472f7d"/><stop offset="0.613" stop-color="#482475"/><stop offset="0.629" stop-color="#482071"/><stop offset="0.645" stop-color="#482475"/><stop offset="0.661" stop-color="#472c7a"/><stop offset="0.677" stop-color="#46327e"/><stop offset="0.694" stop-color="#453781"/><stop offset="0.710" stop-color="#443a83"/><stop offset="0.726" stop-color="#433d84"/><stop offset="0.742" stop-color="#433d84"/><stop offset="0.758" stop-color="#453581"/><stop offset="0.774" stop-color="#472a7a"/><stop offset="0.790" stop-color="#482173"/><stop offset="0.806" stop-color="#482173"/><stop offset="0.823" stop-color="#482878"/><stop offset="0.839" stop-color="#472f7d"/><stop offset="0.855" stop-color="#463480"/><stop offset="0.871" stop-color="#443983"/><stop offset="0.887" stop-color="#443b84"/><stop offset="0.903" stop-color="#433e85"/><stop offset="0.919" stop-color="#443a83"/><stop offset="0.935" stop-color="#46307e"/><stop offset="0.952" stop-color="#482576"/><stop offset="0.968" stop-color="#482071"/><stop offset="0.984" stop-color="#482475"/><stop offset="1.000" stop-color="#472c7a"/></linearGradient><linearGradient id="ce1" gradientUnits="userSpaceOnUse" x1="19.0" x2="205.0" y1="0" y2="0"><stop offset="0.000" stop-color="#433e85"/><stop offset="0.016" stop-color="#433d84"/><stop offset="0.032" stop-color="#463480"/><stop offset="0.048" stop-color="#472a7a"/><stop offset="0.065" stop-color="#482173"/><stop offset="0.081" stop-color="#482071"/><stop offset="0.097" stop-color="#482475"/><stop offset="0.113" stop-color="#472c7a"/><stop offset="0.129" stop-color="#46327e"/><stop offset="0.145" stop-color="#453781"/><stop offset="0.161" stop-color="#443a83"/><stop offset="0.177" stop-color="#433d84"/><stop offset="0.194" stop-color="#433e85"/><stop offset="0.210" stop-color="#443a83"/><stop offset="0.226" stop-color="#46327e"/><stop offset="0.242" stop-color="#482677"/><stop offset="0.258" stop-color="#482071"/><stop offset="0.274" stop-color="#482173"/><stop offset="0.290" stop-color="#482677"/><stop offset="0.306" stop-color="#472e7c"/><stop offset="0.323" stop-color="#46337f"/><stop offset="0.339" stop-color="#453882"/><stop offset="0.355" stop-color="#443b84"/><stop offset="0.371" stop-color="#433e85"/><stop offset="0.387" stop-color="#433e85"/><stop offset="0.403" stop-color="#453882"/><stop offset="0.419" stop-color="#472e7c"/><stop offset="0.435" stop-color="#482475"/><stop offset="0.452" stop-color="#482071"/><stop offset="0.468" stop-color="#482374"/><stop offset="0.484" stop-color="#472a7a"/><stop offset="0.500" stop-color="#46307e"/><stop offset="0.516" stop-color="#453581"/><stop offset="0.532" stop-color="#443a83"/><stop offset="0.548" stop-color="#433d84"/><stop offset="0.565" stop-color="#433e85"/><stop offset="0.581" stop-color="#443983"/><stop offset="0.597" stop-color="#472f7d"/><stop offset="0.613" stop-color="#482475"/><stop offset="0.629" stop-color="#482071"/><stop offset="0.645" stop-color="#482475"/><stop offset="0.661" stop-color="#472c7a"/><stop offset="0.677" stop-color="#46327e"/><stop offset="0.694" stop-color="#453781"/><stop offset="0.710" stop-color="#443a83"/><stop offset="0.726" stop-color="#433d84"/><stop offset="0.742" stop-color="#433d84"/><stop offset="0.758" stop-color="#453581"/><stop offset="0.774" stop-color="#472a7a"/><stop offset="0.790" stop-color="#482173"/><stop offset="0.806" stop-color="#482173"/><stop offset="0.823" stop-color="#482878"/><stop offset="0.839" stop-color="#472f7d"/><stop offset="0.855" stop-color="#463480"/><stop offset="0.871" stop-color="#443983"/><stop offset="0.887" stop-color="#443b84"/><stop offset="0.903" stop-color="#433e85"/><stop offset="0.919" stop-color="#443a83"/><stop offset="0.935" stop-color="#46307e"/><stop offset="0.952" stop-color="#482576"/><stop offset="0.968" stop-color="#482071"/><stop offset="0.984" stop-color="#482475"/><stop offset="1.000" stop-color="#472c7a"/></linearGradient><linearGradient id="ce2" gradientUnits="userSpaceOnUse" x1="19.0" x2="205.0" y1="0" y2="0"><stop offset="0.000" stop-color="#423f85"/><stop offset="0.016" stop-color="#433d84"/><stop offset="0.032" stop-color="#453581"/><stop offset="0.048" stop-color="#472a7a"/><stop offset="0.065" stop-color="#482374"/><stop offset="0.081" stop-color="#482071"/><stop offset="0.097" stop-color="#482475"/><stop offset="0.113" stop-color="#472c7a"/><stop offset="0.129" stop-color="#46327e"/><stop offset="0.145" stop-color="#453781"/><stop offset="0.161" stop-color="#443a83"/><stop offset="0.177" stop-color="#433e85"/><stop offset="0.194" stop-color="#423f85"/><stop offset="0.210" stop-color="#443b84"/><stop offset="0.226" stop-color="#46327e"/><stop offset="0.242" stop-color="#482878"/><stop offset="0.258" stop-color="#482071"/><stop offset="0.274" stop-color="#482173"/><stop offset="0.290" stop-color="#482677"/><stop offset="0.306" stop-color="#472e7c"/><stop offset="0.323" stop-color="#46337f"/><stop offset="0.339" stop-color="#453882"/><stop offset="0.355" stop-color="#443b84"/><stop offset="0.371" stop-color="#433e85"/><stop offset="0.387" stop-color="#433e85"/><stop offset="0.403" stop-color="#443983"/><stop offset="0.419" stop-color="#472e7c"/><stop offset="0.435" stop-color="#482576"/><stop offset="0.452" stop-color="#482071"/><stop offset="0.468" stop-color="#482374"/><stop offset="0.484" stop-color="#472a7a"/><stop offset="0.500" stop-color="#46307e"/><stop offset="0.516" stop-color="#453581"/><stop offset="0.532" stop-color="#443a83"/><stop offset="0.548" stop-color="#433d84"/><stop offset="0.565" stop-color="#433e85"/><stop offset="0.581" stop-color="#443a83"/><stop offset="0.597" stop-color="#472f7d"/><stop offset="0.613" stop-color="#482576"/><stop offset="0.629" stop-color="#482071"/><stop offset="0.645" stop-color="#482475"/><stop offset="0.661" stop-color="#472c7a"/><stop offset="0.677" stop-color="#46327e"/><stop offset="0.694" stop-color="#453781"/><stop offset="0.710" stop-color="#443a83"/><stop offset="0.726" stop-color="#433e85"/><stop offset="0.742" stop-color="#433d84"/><stop offset="0.758" stop-color="#453781"/><stop offset="0.774" stop-color="#472a7a"/><stop offset="0.790" stop-color="#482173"/><stop offset="0.806" stop-color="#482173"/><stop offset="0.823" stop-color="#482878"/><stop offset="0.839" stop-color="#472f7d"/><stop offset="0.855" stop-color="#463480"/><stop offset="0.871" stop-color="#443983"/><stop offset="0.887" stop-color="#433d84"/><stop offset="0.903" stop-color="#433e85"/><stop offset="0.919" stop-color="#443a83"/><stop offset="0.935" stop-color="#46307e"/><stop offset="0.952" stop-color="#482576"/><stop offset="0.968" stop-color="#482071"/><stop offset="0.984" stop-color="#482475"/><stop offset="1.000" stop-color="#472a7a"/></linearGradient><linearGradient id="ce3" gradientUnits="userSpaceOnUse" x1="19.0" x2="205.0" y1="0" y2="0"><stop offset="0.000" stop-color="#404588"/><stop offset="0.016" stop-color="#414487"/><stop offset="0.032" stop-color="#443b84"/><stop offset="0.048" stop-color="#46307e"/><stop offset="0.065" stop-color="#482677"/><stop offset="0.081" stop-color="#482374"/><stop offset="0.097" stop-color="#482475"/><stop offset="0.113" stop-color="#472a7a"/><stop offset="0.129" stop-color="#46327e"/><stop offset="0.145" stop-color="#453882"/><stop offset="0.161" stop-color="#433e85"/><stop offset="0.177" stop-color="#414487"/><stop offset="0.194" stop-color="#404688"/><stop offset="0.210" stop-color="#424186"/><stop offset="0.226" stop-color="#453882"/><stop offset="0.242" stop-color="#472d7b"/><stop offset="0.258" stop-color="#482475"/><stop offset="0.274" stop-color="#482374"/><stop offset="0.290" stop-color="#482576"/><stop offset="0.306" stop-color="#472d7b"/><stop offset="0.323" stop-color="#46337f"/><stop offset="0.339" stop-color="#443a83"/><stop offset="0.355" stop-color="#424086"/><stop offset="0.371" stop-color="#404588"/><stop offset="0.387" stop-color="#404588"/><stop offset="0.403" stop-color="#423f85"/><stop offset="0.419" stop-color="#463480"/><stop offset="0.435" stop-color="#482979"/><stop offset="0.452" stop-color="#482374"/><stop offset="0.468" stop-color="#482475"/><stop offset="0.484" stop-color="#482979"/><stop offset="0.500" stop-color="#472f7d"/><stop offset="0.516" stop-color="#453781"/><stop offset="0.532" stop-color="#433e85"/><stop offset="0.548" stop-color="#414287"/><stop offset="0.565" stop-color="#404588"/><stop offset="0.581" stop-color="#424086"/><stop offset="0.597" stop-color="#453581"/><stop offset="0.613" stop-color="#472a7a"/><stop offset="0.629" stop-color="#482475"/><stop offset="0.645" stop-color="#482475"/><stop offset="0.661" stop-color="#482979"/><stop offset="0.677" stop-color="#46307e"/><stop offset="0.694" stop-color="#453882"/><stop offset="0.710" stop-color="#423f85"/><stop offset="0.726" stop-color="#414487"/><stop offset="0.742" stop-color="#414487"/><stop offset="0.758" stop-color="#433d84"/><stop offset="0.774" stop-color="#46307e"/><stop offset="0.790" stop-color="#482677"/><stop offset="0.806" stop-color="#482374"/><stop offset="0.823" stop-color="#482677"/><stop offset="0.839" stop-color="#472e7c"/><stop offset="0.855" stop-color="#463480"/><stop offset="0.871" stop-color="#443b84"/><stop offset="0.887" stop-color="#424186"/><stop offset="0.903" stop-color="#404588"/><stop offset="0.919" stop-color="#424186"/><stop offset="0.935" stop-color="#453781"/><stop offset="0.952" stop-color="#472c7a"/><stop offset="0.968" stop-color="#482475"/><stop offset="0.984" stop-color="#482475"/><stop offset="1.000" stop-color="#482979"/></linearGradient><linearGradient id="ce4" gradientUnits="userSpaceOnUse" x1="19.0" x2="205.0" y1="0" y2="0"><stop offset="0.000" stop-color="#365c8d"/><stop offset="0.016" stop-color="#38598c"/><stop offset="0.032" stop-color="#3c4f8a"/><stop offset="0.048" stop-color="#424186"/><stop offset="0.065" stop-color="#463480"/><stop offset="0.081" stop-color="#472a7a"/><stop offset="0.097" stop-color="#482677"/><stop offset="0.113" stop-color="#472c7a"/><stop offset="0.129" stop-color="#453581"/><stop offset="0.145" stop-color="#424186"/><stop offset="0.161" stop-color="#3d4e8a"/><stop offset="0.177" stop-color="#38588c"/><stop offset="0.194" stop-color="#365c8d"/><stop offset="0.210" stop-color="#39568c"/><stop offset="0.226" stop-color="#3e4a89"/><stop offset="0.242" stop-color="#433d84"/><stop offset="0.258" stop-color="#46307e"/><stop offset="0.274" stop-color="#482878"/><stop offset="0.290" stop-color="#482677"/><stop offset="0.306" stop-color="#472e7c"/><stop offset="0.323" stop-color="#443983"/><stop offset="0.339" stop-color="#404688"/><stop offset="0.355" stop-color="#3b528b"/><stop offset="0.371" stop-color="#375a8c"/><stop offset="0.387" stop-color="#375b8d"/><stop offset="0.403" stop-color="#3a538b"/><stop offset="0.419" stop-color="#404688"/><stop offset="0.435" stop-color="#443983"/><stop offset="0.452" stop-color="#472d7b"/><stop offset="0.468" stop-color="#482677"/><stop offset="0.484" stop-color="#482979"/><stop offset="0.500" stop-color="#46337f"/><stop offset="0.516" stop-color="#423f85"/><stop offset="0.532" stop-color="#3d4d8a"/><stop offset="0.548" stop-color="#38588c"/><stop offset="0.565" stop-color="#365c8d"/><stop offset="0.581" stop-color="#39558c"/><stop offset="0.597" stop-color="#3f4889"/><stop offset="0.613" stop-color="#443a83"/><stop offset="0.629" stop-color="#472e7c"/><stop offset="0.645" stop-color="#482677"/><stop offset="0.661" stop-color="#482979"/><stop offset="0.677" stop-color="#463480"/><stop offset="0.694" stop-color="#424186"/><stop offset="0.710" stop-color="#3c4f8a"/><stop offset="0.726" stop-color="#375a8c"/><stop offset="0.742" stop-color="#375b8d"/><stop offset="0.758" stop-color="#3b518b"/><stop offset="0.774" stop-color="#414287"/><stop offset="0.790" stop-color="#463480"/><stop offset="0.806" stop-color="#482979"/><stop offset="0.823" stop-color="#482677"/><stop offset="0.839" stop-color="#472e7c"/><stop offset="0.855" stop-color="#443b84"/><stop offset="0.871" stop-color="#3e4989"/><stop offset="0.887" stop-color="#39558c"/><stop offset="0.903" stop-color="#365c8d"/><stop offset="0.919" stop-color="#38588c"/><stop offset="0.935" stop-color="#3e4a89"/><stop offset="0.952" stop-color="#443b84"/><stop offset="0.968" stop-color="#472e7c"/><stop offset="0.984" stop-color="#482677"/><stop offset="1.000" stop-color="#482979"/></linearGradient><linearGradient id="ce5" gradientUnits="userSpaceOnUse" x1="19.0" x2="205.0" y1="0" y2="0"><stop offset="0.000" stop-color="#30698e"/><stop offset="0.016" stop-color="#33628d"/><stop offset="0.032" stop-color="#3a548c"/><stop offset="0.048" stop-color="#414487"/><stop offset="0.065" stop-color="#46327e"/><stop offset="0.081" stop-color="#482475"/><stop offset="0.097" stop-color="#482173"/><stop offset="0.113" stop-color="#472c7a"/><stop offset="0.129" stop-color="#443b84"/><stop offset="0.145" stop-color="#3d4d8a"/><stop offset="0.161" stop-color="#365c8d"/><stop offset="0.177" stop-color="#31678e"/><stop offset="0.194" stop-color="#31688e"/><stop offset="0.210" stop-color="#355e8d"/><stop offset="0.226" stop-color="#3c4f8a"/><stop offset="0.242" stop-color="#433e85"/><stop offset="0.258" stop-color="#472d7b"/><stop offset="0.274" stop-color="#482173"/><stop offset="0.290" stop-color="#482374"/><stop offset="0.306" stop-color="#46307e"/><stop offset="0.323" stop-color="#424186"/><stop offset="0.339" stop-color="#3b528b"/><stop offset="0.355" stop-color="#34618d"/><stop offset="0.371" stop-color="#30698e"/><stop offset="0.387" stop-color="#31668e"/><stop offset="0.403" stop-color="#375a8c"/><stop offset="0.419" stop-color="#3e4989"/><stop offset="0.435" stop-color="#453882"/><stop offset="0.452" stop-color="#482979"/><stop offset="0.468" stop-color="#482071"/><stop offset="0.484" stop-color="#482677"/><stop offset="0.500" stop-color="#453781"/><stop offset="0.516" stop-color="#3e4989"/><stop offset="0.532" stop-color="#375b8d"/><stop offset="0.548" stop-color="#31678e"/><stop offset="0.565" stop-color="#31688e"/><stop offset="0.581" stop-color="#365d8d"/><stop offset="0.597" stop-color="#3e4c8a"/><stop offset="0.613" stop-color="#443983"/><stop offset="0.629" stop-color="#482979"/><stop offset="0.645" stop-color="#482071"/><stop offset="0.661" stop-color="#482878"/><stop offset="0.677" stop-color="#443a83"/><stop offset="0.694" stop-color="#3d4d8a"/><stop offset="0.710" stop-color="#355e8d"/><stop offset="0.726" stop-color="#31688e"/><stop offset="0.742" stop-color="#32658e"/><stop offset="0.758" stop-color="#39568c"/><stop offset="0.774" stop-color="#414487"/><stop offset="0.790" stop-color="#46307e"/><stop offset="0.806" stop-color="#482374"/><stop offset="0.823" stop-color="#482374"/><stop offset="0.839" stop-color="#46307e"/><stop offset="0.855" stop-color="#414487"/><stop offset="0.871" stop-color="#39568c"/><stop offset="0.887" stop-color="#32658e"/><stop offset="0.903" stop-color="#30698e"/><stop offset="0.919" stop-color="#355f8d"/><stop offset="0.935" stop-color="#3d4e8a"/><stop offset="0.952" stop-color="#443b84"/><stop offset="0.968" stop-color="#482979"/><stop offset="0.984" stop-color="#482071"/><stop offset="1.000" stop-color="#482878"/></linearGradient><linearGradient id="ce6" gradientUnits="userSpaceOnUse" x1="19.0" x2="205.0" y1="0" y2="0"><stop offset="0.000" stop-color="#2e6f8e"/><stop offset="0.016" stop-color="#33638d"/><stop offset="0.032" stop-color="#3c4f8a"/><stop offset="0.048" stop-color="#443983"/><stop offset="0.065" stop-color="#482374"/><stop offset="0.081" stop-color="#471365"/><stop offset="0.097" stop-color="#481769"/><stop offset="0.113" stop-color="#472a7a"/><stop offset="0.129" stop-color="#424186"/><stop offset="0.145" stop-color="#39568c"/><stop offset="0.161" stop-color="#31688e"/><stop offset="0.177" stop-color="#2d718e"/><stop offset="0.194" stop-color="#2f6c8e"/><stop offset="0.210" stop-color="#365d8d"/><stop offset="0.226" stop-color="#3f4889"/><stop offset="0.242" stop-color="#46307e"/><stop offset="0.258" stop-color="#481c6e"/><stop offset="0.274" stop-color="#471164"/><stop offset="0.290" stop-color="#481c6e"/><stop offset="0.306" stop-color="#46327e"/><stop offset="0.323" stop-color="#3f4889"/><stop offset="0.339" stop-color="#365d8d"/><stop offset="0.355" stop-color="#2f6c8e"/><stop offset="0.371" stop-color="#2d718e"/><stop offset="0.387" stop-color="#31688e"/><stop offset="0.403" stop-color="#39568c"/><stop offset="0.419" stop-color="#424186"/><stop offset="0.435" stop-color="#472a7a"/><stop offset="0.452" stop-color="#481769"/><stop offset="0.468" stop-color="#471365"/><stop offset="0.484" stop-color="#482475"/><stop offset="0.500" stop-color="#433d84"/><stop offset="0.516" stop-color="#3a538b"/><stop offset="0.532" stop-color="#31678e"/><stop offset="0.548" stop-color="#2d718e"/><stop offset="0.565" stop-color="#2f6b8e"/><stop offset="0.581" stop-color="#375b8d"/><stop offset="0.597" stop-color="#414487"/><stop offset="0.613" stop-color="#472c7a"/><stop offset="0.629" stop-color="#481769"/><stop offset="0.645" stop-color="#481467"/><stop offset="0.661" stop-color="#482677"/><stop offset="0.677" stop-color="#424086"/><stop offset="0.694" stop-color="#38598c"/><stop offset="0.710" stop-color="#2f6b8e"/><stop offset="0.726" stop-color="#2d718e"/><stop offset="0.742" stop-color="#31668e"/><stop offset="0.758" stop-color="#3b528b"/><stop offset="0.774" stop-color="#443983"/><stop offset="0.790" stop-color="#482071"/><stop offset="0.806" stop-color="#471164"/><stop offset="0.823" stop-color="#481c6e"/><stop offset="0.839" stop-color="#463480"/><stop offset="0.855" stop-color="#3d4e8a"/><stop offset="0.871" stop-color="#33638d"/><stop offset="0.887" stop-color="#2d708e"/><stop offset="0.903" stop-color="#2e6d8e"/><stop offset="0.919" stop-color="#365d8d"/><stop offset="0.935" stop-color="#404688"/><stop offset="0.952" stop-color="#472d7b"/><stop offset="0.968" stop-color="#481769"/><stop offset="0.984" stop-color="#481467"/><stop offset="1.000" stop-color="#482677"/></linearGradient><linearGradient id="ce7" gradientUnits="userSpaceOnUse" x1="19.0" x2="205.0" y1="0" y2="0"><stop offset="0.000" stop-color="#2d718e"/><stop offset="0.016" stop-color="#355e8d"/><stop offset="0.032" stop-color="#404688"/><stop offset="0.048" stop-color="#482979"/><stop offset="0.065" stop-color="#470e61"/><stop offset="0.081" stop-color="#440256"/><stop offset="0.097" stop-color="#471365"/><stop offset="0.113" stop-color="#472f7d"/><stop offset="0.129" stop-color="#3e4c8a"/><stop offset="0.145" stop-color="#33638d"/><stop offset="0.161" stop-color="#2c728e"/><stop offset="0.177" stop-color="#2a768e"/><stop offset="0.194" stop-color="#2f6b8e"/><stop offset="0.210" stop-color="#39568c"/><stop offset="0.226" stop-color="#433d84"/><stop offset="0.242" stop-color="#482071"/><stop offset="0.258" stop-color="#46075a"/><stop offset="0.274" stop-color="#450559"/><stop offset="0.290" stop-color="#481c6e"/><stop offset="0.306" stop-color="#443983"/><stop offset="0.323" stop-color="#3a538b"/><stop offset="0.339" stop-color="#30698e"/><stop offset="0.355" stop-color="#2b758e"/><stop offset="0.371" stop-color="#2b748e"/><stop offset="0.387" stop-color="#31668e"/><stop offset="0.403" stop-color="#3c4f8a"/><stop offset="0.419" stop-color="#463480"/><stop offset="0.435" stop-color="#481769"/><stop offset="0.452" stop-color="#450457"/><stop offset="0.468" stop-color="#460b5e"/><stop offset="0.484" stop-color="#482878"/><stop offset="0.500" stop-color="#404688"/><stop offset="0.516" stop-color="#34608d"/><stop offset="0.532" stop-color="#2c728e"/><stop offset="0.548" stop-color="#2a768e"/><stop offset="0.565" stop-color="#306a8e"/><stop offset="0.581" stop-color="#3a538b"/><stop offset="0.597" stop-color="#453781"/><stop offset="0.613" stop-color="#48186a"/><stop offset="0.629" stop-color="#450457"/><stop offset="0.645" stop-color="#470e61"/><stop offset="0.661" stop-color="#472d7b"/><stop offset="0.677" stop-color="#3e4c8a"/><stop offset="0.694" stop-color="#32658e"/><stop offset="0.710" stop-color="#2b758e"/><stop offset="0.726" stop-color="#2c738e"/><stop offset="0.742" stop-color="#33628d"/><stop offset="0.758" stop-color="#3f4788"/><stop offset="0.774" stop-color="#482878"/><stop offset="0.790" stop-color="#460a5d"/><stop offset="0.806" stop-color="#450559"/><stop offset="0.823" stop-color="#481d6f"/><stop offset="0.839" stop-color="#433e85"/><stop offset="0.855" stop-color="#375a8c"/><stop offset="0.871" stop-color="#2e6f8e"/><stop offset="0.887" stop-color="#2a768e"/><stop offset="0.903" stop-color="#2e6d8e"/><stop offset="0.919" stop-color="#39558c"/><stop offset="0.935" stop-color="#443983"/><stop offset="0.952" stop-color="#481a6c"/><stop offset="0.968" stop-color="#450457"/><stop offset="0.984" stop-color="#470e61"/><stop offset="1.000" stop-color="#472d7b"/></linearGradient><linearGradient id="ce8" gradientUnits="userSpaceOnUse" x1="19.0" x2="205.0" y1="0" y2="0"><stop offset="0.000" stop-color="#2f6b8e"/><stop offset="0.016" stop-color="#39558c"/><stop offset="0.032" stop-color="#443983"/><stop offset="0.048" stop-color="#481b6d"/><stop offset="0.065" stop-color="#440256"/><stop offset="0.081" stop-color="#450457"/><stop offset="0.097" stop-color="#481d6f"/><stop offset="0.113" stop-color="#443b84"/><stop offset="0.129" stop-color="#39568c"/><stop offset="0.145" stop-color="#2f6c8e"/><stop offset="0.161" stop-color="#2a788e"/><stop offset="0.177" stop-color="#2b748e"/><stop offset="0.194" stop-color="#32658e"/><stop offset="0.210" stop-color="#3d4d8a"/><stop offset="0.226" stop-color="#472f7d"/><stop offset="0.242" stop-color="#471164"/><stop offset="0.258" stop-color="#440154"/><stop offset="0.274" stop-color="#460a5d"/><stop offset="0.290" stop-color="#482677"/><stop offset="0.306" stop-color="#404588"/><stop offset="0.323" stop-color="#355e8d"/><stop offset="0.339" stop-color="#2c718e"/><stop offset="0.355" stop-color="#29798e"/><stop offset="0.371" stop-color="#2d718e"/><stop offset="0.387" stop-color="#355e8d"/><stop offset="0.403" stop-color="#414487"/><stop offset="0.419" stop-color="#482576"/><stop offset="0.435" stop-color="#460a5d"/><stop offset="0.452" stop-color="#440154"/><stop offset="0.468" stop-color="#481467"/><stop offset="0.484" stop-color="#463480"/><stop offset="0.500" stop-color="#3b528b"/><stop offset="0.516" stop-color="#2f6b8e"/><stop offset="0.532" stop-color="#2a788e"/><stop offset="0.548" stop-color="#2b748e"/><stop offset="0.565" stop-color="#33628d"/><stop offset="0.581" stop-color="#3f4788"/><stop offset="0.597" stop-color="#482878"/><stop offset="0.613" stop-color="#460a5d"/><stop offset="0.629" stop-color="#440154"/><stop offset="0.645" stop-color="#48186a"/><stop offset="0.661" stop-color="#443a83"/><stop offset="0.677" stop-color="#38598c"/><stop offset="0.694" stop-color="#2d708e"/><stop offset="0.710" stop-color="#29798e"/><stop offset="0.726" stop-color="#2d708e"/><stop offset="0.742" stop-color="#38598c"/><stop offset="0.758" stop-color="#443a83"/><stop offset="0.774" stop-color="#48186a"/><stop offset="0.790" stop-color="#440154"/><stop offset="0.806" stop-color="#460a5d"/><stop offset="0.823" stop-color="#472a7a"/><stop offset="0.839" stop-color="#3e4a89"/><stop offset="0.855" stop-color="#32658e"/><stop offset="0.871" stop-color="#2a768e"/><stop offset="0.887" stop-color="#2a768e"/><stop offset="0.903" stop-color="#32658e"/><stop offset="0.919" stop-color="#3e4a89"/><stop offset="0.935" stop-color="#472a7a"/><stop offset="0.952" stop-color="#460a5d"/><stop offset="0.968" stop-color="#440154"/><stop offset="0.984" stop-color="#48186a"/><stop offset="1.000" stop-color="#443983"/></linearGradient><linearGradient id="ce9" gradientUnits="userSpaceOnUse" x1="19.0" x2="205.0" y1="0" y2="0"><stop offset="0.000" stop-color="#34608d"/><stop offset="0.016" stop-color="#3e4989"/><stop offset="0.032" stop-color="#472f7d"/><stop offset="0.048" stop-color="#481769"/><stop offset="0.065" stop-color="#460a5d"/><stop offset="0.081" stop-color="#481668"/><stop offset="0.097" stop-color="#472e7c"/><stop offset="0.113" stop-color="#3f4889"/><stop offset="0.129" stop-color="#355f8d"/><stop offset="0.145" stop-color="#2d708e"/><stop offset="0.161" stop-color="#2b758e"/><stop offset="0.177" stop-color="#2f6c8e"/><stop offset="0.194" stop-color="#375a8c"/><stop offset="0.210" stop-color="#424186"/><stop offset="0.226" stop-color="#482677"/><stop offset="0.242" stop-color="#471063"/><stop offset="0.258" stop-color="#460a5d"/><stop offset="0.274" stop-color="#481c6e"/><stop offset="0.290" stop-color="#453781"/><stop offset="0.306" stop-color="#3c508b"/><stop offset="0.323" stop-color="#32658e"/><stop offset="0.339" stop-color="#2c728e"/><stop offset="0.355" stop-color="#2c738e"/><stop offset="0.371" stop-color="#31678e"/><stop offset="0.387" stop-color="#3b528b"/><stop offset="0.403" stop-color="#443983"/><stop offset="0.419" stop-color="#481f70"/><stop offset="0.435" stop-color="#460b5e"/><stop offset="0.452" stop-color="#470e61"/><stop offset="0.468" stop-color="#482677"/><stop offset="0.484" stop-color="#414287"/><stop offset="0.500" stop-color="#365c8d"/><stop offset="0.516" stop-color="#2e6f8e"/><stop offset="0.532" stop-color="#2b748e"/><stop offset="0.548" stop-color="#2f6b8e"/><stop offset="0.565" stop-color="#39568c"/><stop offset="0.581" stop-color="#443b84"/><stop offset="0.597" stop-color="#482071"/><stop offset="0.613" stop-color="#460b5e"/><stop offset="0.629" stop-color="#471063"/><stop offset="0.645" stop-color="#472a7a"/><stop offset="0.661" stop-color="#3f4889"/><stop offset="0.677" stop-color="#34618d"/><stop offset="0.694" stop-color="#2c718e"/><stop offset="0.710" stop-color="#2c738e"/><stop offset="0.726" stop-color="#32648e"/><stop offset="0.742" stop-color="#3e4c8a"/><stop offset="0.758" stop-color="#472f7d"/><stop offset="0.774" stop-color="#481467"/><stop offset="0.790" stop-color="#460a5d"/><stop offset="0.806" stop-color="#481d6f"/><stop offset="0.823" stop-color="#443a83"/><stop offset="0.839" stop-color="#39558c"/><stop offset="0.855" stop-color="#2f6b8e"/><stop offset="0.871" stop-color="#2b758e"/><stop offset="0.887" stop-color="#2e6e8e"/><stop offset="0.903" stop-color="#375a8c"/><stop offset="0.919" stop-color="#423f85"/><stop offset="0.935" stop-color="#482173"/><stop offset="0.952" stop-color="#460b5e"/><stop offset="0.968" stop-color="#471063"/><stop offset="0.984" stop-color="#472a7a"/><stop offset="1.000" stop-color="#3f4788"/></linearGradient><linearGradient id="ce10" gradientUnits="userSpaceOnUse" x1="19.0" x2="205.0" y1="0" y2="0"><stop offset="0.000" stop-color="#3a548c"/><stop offset="0.016" stop-color="#424186"/><stop offset="0.032" stop-color="#472d7b"/><stop offset="0.048" stop-color="#481d6f"/><stop offset="0.065" stop-color="#481b6d"/><stop offset="0.081" stop-color="#482979"/><stop offset="0.097" stop-color="#433d84"/><stop offset="0.113" stop-color="#3c508b"/><stop offset="0.129" stop-color="#33628d"/><stop offset="0.145" stop-color="#2e6d8e"/><stop offset="0.161" stop-color="#2e6d8e"/><stop offset="0.177" stop-color="#34618d"/><stop offset="0.194" stop-color="#3c4f8a"/><stop offset="0.210" stop-color="#443a83"/><stop offset="0.226" stop-color="#482677"/><stop offset="0.242" stop-color="#481b6d"/><stop offset="0.258" stop-color="#481f70"/><stop offset="0.274" stop-color="#472f7d"/><stop offset="0.290" stop-color="#414487"/><stop offset="0.306" stop-color="#39568c"/><stop offset="0.323" stop-color="#31678e"/><stop offset="0.339" stop-color="#2e6e8e"/><stop offset="0.355" stop-color="#306a8e"/><stop offset="0.371" stop-color="#365c8d"/><stop offset="0.387" stop-color="#3f4889"/><stop offset="0.403" stop-color="#463480"/><stop offset="0.419" stop-color="#482173"/><stop offset="0.435" stop-color="#481a6c"/><stop offset="0.452" stop-color="#482475"/><stop offset="0.468" stop-color="#453882"/><stop offset="0.484" stop-color="#3d4e8a"/><stop offset="0.500" stop-color="#34618d"/><stop offset="0.516" stop-color="#2e6d8e"/><stop offset="0.532" stop-color="#2f6c8e"/><stop offset="0.548" stop-color="#355f8d"/><stop offset="0.565" stop-color="#3e4c8a"/><stop offset="0.581" stop-color="#453581"/><stop offset="0.597" stop-color="#482173"/><stop offset="0.613" stop-color="#481a6c"/><stop offset="0.629" stop-color="#482576"/><stop offset="0.645" stop-color="#443b84"/><stop offset="0.661" stop-color="#3b518b"/><stop offset="0.677" stop-color="#32658e"/><stop offset="0.694" stop-color="#2e6e8e"/><stop offset="0.710" stop-color="#30698e"/><stop offset="0.726" stop-color="#38588c"/><stop offset="0.742" stop-color="#414287"/><stop offset="0.758" stop-color="#472c7a"/><stop offset="0.774" stop-color="#481b6d"/><stop offset="0.790" stop-color="#481d6f"/><stop offset="0.806" stop-color="#46307e"/><stop offset="0.823" stop-color="#3f4788"/><stop offset="0.839" stop-color="#365c8d"/><stop offset="0.855" stop-color="#2f6b8e"/><stop offset="0.871" stop-color="#2e6e8e"/><stop offset="0.887" stop-color="#34618d"/><stop offset="0.903" stop-color="#3d4e8a"/><stop offset="0.919" stop-color="#453781"/><stop offset="0.935" stop-color="#482374"/><stop offset="0.952" stop-color="#481a6c"/><stop offset="0.968" stop-color="#482576"/><stop offset="0.984" stop-color="#443b84"/><stop offset="1.000" stop-color="#3b518b"/></linearGradient><linearGradient id="ce11" gradientUnits="userSpaceOnUse" x1="19.0" x2="205.0" y1="0" y2="0"><stop offset="0.000" stop-color="#3e4c8a"/><stop offset="0.016" stop-color="#443b84"/><stop offset="0.032" stop-color="#472d7b"/><stop offset="0.048" stop-color="#482576"/><stop offset="0.065" stop-color="#482979"/><stop offset="0.081" stop-color="#453781"/><stop offset="0.097" stop-color="#404688"/><stop offset="0.113" stop-color="#39558c"/><stop offset="0.129" stop-color="#33638d"/><stop offset="0.145" stop-color="#30698e"/><stop offset="0.161" stop-color="#32648e"/><stop offset="0.177" stop-color="#39568c"/><stop offset="0.194" stop-color="#3f4788"/><stop offset="0.210" stop-color="#453781"/><stop offset="0.226" stop-color="#482979"/><stop offset="0.242" stop-color="#482576"/><stop offset="0.258" stop-color="#472d7b"/><stop offset="0.274" stop-color="#443b84"/><stop offset="0.290" stop-color="#3e4c8a"/><stop offset="0.306" stop-color="#375b8d"/><stop offset="0.323" stop-color="#31668e"/><stop offset="0.339" stop-color="#31688e"/><stop offset="0.355" stop-color="#34608d"/><stop offset="0.371" stop-color="#3b528b"/><stop offset="0.387" stop-color="#424186"/><stop offset="0.403" stop-color="#46327e"/><stop offset="0.419" stop-color="#482677"/><stop offset="0.435" stop-color="#482677"/><stop offset="0.452" stop-color="#46327e"/><stop offset="0.468" stop-color="#414287"/><stop offset="0.484" stop-color="#3a538b"/><stop offset="0.500" stop-color="#33638d"/><stop offset="0.516" stop-color="#30698e"/><stop offset="0.532" stop-color="#33638d"/><stop offset="0.548" stop-color="#3a548c"/><stop offset="0.565" stop-color="#414487"/><stop offset="0.581" stop-color="#46337f"/><stop offset="0.597" stop-color="#482677"/><stop offset="0.613" stop-color="#482878"/><stop offset="0.629" stop-color="#463480"/><stop offset="0.645" stop-color="#404688"/><stop offset="0.661" stop-color="#38588c"/><stop offset="0.677" stop-color="#32658e"/><stop offset="0.694" stop-color="#31688e"/><stop offset="0.710" stop-color="#355f8d"/><stop offset="0.726" stop-color="#3d4e8a"/><stop offset="0.742" stop-color="#443b84"/><stop offset="0.758" stop-color="#472c7a"/><stop offset="0.774" stop-color="#482576"/><stop offset="0.790" stop-color="#472d7b"/><stop offset="0.806" stop-color="#433d84"/><stop offset="0.823" stop-color="#3c4f8a"/><stop offset="0.839" stop-color="#34608d"/><stop offset="0.855" stop-color="#30698e"/><stop offset="0.871" stop-color="#32658e"/><stop offset="0.887" stop-color="#39568c"/><stop offset="0.903" stop-color="#404588"/><stop offset="0.919" stop-color="#46337f"/><stop offset="0.935" stop-color="#482677"/><stop offset="0.952" stop-color="#482878"/><stop offset="0.968" stop-color="#463480"/><stop offset="0.984" stop-color="#404688"/><stop offset="1.000" stop-color="#38588c"/></linearGradient><linearGradient id="ce12" gradientUnits="userSpaceOnUse" x1="19.0" x2="205.0" y1="0" y2="0"><stop offset="0.000" stop-color="#404588"/><stop offset="0.016" stop-color="#453581"/><stop offset="0.032" stop-color="#482979"/><stop offset="0.048" stop-color="#482576"/><stop offset="0.065" stop-color="#472e7c"/><stop offset="0.081" stop-color="#433d84"/><stop offset="0.097" stop-color="#3d4d8a"/><stop offset="0.113" stop-color="#375b8d"/><stop offset="0.129" stop-color="#32658e"/><stop offset="0.145" stop-color="#31668e"/><stop offset="0.161" stop-color="#355e8d"/><stop offset="0.177" stop-color="#3c4f8a"/><stop offset="0.194" stop-color="#423f85"/><stop offset="0.210" stop-color="#46307e"/><stop offset="0.226" stop-color="#482677"/><stop offset="0.242" stop-color="#482878"/><stop offset="0.258" stop-color="#46327e"/><stop offset="0.274" stop-color="#424186"/><stop offset="0.290" stop-color="#3b518b"/><stop offset="0.306" stop-color="#355f8d"/><stop offset="0.323" stop-color="#31678e"/><stop offset="0.339" stop-color="#32658e"/><stop offset="0.355" stop-color="#375a8c"/><stop offset="0.371" stop-color="#3e4a89"/><stop offset="0.387" stop-color="#443a83"/><stop offset="0.403" stop-color="#472d7b"/><stop offset="0.419" stop-color="#482576"/><stop offset="0.435" stop-color="#472a7a"/><stop offset="0.452" stop-color="#443983"/><stop offset="0.468" stop-color="#3e4989"/><stop offset="0.484" stop-color="#375a8c"/><stop offset="0.500" stop-color="#32658e"/><stop offset="0.516" stop-color="#31668e"/><stop offset="0.532" stop-color="#365c8d"/><stop offset="0.548" stop-color="#3d4d8a"/><stop offset="0.565" stop-color="#443b84"/><stop offset="0.581" stop-color="#472d7b"/><stop offset="0.597" stop-color="#482576"/><stop offset="0.613" stop-color="#472c7a"/><stop offset="0.629" stop-color="#443b84"/><stop offset="0.645" stop-color="#3d4d8a"/><stop offset="0.661" stop-color="#365d8d"/><stop offset="0.677" stop-color="#31678e"/><stop offset="0.694" stop-color="#32648e"/><stop offset="0.710" stop-color="#39568c"/><stop offset="0.726" stop-color="#404688"/><stop offset="0.742" stop-color="#463480"/><stop offset="0.758" stop-color="#482878"/><stop offset="0.774" stop-color="#482677"/><stop offset="0.790" stop-color="#46337f"/><stop offset="0.806" stop-color="#404588"/><stop offset="0.823" stop-color="#39558c"/><stop offset="0.839" stop-color="#33638d"/><stop offset="0.855" stop-color="#31678e"/><stop offset="0.871" stop-color="#355e8d"/><stop offset="0.887" stop-color="#3c4f8a"/><stop offset="0.903" stop-color="#433d84"/><stop offset="0.919" stop-color="#472d7b"/><stop offset="0.935" stop-color="#482576"/><stop offset="0.952" stop-color="#472c7a"/><stop offset="0.968" stop-color="#443b84"/><stop offset="0.984" stop-color="#3d4d8a"/><stop offset="1.000" stop-color="#365d8d"/></linearGradient><linearGradient id="ce13" gradientUnits="userSpaceOnUse" x1="19.0" x2="205.0" y1="0" y2="0"><stop offset="0.000" stop-color="#443a83"/><stop offset="0.016" stop-color="#482878"/><stop offset="0.032" stop-color="#481b6d"/><stop offset="0.048" stop-color="#481d6f"/><stop offset="0.065" stop-color="#472e7c"/><stop offset="0.081" stop-color="#424186"/><stop offset="0.097" stop-color="#3a538b"/><stop offset="0.113" stop-color="#33628d"/><stop offset="0.129" stop-color="#30698e"/><stop offset="0.145" stop-color="#32658e"/><stop offset="0.161" stop-color="#38598c"/><stop offset="0.177" stop-color="#3f4788"/><stop offset="0.194" stop-color="#463480"/><stop offset="0.210" stop-color="#482173"/><stop offset="0.226" stop-color="#481a6c"/><stop offset="0.242" stop-color="#482173"/><stop offset="0.258" stop-color="#463480"/><stop offset="0.274" stop-color="#3f4788"/><stop offset="0.290" stop-color="#38598c"/><stop offset="0.306" stop-color="#32658e"/><stop offset="0.323" stop-color="#30698e"/><stop offset="0.339" stop-color="#33628d"/><stop offset="0.355" stop-color="#3a538b"/><stop offset="0.371" stop-color="#424186"/><stop offset="0.387" stop-color="#472e7c"/><stop offset="0.403" stop-color="#481d6f"/><stop offset="0.419" stop-color="#481b6d"/><stop offset="0.435" stop-color="#482878"/><stop offset="0.452" stop-color="#433d84"/><stop offset="0.468" stop-color="#3c508b"/><stop offset="0.484" stop-color="#34618d"/><stop offset="0.500" stop-color="#30698e"/><stop offset="0.516" stop-color="#32658e"/><stop offset="0.532" stop-color="#39568c"/><stop offset="0.548" stop-color="#414487"/><stop offset="0.565" stop-color="#472f7d"/><stop offset="0.581" stop-color="#481d6f"/><stop offset="0.597" stop-color="#481b6d"/><stop offset="0.613" stop-color="#472a7a"/><stop offset="0.629" stop-color="#424086"/><stop offset="0.645" stop-color="#3a548c"/><stop offset="0.661" stop-color="#32648e"/><stop offset="0.677" stop-color="#30698e"/><stop offset="0.694" stop-color="#34618d"/><stop offset="0.710" stop-color="#3c4f8a"/><stop offset="0.726" stop-color="#443a83"/><stop offset="0.742" stop-color="#482576"/><stop offset="0.758" stop-color="#481a6c"/><stop offset="0.774" stop-color="#482173"/><stop offset="0.790" stop-color="#453581"/><stop offset="0.806" stop-color="#3e4c8a"/><stop offset="0.823" stop-color="#365d8d"/><stop offset="0.839" stop-color="#31688e"/><stop offset="0.855" stop-color="#31668e"/><stop offset="0.871" stop-color="#38598c"/><stop offset="0.887" stop-color="#404688"/><stop offset="0.903" stop-color="#46307e"/><stop offset="0.919" stop-color="#481d6f"/><stop offset="0.935" stop-color="#481b6d"/><stop offset="0.952" stop-color="#472a7a"/><stop offset="0.968" stop-color="#424086"/><stop offset="0.984" stop-color="#3a548c"/><stop offset="1.000" stop-color="#32648e"/></linearGradient><linearGradient id="ce14" gradientUnits="userSpaceOnUse" x1="19.0" x2="205.0" y1="0" y2="0"><stop offset="0.000" stop-color="#472c7a"/><stop offset="0.016" stop-color="#481467"/><stop offset="0.032" stop-color="#460a5d"/><stop offset="0.048" stop-color="#481769"/><stop offset="0.065" stop-color="#46307e"/><stop offset="0.081" stop-color="#3f4889"/><stop offset="0.097" stop-color="#365c8d"/><stop offset="0.113" stop-color="#30698e"/><stop offset="0.129" stop-color="#2f6c8e"/><stop offset="0.145" stop-color="#33638d"/><stop offset="0.161" stop-color="#3b528b"/><stop offset="0.177" stop-color="#443b84"/><stop offset="0.194" stop-color="#482374"/><stop offset="0.210" stop-color="#470e61"/><stop offset="0.226" stop-color="#460b5e"/><stop offset="0.242" stop-color="#481f70"/><stop offset="0.258" stop-color="#453882"/><stop offset="0.274" stop-color="#3c4f8a"/><stop offset="0.290" stop-color="#34618d"/><stop offset="0.306" stop-color="#2f6c8e"/><stop offset="0.323" stop-color="#2f6b8e"/><stop offset="0.339" stop-color="#355f8d"/><stop offset="0.355" stop-color="#3e4c8a"/><stop offset="0.371" stop-color="#463480"/><stop offset="0.387" stop-color="#481b6d"/><stop offset="0.403" stop-color="#460a5d"/><stop offset="0.419" stop-color="#471164"/><stop offset="0.435" stop-color="#482979"/><stop offset="0.452" stop-color="#414487"/><stop offset="0.468" stop-color="#375a8c"/><stop offset="0.484" stop-color="#30698e"/><stop offset="0.500" stop-color="#2f6c8e"/><stop offset="0.516" stop-color="#33628d"/><stop offset="0.532" stop-color="#3c4f8a"/><stop offset="0.548" stop-color="#453781"/><stop offset="0.565" stop-color="#481c6e"/><stop offset="0.581" stop-color="#460a5d"/><stop offset="0.597" stop-color="#471365"/><stop offset="0.613" stop-color="#472e7c"/><stop offset="0.629" stop-color="#3f4889"/><stop offset="0.645" stop-color="#355e8d"/><stop offset="0.661" stop-color="#2f6b8e"/><stop offset="0.677" stop-color="#306a8e"/><stop offset="0.694" stop-color="#365c8d"/><stop offset="0.710" stop-color="#404688"/><stop offset="0.726" stop-color="#472a7a"/><stop offset="0.742" stop-color="#471063"/><stop offset="0.758" stop-color="#460b5e"/><stop offset="0.774" stop-color="#482071"/><stop offset="0.790" stop-color="#443b84"/><stop offset="0.806" stop-color="#3a548c"/><stop offset="0.823" stop-color="#31668e"/><stop offset="0.839" stop-color="#2e6d8e"/><stop offset="0.855" stop-color="#32648e"/><stop offset="0.871" stop-color="#3b518b"/><stop offset="0.887" stop-color="#443983"/><stop offset="0.903" stop-color="#481d6f"/><stop offset="0.919" stop-color="#460a5d"/><stop offset="0.935" stop-color="#471365"/><stop offset="0.952" stop-color="#472d7b"/><stop offset="0.968" stop-color="#3f4889"/><stop offset="0.984" stop-color="#355e8d"/><stop offset="1.000" stop-color="#2f6b8e"/></linearGradient><linearGradient id="ce15" gradientUnits="userSpaceOnUse" x1="19.0" x2="205.0" y1="0" y2="0"><stop offset="0.000" stop-color="#481b6d"/><stop offset="0.016" stop-color="#440256"/><stop offset="0.032" stop-color="#450457"/><stop offset="0.048" stop-color="#481c6e"/><stop offset="0.065" stop-color="#443983"/><stop offset="0.081" stop-color="#3b518b"/><stop offset="0.097" stop-color="#32648e"/><stop offset="0.113" stop-color="#2e6e8e"/><stop offset="0.129" stop-color="#2f6c8e"/><stop offset="0.145" stop-color="#355e8d"/><stop offset="0.161" stop-color="#3f4889"/><stop offset="0.177" stop-color="#472e7c"/><stop offset="0.194" stop-color="#471164"/><stop offset="0.210" stop-color="#440154"/><stop offset="0.226" stop-color="#460a5d"/><stop offset="0.242" stop-color="#482576"/><stop offset="0.258" stop-color="#424186"/><stop offset="0.274" stop-color="#38588c"/><stop offset="0.290" stop-color="#31688e"/><stop offset="0.306" stop-color="#2e6f8e"/><stop offset="0.323" stop-color="#31688e"/><stop offset="0.339" stop-color="#38588c"/><stop offset="0.355" stop-color="#424186"/><stop offset="0.371" stop-color="#482576"/><stop offset="0.387" stop-color="#460a5d"/><stop offset="0.403" stop-color="#440154"/><stop offset="0.419" stop-color="#481467"/><stop offset="0.435" stop-color="#46327e"/><stop offset="0.452" stop-color="#3d4e8a"/><stop offset="0.468" stop-color="#33638d"/><stop offset="0.484" stop-color="#2e6e8e"/><stop offset="0.500" stop-color="#2f6b8e"/><stop offset="0.516" stop-color="#365c8d"/><stop offset="0.532" stop-color="#404588"/><stop offset="0.548" stop-color="#482677"/><stop offset="0.565" stop-color="#460a5d"/><stop offset="0.581" stop-color="#440154"/><stop offset="0.597" stop-color="#481769"/><stop offset="0.613" stop-color="#453882"/><stop offset="0.629" stop-color="#3b528b"/><stop offset="0.645" stop-color="#31678e"/><stop offset="0.661" stop-color="#2e6f8e"/><stop offset="0.677" stop-color="#31678e"/><stop offset="0.694" stop-color="#3a538b"/><stop offset="0.710" stop-color="#453882"/><stop offset="0.726" stop-color="#48186a"/><stop offset="0.742" stop-color="#440154"/><stop offset="0.758" stop-color="#460a5d"/><stop offset="0.774" stop-color="#482878"/><stop offset="0.790" stop-color="#404688"/><stop offset="0.806" stop-color="#355e8d"/><stop offset="0.823" stop-color="#2e6d8e"/><stop offset="0.839" stop-color="#2e6d8e"/><stop offset="0.855" stop-color="#355f8d"/><stop offset="0.871" stop-color="#3f4788"/><stop offset="0.887" stop-color="#482979"/><stop offset="0.903" stop-color="#460a5d"/><stop offset="0.919" stop-color="#440154"/><stop offset="0.935" stop-color="#481769"/><stop offset="0.952" stop-color="#453781"/><stop offset="0.968" stop-color="#3b528b"/><stop offset="0.984" stop-color="#31668e"/><stop offset="1.000" stop-color="#2e6f8e"/></linearGradient><linearGradient id="ce16" gradientUnits="userSpaceOnUse" x1="19.0" x2="205.0" y1="0" y2="0"><stop offset="0.000" stop-color="#471164"/><stop offset="0.016" stop-color="#440256"/><stop offset="0.032" stop-color="#470e61"/><stop offset="0.048" stop-color="#482979"/><stop offset="0.065" stop-color="#414487"/><stop offset="0.081" stop-color="#375a8c"/><stop offset="0.097" stop-color="#30698e"/><stop offset="0.113" stop-color="#2e6e8e"/><stop offset="0.129" stop-color="#31668e"/><stop offset="0.145" stop-color="#39558c"/><stop offset="0.161" stop-color="#423f85"/><stop offset="0.177" stop-color="#482374"/><stop offset="0.194" stop-color="#460a5d"/><stop offset="0.210" stop-color="#450457"/><stop offset="0.226" stop-color="#481769"/><stop offset="0.242" stop-color="#46337f"/><stop offset="0.258" stop-color="#3e4c8a"/><stop offset="0.274" stop-color="#355f8d"/><stop offset="0.290" stop-color="#2f6c8e"/><stop offset="0.306" stop-color="#2e6d8e"/><stop offset="0.323" stop-color="#33628d"/><stop offset="0.339" stop-color="#3c4f8a"/><stop offset="0.355" stop-color="#453781"/><stop offset="0.371" stop-color="#481b6d"/><stop offset="0.387" stop-color="#450559"/><stop offset="0.403" stop-color="#46085c"/><stop offset="0.419" stop-color="#482374"/><stop offset="0.435" stop-color="#423f85"/><stop offset="0.452" stop-color="#38588c"/><stop offset="0.468" stop-color="#31688e"/><stop offset="0.484" stop-color="#2e6e8e"/><stop offset="0.500" stop-color="#32658e"/><stop offset="0.516" stop-color="#3b528b"/><stop offset="0.532" stop-color="#443983"/><stop offset="0.548" stop-color="#481c6e"/><stop offset="0.565" stop-color="#450559"/><stop offset="0.581" stop-color="#460a5d"/><stop offset="0.597" stop-color="#482677"/><stop offset="0.613" stop-color="#414487"/><stop offset="0.629" stop-color="#365c8d"/><stop offset="0.645" stop-color="#2f6b8e"/><stop offset="0.661" stop-color="#2e6d8e"/><stop offset="0.677" stop-color="#355f8d"/><stop offset="0.694" stop-color="#3f4889"/><stop offset="0.710" stop-color="#472c7a"/><stop offset="0.726" stop-color="#470e61"/><stop offset="0.742" stop-color="#450457"/><stop offset="0.758" stop-color="#48186a"/><stop offset="0.774" stop-color="#453781"/><stop offset="0.790" stop-color="#3b518b"/><stop offset="0.806" stop-color="#32658e"/><stop offset="0.823" stop-color="#2e6e8e"/><stop offset="0.839" stop-color="#31688e"/><stop offset="0.855" stop-color="#39558c"/><stop offset="0.871" stop-color="#443b84"/><stop offset="0.887" stop-color="#481d6f"/><stop offset="0.903" stop-color="#450559"/><stop offset="0.919" stop-color="#460a5d"/><stop offset="0.935" stop-color="#482677"/><stop offset="0.952" stop-color="#414487"/><stop offset="0.968" stop-color="#365c8d"/><stop offset="0.984" stop-color="#2f6b8e"/><stop offset="1.000" stop-color="#2e6d8e"/></linearGradient><linearGradient id="ce17" gradientUnits="userSpaceOnUse" x1="19.0" x2="205.0" y1="0" y2="0"><stop offset="0.000" stop-color="#481a6c"/><stop offset="0.016" stop-color="#471164"/><stop offset="0.032" stop-color="#481f70"/><stop offset="0.048" stop-color="#463480"/><stop offset="0.065" stop-color="#3e4989"/><stop offset="0.081" stop-color="#365c8d"/><stop offset="0.097" stop-color="#31688e"/><stop offset="0.113" stop-color="#306a8e"/><stop offset="0.129" stop-color="#34618d"/><stop offset="0.145" stop-color="#3c508b"/><stop offset="0.161" stop-color="#443b84"/><stop offset="0.177" stop-color="#482576"/><stop offset="0.194" stop-color="#481467"/><stop offset="0.210" stop-color="#481467"/><stop offset="0.226" stop-color="#482576"/><stop offset="0.242" stop-color="#443b84"/><stop offset="0.258" stop-color="#3c508b"/><stop offset="0.274" stop-color="#34618d"/><stop offset="0.290" stop-color="#306a8e"/><stop offset="0.306" stop-color="#31688e"/><stop offset="0.323" stop-color="#365c8d"/><stop offset="0.339" stop-color="#3e4a89"/><stop offset="0.355" stop-color="#453581"/><stop offset="0.371" stop-color="#481f70"/><stop offset="0.387" stop-color="#471365"/><stop offset="0.403" stop-color="#481a6c"/><stop offset="0.419" stop-color="#472f7d"/><stop offset="0.435" stop-color="#404688"/><stop offset="0.452" stop-color="#375a8c"/><stop offset="0.468" stop-color="#31688e"/><stop offset="0.484" stop-color="#306a8e"/><stop offset="0.500" stop-color="#34608d"/><stop offset="0.516" stop-color="#3d4e8a"/><stop offset="0.532" stop-color="#453781"/><stop offset="0.548" stop-color="#482071"/><stop offset="0.565" stop-color="#471164"/><stop offset="0.581" stop-color="#481b6d"/><stop offset="0.597" stop-color="#46327e"/><stop offset="0.613" stop-color="#3e4a89"/><stop offset="0.629" stop-color="#355e8d"/><stop offset="0.645" stop-color="#306a8e"/><stop offset="0.661" stop-color="#31688e"/><stop offset="0.677" stop-color="#375a8c"/><stop offset="0.694" stop-color="#404588"/><stop offset="0.710" stop-color="#472c7a"/><stop offset="0.726" stop-color="#481769"/><stop offset="0.742" stop-color="#481467"/><stop offset="0.758" stop-color="#482677"/><stop offset="0.774" stop-color="#423f85"/><stop offset="0.790" stop-color="#39558c"/><stop offset="0.806" stop-color="#32658e"/><stop offset="0.823" stop-color="#2f6b8e"/><stop offset="0.839" stop-color="#33628d"/><stop offset="0.855" stop-color="#3c508b"/><stop offset="0.871" stop-color="#443983"/><stop offset="0.887" stop-color="#482071"/><stop offset="0.903" stop-color="#471164"/><stop offset="0.919" stop-color="#481b6d"/><stop offset="0.935" stop-color="#46327e"/><stop offset="0.952" stop-color="#3e4989"/><stop offset="0.968" stop-color="#355e8d"/><stop offset="0.984" stop-color="#30698e"/><stop offset="1.000" stop-color="#31688e"/></linearGradient><linearGradient id="ce18" gradientUnits="userSpaceOnUse" x1="19.0" x2="205.0" y1="0" y2="0"><stop offset="0.000" stop-color="#482576"/><stop offset="0.016" stop-color="#482071"/><stop offset="0.032" stop-color="#482979"/><stop offset="0.048" stop-color="#443983"/><stop offset="0.065" stop-color="#3e4a89"/><stop offset="0.081" stop-color="#375a8c"/><stop offset="0.097" stop-color="#32658e"/><stop offset="0.113" stop-color="#31668e"/><stop offset="0.129" stop-color="#355e8d"/><stop offset="0.145" stop-color="#3c508b"/><stop offset="0.161" stop-color="#423f85"/><stop offset="0.177" stop-color="#472e7c"/><stop offset="0.194" stop-color="#482374"/><stop offset="0.210" stop-color="#482374"/><stop offset="0.226" stop-color="#472e7c"/><stop offset="0.242" stop-color="#423f85"/><stop offset="0.258" stop-color="#3c4f8a"/><stop offset="0.274" stop-color="#355e8d"/><stop offset="0.290" stop-color="#31668e"/><stop offset="0.306" stop-color="#32658e"/><stop offset="0.323" stop-color="#375a8c"/><stop offset="0.339" stop-color="#3e4a89"/><stop offset="0.355" stop-color="#443a83"/><stop offset="0.371" stop-color="#472a7a"/><stop offset="0.387" stop-color="#482173"/><stop offset="0.403" stop-color="#482576"/><stop offset="0.419" stop-color="#453581"/><stop offset="0.435" stop-color="#3f4788"/><stop offset="0.452" stop-color="#38588c"/><stop offset="0.468" stop-color="#32648e"/><stop offset="0.484" stop-color="#31668e"/><stop offset="0.500" stop-color="#365d8d"/><stop offset="0.516" stop-color="#3d4e8a"/><stop offset="0.532" stop-color="#443b84"/><stop offset="0.548" stop-color="#472a7a"/><stop offset="0.565" stop-color="#482071"/><stop offset="0.581" stop-color="#482677"/><stop offset="0.597" stop-color="#453882"/><stop offset="0.613" stop-color="#3e4a89"/><stop offset="0.629" stop-color="#365c8d"/><stop offset="0.645" stop-color="#31668e"/><stop offset="0.661" stop-color="#32648e"/><stop offset="0.677" stop-color="#38588c"/><stop offset="0.694" stop-color="#404688"/><stop offset="0.710" stop-color="#46337f"/><stop offset="0.726" stop-color="#482475"/><stop offset="0.742" stop-color="#482173"/><stop offset="0.758" stop-color="#472f7d"/><stop offset="0.774" stop-color="#424186"/><stop offset="0.790" stop-color="#3a538b"/><stop offset="0.806" stop-color="#33628d"/><stop offset="0.823" stop-color="#31678e"/><stop offset="0.839" stop-color="#355f8d"/><stop offset="0.855" stop-color="#3c4f8a"/><stop offset="0.871" stop-color="#433d84"/><stop offset="0.887" stop-color="#472a7a"/><stop offset="0.903" stop-color="#482071"/><stop offset="0.919" stop-color="#482677"/><stop offset="0.935" stop-color="#453882"/><stop offset="0.952" stop-color="#3e4a89"/><stop offset="0.968" stop-color="#375b8d"/><stop offset="0.984" stop-color="#31668e"/><stop offset="1.000" stop-color="#32658e"/></linearGradient><linearGradient id="ce19" gradientUnits="userSpaceOnUse" x1="19.0" x2="205.0" y1="0" y2="0"><stop offset="0.000" stop-color="#472a7a"/><stop offset="0.016" stop-color="#482677"/><stop offset="0.032" stop-color="#472e7c"/><stop offset="0.048" stop-color="#443b84"/><stop offset="0.065" stop-color="#3e4a89"/><stop offset="0.081" stop-color="#38598c"/><stop offset="0.097" stop-color="#33638d"/><stop offset="0.113" stop-color="#32658e"/><stop offset="0.129" stop-color="#365d8d"/><stop offset="0.145" stop-color="#3c508b"/><stop offset="0.161" stop-color="#424086"/><stop offset="0.177" stop-color="#46327e"/><stop offset="0.194" stop-color="#482878"/><stop offset="0.210" stop-color="#482878"/><stop offset="0.226" stop-color="#46327e"/><stop offset="0.242" stop-color="#424086"/><stop offset="0.258" stop-color="#3c4f8a"/><stop offset="0.274" stop-color="#365d8d"/><stop offset="0.290" stop-color="#32658e"/><stop offset="0.306" stop-color="#33638d"/><stop offset="0.323" stop-color="#375a8c"/><stop offset="0.339" stop-color="#3e4a89"/><stop offset="0.355" stop-color="#433d84"/><stop offset="0.371" stop-color="#472e7c"/><stop offset="0.387" stop-color="#482677"/><stop offset="0.403" stop-color="#472a7a"/><stop offset="0.419" stop-color="#453882"/><stop offset="0.435" stop-color="#3f4889"/><stop offset="0.452" stop-color="#38588c"/><stop offset="0.468" stop-color="#33638d"/><stop offset="0.484" stop-color="#32658e"/><stop offset="0.500" stop-color="#365c8d"/><stop offset="0.516" stop-color="#3d4e8a"/><stop offset="0.532" stop-color="#433e85"/><stop offset="0.548" stop-color="#472f7d"/><stop offset="0.565" stop-color="#482677"/><stop offset="0.581" stop-color="#472c7a"/><stop offset="0.597" stop-color="#443a83"/><stop offset="0.613" stop-color="#3e4a89"/><stop offset="0.629" stop-color="#375b8d"/><stop offset="0.645" stop-color="#32658e"/><stop offset="0.661" stop-color="#33638d"/><stop offset="0.677" stop-color="#39568c"/><stop offset="0.694" stop-color="#3f4788"/><stop offset="0.710" stop-color="#453781"/><stop offset="0.726" stop-color="#482979"/><stop offset="0.742" stop-color="#482878"/><stop offset="0.758" stop-color="#46337f"/><stop offset="0.774" stop-color="#414287"/><stop offset="0.790" stop-color="#3a538b"/><stop offset="0.806" stop-color="#34618d"/><stop offset="0.823" stop-color="#32658e"/><stop offset="0.839" stop-color="#355e8d"/><stop offset="0.855" stop-color="#3c4f8a"/><stop offset="0.871" stop-color="#423f85"/><stop offset="0.887" stop-color="#472f7d"/><stop offset="0.903" stop-color="#482677"/><stop offset="0.919" stop-color="#472c7a"/><stop offset="0.935" stop-color="#443a83"/><stop offset="0.952" stop-color="#3e4a89"/><stop offset="0.968" stop-color="#375b8d"/><stop offset="0.984" stop-color="#32648e"/><stop offset="1.000" stop-color="#33638d"/></linearGradient></defs>
<g clip-path="url(#ce)"><g filter="url(#blur)"><rect x="19.0" y="230.0" width="186.0" height="2.10" fill="url(#ce0)"/><rect x="19.0" y="232.0" width="186.0" height="2.10" fill="url(#ce1)"/><rect x="19.0" y="234.0" width="186.0" height="2.10" fill="url(#ce2)"/><rect x="19.0" y="236.0" width="186.0" height="2.10" fill="url(#ce3)"/><rect x="19.0" y="238.0" width="186.0" height="2.10" fill="url(#ce4)"/><rect x="19.0" y="240.0" width="186.0" height="2.10" fill="url(#ce5)"/><rect x="19.0" y="242.0" width="186.0" height="2.10" fill="url(#ce6)"/><rect x="19.0" y="244.0" width="186.0" height="2.10" fill="url(#ce7)"/><rect x="19.0" y="246.0" width="186.0" height="2.10" fill="url(#ce8)"/><rect x="19.0" y="248.0" width="186.0" height="2.10" fill="url(#ce9)"/><rect x="19.0" y="250.0" width="186.0" height="2.10" fill="url(#ce10)"/><rect x="19.0" y="252.0" width="186.0" height="2.10" fill="url(#ce11)"/><rect x="19.0" y="254.0" width="186.0" height="2.10" fill="url(#ce12)"/><rect x="19.0" y="256.0" width="186.0" height="2.10" fill="url(#ce13)"/><rect x="19.0" y="258.0" width="186.0" height="2.10" fill="url(#ce14)"/><rect x="19.0" y="260.0" width="186.0" height="2.10" fill="url(#ce15)"/><rect x="19.0" y="262.0" width="186.0" height="2.10" fill="url(#ce16)"/><rect x="19.0" y="264.0" width="186.0" height="2.10" fill="url(#ce17)"/><rect x="19.0" y="266.0" width="186.0" height="2.10" fill="url(#ce18)"/><rect x="19.0" y="268.0" width="186.0" height="2.10" fill="url(#ce19)"/></g></g>
<rect x="22.0" y="232.0" width="180.5" height="34.39999999999998" fill="none" stroke="#111" stroke-width="0.9"/>
<line x1="202.50" y1="266.40" x2="202.50" y2="264.20" stroke="#000" stroke-width="0.9" />
<line x1="202.50" y1="232.00" x2="202.50" y2="234.20" stroke="#000" stroke-width="0.9" />
<text x="202.50" y="273.80" font-size="7.5" text-anchor="middle" fill="#222" >0</text>
<line x1="172.42" y1="266.40" x2="172.42" y2="264.20" stroke="#000" stroke-width="0.9" />
<line x1="172.42" y1="232.00" x2="172.42" y2="234.20" stroke="#000" stroke-width="0.9" />
<text x="172.42" y="273.80" font-size="7.5" text-anchor="middle" fill="#222" >5</text>
<line x1="142.33" y1="266.40" x2="142.33" y2="264.20" stroke="#000" stroke-width="0.9" />
<line x1="142.33" y1="232.00" x2="142.33" y2="234.20" stroke="#000" stroke-width="0.9" />
<text x="142.33" y="273.80" font-size="7.5" text-anchor="middle" fill="#222" >10</text>
<line x1="112.25" y1="266.40" x2="112.25" y2="264.20" stroke="#000" stroke-width="0.9" />
<line x1="112.25" y1="232.00" x2="112.25" y2="234.20" stroke="#000" stroke-width="0.9" />
<text x="112.25" y="273.80" font-size="7.5" text-anchor="middle" fill="#222" >15</text>
<line x1="82.17" y1="266.40" x2="82.17" y2="264.20" stroke="#000" stroke-width="0.9" />
<line x1="82.17" y1="232.00" x2="82.17" y2="234.20" stroke="#000" stroke-width="0.9" />
<text x="82.17" y="273.80" font-size="7.5" text-anchor="middle" fill="#222" >20</text>
<line x1="52.08" y1="266.40" x2="52.08" y2="264.20" stroke="#000" stroke-width="0.9" />
<line x1="52.08" y1="232.00" x2="52.08" y2="234.20" stroke="#000" stroke-width="0.9" />
<text x="52.08" y="273.80" font-size="7.5" text-anchor="middle" fill="#222" >25</text>
<line x1="22.00" y1="266.40" x2="22.00" y2="264.20" stroke="#000" stroke-width="0.9" />
<line x1="22.00" y1="232.00" x2="22.00" y2="234.20" stroke="#000" stroke-width="0.9" />
<text x="22.00" y="273.80" font-size="7.5" text-anchor="middle" fill="#222" >30</text>
<line x1="22.00" y1="263.75" x2="24.20" y2="263.75" stroke="#000" stroke-width="0.9" />
<line x1="202.50" y1="263.75" x2="200.30" y2="263.75" stroke="#000" stroke-width="0.9" />
<text x="19.50" y="266.25" font-size="7.5" text-anchor="end" fill="#222" >10</text>
<line x1="22.00" y1="249.00" x2="24.20" y2="249.00" stroke="#000" stroke-width="0.9" />
<line x1="202.50" y1="249.00" x2="200.30" y2="249.00" stroke="#000" stroke-width="0.9" />
<text x="19.50" y="251.50" font-size="7.5" text-anchor="end" fill="#222" >15</text>
<line x1="22.00" y1="234.25" x2="24.20" y2="234.25" stroke="#000" stroke-width="0.9" />
<line x1="202.50" y1="234.25" x2="200.30" y2="234.25" stroke="#000" stroke-width="0.9" />
<text x="19.50" y="236.75" font-size="7.5" text-anchor="end" fill="#222" >20</text>
<text x="113.00" y="283.00" font-size="7.4" text-anchor="middle" fill="#222" >x (µm)</text>
<text transform="translate(7.2,248.6) rotate(-90)" font-size="7.5" text-anchor="middle" fill="#222"><tspan font-style="italic">w</tspan><tspan font-size="5.2" dy="1.5">Au</tspan><tspan dy="-1.5"> (µm)</tspan></text>
<clipPath id="cf"><rect x="300.0" y="232.0" width="178.5" height="34.39999999999998"/></clipPath>
<defs><linearGradient id="cf0" gradientUnits="userSpaceOnUse" x1="297.0" x2="480.0" y1="0" y2="0"><stop offset="0.000" stop-color="#48c16e"/><stop offset="0.016" stop-color="#50c46a"/><stop offset="0.033" stop-color="#54c568"/><stop offset="0.049" stop-color="#58c765"/><stop offset="0.066" stop-color="#5ac864"/><stop offset="0.082" stop-color="#58c765"/><stop offset="0.098" stop-color="#54c568"/><stop offset="0.115" stop-color="#50c46a"/><stop offset="0.131" stop-color="#48c16e"/><stop offset="0.148" stop-color="#3fbc73"/><stop offset="0.164" stop-color="#35b779"/><stop offset="0.180" stop-color="#2db27d"/><stop offset="0.197" stop-color="#25ab82"/><stop offset="0.213" stop-color="#20a386"/><stop offset="0.230" stop-color="#1e9b8a"/><stop offset="0.246" stop-color="#20928c"/><stop offset="0.262" stop-color="#23888e"/><stop offset="0.279" stop-color="#277e8e"/><stop offset="0.295" stop-color="#2c738e"/><stop offset="0.311" stop-color="#30698e"/><stop offset="0.328" stop-color="#355e8d"/><stop offset="0.344" stop-color="#3b518b"/><stop offset="0.361" stop-color="#404588"/><stop offset="0.377" stop-color="#443983"/><stop offset="0.393" stop-color="#472d7b"/><stop offset="0.410" stop-color="#482071"/><stop offset="0.426" stop-color="#481668"/><stop offset="0.443" stop-color="#460a5d"/><stop offset="0.459" stop-color="#440256"/><stop offset="0.475" stop-color="#450559"/><stop offset="0.492" stop-color="#471063"/><stop offset="0.508" stop-color="#481c6e"/><stop offset="0.525" stop-color="#472a7a"/><stop offset="0.541" stop-color="#453882"/><stop offset="0.557" stop-color="#3f4788"/><stop offset="0.574" stop-color="#39558c"/><stop offset="0.590" stop-color="#33638d"/><stop offset="0.607" stop-color="#2d708e"/><stop offset="0.623" stop-color="#287c8e"/><stop offset="0.639" stop-color="#23898e"/><stop offset="0.656" stop-color="#1f948c"/><stop offset="0.672" stop-color="#1fa188"/><stop offset="0.689" stop-color="#25ac82"/><stop offset="0.705" stop-color="#32b67a"/><stop offset="0.721" stop-color="#44bf70"/><stop offset="0.738" stop-color="#56c667"/><stop offset="0.754" stop-color="#69cd5b"/><stop offset="0.770" stop-color="#7cd250"/><stop offset="0.787" stop-color="#8bd646"/><stop offset="0.803" stop-color="#98d83e"/><stop offset="0.820" stop-color="#a5db36"/><stop offset="0.836" stop-color="#aadc32"/><stop offset="0.852" stop-color="#b0dd2f"/><stop offset="0.869" stop-color="#b0dd2f"/><stop offset="0.885" stop-color="#addc30"/><stop offset="0.902" stop-color="#a8db34"/><stop offset="0.918" stop-color="#9dd93b"/><stop offset="0.934" stop-color="#90d743"/><stop offset="0.951" stop-color="#81d34d"/><stop offset="0.967" stop-color="#70cf57"/><stop offset="0.984" stop-color="#5cc863"/><stop offset="1.000" stop-color="#4ac16d"/></linearGradient><linearGradient id="cf1" gradientUnits="userSpaceOnUse" x1="297.0" x2="480.0" y1="0" y2="0"><stop offset="0.000" stop-color="#48c16e"/><stop offset="0.016" stop-color="#50c46a"/><stop offset="0.033" stop-color="#54c568"/><stop offset="0.049" stop-color="#58c765"/><stop offset="0.066" stop-color="#5ac864"/><stop offset="0.082" stop-color="#58c765"/><stop offset="0.098" stop-color="#54c568"/><stop offset="0.115" stop-color="#50c46a"/><stop offset="0.131" stop-color="#48c16e"/><stop offset="0.148" stop-color="#3fbc73"/><stop offset="0.164" stop-color="#35b779"/><stop offset="0.180" stop-color="#2db27d"/><stop offset="0.197" stop-color="#25ab82"/><stop offset="0.213" stop-color="#20a386"/><stop offset="0.230" stop-color="#1e9b8a"/><stop offset="0.246" stop-color="#20928c"/><stop offset="0.262" stop-color="#23888e"/><stop offset="0.279" stop-color="#277e8e"/><stop offset="0.295" stop-color="#2c738e"/><stop offset="0.311" stop-color="#30698e"/><stop offset="0.328" stop-color="#355e8d"/><stop offset="0.344" stop-color="#3b518b"/><stop offset="0.361" stop-color="#404588"/><stop offset="0.377" stop-color="#443983"/><stop offset="0.393" stop-color="#472d7b"/><stop offset="0.410" stop-color="#482071"/><stop offset="0.426" stop-color="#481668"/><stop offset="0.443" stop-color="#460a5d"/><stop offset="0.459" stop-color="#440256"/><stop offset="0.475" stop-color="#450559"/><stop offset="0.492" stop-color="#471063"/><stop offset="0.508" stop-color="#481c6e"/><stop offset="0.525" stop-color="#472a7a"/><stop offset="0.541" stop-color="#453882"/><stop offset="0.557" stop-color="#3f4788"/><stop offset="0.574" stop-color="#39558c"/><stop offset="0.590" stop-color="#33638d"/><stop offset="0.607" stop-color="#2d708e"/><stop offset="0.623" stop-color="#287c8e"/><stop offset="0.639" stop-color="#23898e"/><stop offset="0.656" stop-color="#1f948c"/><stop offset="0.672" stop-color="#1fa188"/><stop offset="0.689" stop-color="#25ac82"/><stop offset="0.705" stop-color="#32b67a"/><stop offset="0.721" stop-color="#44bf70"/><stop offset="0.738" stop-color="#56c667"/><stop offset="0.754" stop-color="#69cd5b"/><stop offset="0.770" stop-color="#7cd250"/><stop offset="0.787" stop-color="#8bd646"/><stop offset="0.803" stop-color="#98d83e"/><stop offset="0.820" stop-color="#a5db36"/><stop offset="0.836" stop-color="#aadc32"/><stop offset="0.852" stop-color="#b0dd2f"/><stop offset="0.869" stop-color="#b0dd2f"/><stop offset="0.885" stop-color="#addc30"/><stop offset="0.902" stop-color="#a8db34"/><stop offset="0.918" stop-color="#9dd93b"/><stop offset="0.934" stop-color="#90d743"/><stop offset="0.951" stop-color="#81d34d"/><stop offset="0.967" stop-color="#70cf57"/><stop offset="0.984" stop-color="#5cc863"/><stop offset="1.000" stop-color="#4ac16d"/></linearGradient><linearGradient id="cf2" gradientUnits="userSpaceOnUse" x1="297.0" x2="480.0" y1="0" y2="0"><stop offset="0.000" stop-color="#48c16e"/><stop offset="0.016" stop-color="#50c46a"/><stop offset="0.033" stop-color="#56c667"/><stop offset="0.049" stop-color="#58c765"/><stop offset="0.066" stop-color="#5ac864"/><stop offset="0.082" stop-color="#58c765"/><stop offset="0.098" stop-color="#56c667"/><stop offset="0.115" stop-color="#50c46a"/><stop offset="0.131" stop-color="#48c16e"/><stop offset="0.148" stop-color="#3fbc73"/><stop offset="0.164" stop-color="#35b779"/><stop offset="0.180" stop-color="#2db27d"/><stop offset="0.197" stop-color="#25ab82"/><stop offset="0.213" stop-color="#20a386"/><stop offset="0.230" stop-color="#1e9b8a"/><stop offset="0.246" stop-color="#20928c"/><stop offset="0.262" stop-color="#23888e"/><stop offset="0.279" stop-color="#277e8e"/><stop offset="0.295" stop-color="#2c738e"/><stop offset="0.311" stop-color="#30698e"/><stop offset="0.328" stop-color="#355e8d"/><stop offset="0.344" stop-color="#3b518b"/><stop offset="0.361" stop-color="#404588"/><stop offset="0.377" stop-color="#443983"/><stop offset="0.393" stop-color="#472d7b"/><stop offset="0.410" stop-color="#482071"/><stop offset="0.426" stop-color="#481668"/><stop offset="0.443" stop-color="#460b5e"/><stop offset="0.459" stop-color="#440256"/><stop offset="0.475" stop-color="#450559"/><stop offset="0.492" stop-color="#471063"/><stop offset="0.508" stop-color="#481c6e"/><stop offset="0.525" stop-color="#472a7a"/><stop offset="0.541" stop-color="#453882"/><stop offset="0.557" stop-color="#3f4788"/><stop offset="0.574" stop-color="#3a548c"/><stop offset="0.590" stop-color="#33638d"/><stop offset="0.607" stop-color="#2d708e"/><stop offset="0.623" stop-color="#287c8e"/><stop offset="0.639" stop-color="#23898e"/><stop offset="0.656" stop-color="#1f948c"/><stop offset="0.672" stop-color="#1fa188"/><stop offset="0.689" stop-color="#25ac82"/><stop offset="0.705" stop-color="#32b67a"/><stop offset="0.721" stop-color="#44bf70"/><stop offset="0.738" stop-color="#56c667"/><stop offset="0.754" stop-color="#69cd5b"/><stop offset="0.770" stop-color="#7cd250"/><stop offset="0.787" stop-color="#8bd646"/><stop offset="0.803" stop-color="#9bd93c"/><stop offset="0.820" stop-color="#a5db36"/><stop offset="0.836" stop-color="#aadc32"/><stop offset="0.852" stop-color="#b0dd2f"/><stop offset="0.869" stop-color="#b0dd2f"/><stop offset="0.885" stop-color="#addc30"/><stop offset="0.902" stop-color="#a8db34"/><stop offset="0.918" stop-color="#9dd93b"/><stop offset="0.934" stop-color="#90d743"/><stop offset="0.951" stop-color="#81d34d"/><stop offset="0.967" stop-color="#70cf57"/><stop offset="0.984" stop-color="#5cc863"/><stop offset="1.000" stop-color="#4ac16d"/></linearGradient><linearGradient id="cf3" gradientUnits="userSpaceOnUse" x1="297.0" x2="480.0" y1="0" y2="0"><stop offset="0.000" stop-color="#4cc26c"/><stop offset="0.016" stop-color="#54c568"/><stop offset="0.033" stop-color="#5ac864"/><stop offset="0.049" stop-color="#5ec962"/><stop offset="0.066" stop-color="#5ec962"/><stop offset="0.082" stop-color="#5ec962"/><stop offset="0.098" stop-color="#5ac864"/><stop offset="0.115" stop-color="#56c667"/><stop offset="0.131" stop-color="#4ec36b"/><stop offset="0.148" stop-color="#44bf70"/><stop offset="0.164" stop-color="#3aba76"/><stop offset="0.180" stop-color="#2fb47c"/><stop offset="0.197" stop-color="#27ad81"/><stop offset="0.213" stop-color="#21a585"/><stop offset="0.230" stop-color="#1e9d89"/><stop offset="0.246" stop-color="#1f948c"/><stop offset="0.262" stop-color="#238a8d"/><stop offset="0.279" stop-color="#27808e"/><stop offset="0.295" stop-color="#2b758e"/><stop offset="0.311" stop-color="#2f6b8e"/><stop offset="0.328" stop-color="#34608d"/><stop offset="0.344" stop-color="#3a538b"/><stop offset="0.361" stop-color="#3f4788"/><stop offset="0.377" stop-color="#443a83"/><stop offset="0.393" stop-color="#472e7c"/><stop offset="0.410" stop-color="#482173"/><stop offset="0.426" stop-color="#481769"/><stop offset="0.443" stop-color="#460b5e"/><stop offset="0.459" stop-color="#450457"/><stop offset="0.475" stop-color="#450559"/><stop offset="0.492" stop-color="#471063"/><stop offset="0.508" stop-color="#481c6e"/><stop offset="0.525" stop-color="#472a7a"/><stop offset="0.541" stop-color="#453882"/><stop offset="0.557" stop-color="#404688"/><stop offset="0.574" stop-color="#3a548c"/><stop offset="0.590" stop-color="#33628d"/><stop offset="0.607" stop-color="#2d708e"/><stop offset="0.623" stop-color="#287c8e"/><stop offset="0.639" stop-color="#23888e"/><stop offset="0.656" stop-color="#1f948c"/><stop offset="0.672" stop-color="#1fa188"/><stop offset="0.689" stop-color="#25ac82"/><stop offset="0.705" stop-color="#32b67a"/><stop offset="0.721" stop-color="#44bf70"/><stop offset="0.738" stop-color="#58c765"/><stop offset="0.754" stop-color="#6ccd5a"/><stop offset="0.770" stop-color="#7cd250"/><stop offset="0.787" stop-color="#8ed645"/><stop offset="0.803" stop-color="#9bd93c"/><stop offset="0.820" stop-color="#a8db34"/><stop offset="0.836" stop-color="#b0dd2f"/><stop offset="0.852" stop-color="#b2dd2d"/><stop offset="0.869" stop-color="#b5de2b"/><stop offset="0.885" stop-color="#b2dd2d"/><stop offset="0.902" stop-color="#aadc32"/><stop offset="0.918" stop-color="#a2da37"/><stop offset="0.934" stop-color="#95d840"/><stop offset="0.951" stop-color="#86d549"/><stop offset="0.967" stop-color="#75d054"/><stop offset="0.984" stop-color="#60ca60"/><stop offset="1.000" stop-color="#4ec36b"/></linearGradient><linearGradient id="cf4" gradientUnits="userSpaceOnUse" x1="297.0" x2="480.0" y1="0" y2="0"><stop offset="0.000" stop-color="#73d056"/><stop offset="0.016" stop-color="#7fd34e"/><stop offset="0.033" stop-color="#89d548"/><stop offset="0.049" stop-color="#90d743"/><stop offset="0.066" stop-color="#93d741"/><stop offset="0.082" stop-color="#93d741"/><stop offset="0.098" stop-color="#90d743"/><stop offset="0.115" stop-color="#8bd646"/><stop offset="0.131" stop-color="#84d44b"/><stop offset="0.148" stop-color="#77d153"/><stop offset="0.164" stop-color="#6ccd5a"/><stop offset="0.180" stop-color="#5cc863"/><stop offset="0.197" stop-color="#4cc26c"/><stop offset="0.213" stop-color="#3bbb75"/><stop offset="0.230" stop-color="#2eb37c"/><stop offset="0.246" stop-color="#23a983"/><stop offset="0.262" stop-color="#1f9f88"/><stop offset="0.279" stop-color="#1f948c"/><stop offset="0.295" stop-color="#23898e"/><stop offset="0.311" stop-color="#287d8e"/><stop offset="0.328" stop-color="#2c718e"/><stop offset="0.344" stop-color="#32658e"/><stop offset="0.361" stop-color="#38598c"/><stop offset="0.377" stop-color="#3e4c8a"/><stop offset="0.393" stop-color="#433e85"/><stop offset="0.410" stop-color="#46307e"/><stop offset="0.426" stop-color="#482475"/><stop offset="0.443" stop-color="#48186a"/><stop offset="0.459" stop-color="#470d60"/><stop offset="0.475" stop-color="#46075a"/><stop offset="0.492" stop-color="#470d60"/><stop offset="0.508" stop-color="#48186a"/><stop offset="0.525" stop-color="#482576"/><stop offset="0.541" stop-color="#463480"/><stop offset="0.557" stop-color="#414287"/><stop offset="0.574" stop-color="#3b518b"/><stop offset="0.590" stop-color="#355f8d"/><stop offset="0.607" stop-color="#2e6d8e"/><stop offset="0.623" stop-color="#297a8e"/><stop offset="0.639" stop-color="#24878e"/><stop offset="0.656" stop-color="#1f948c"/><stop offset="0.672" stop-color="#1fa188"/><stop offset="0.689" stop-color="#26ad81"/><stop offset="0.705" stop-color="#35b779"/><stop offset="0.721" stop-color="#4ac16d"/><stop offset="0.738" stop-color="#5ec962"/><stop offset="0.754" stop-color="#75d054"/><stop offset="0.770" stop-color="#8bd646"/><stop offset="0.787" stop-color="#9dd93b"/><stop offset="0.803" stop-color="#b0dd2f"/><stop offset="0.820" stop-color="#bddf26"/><stop offset="0.836" stop-color="#c8e020"/><stop offset="0.852" stop-color="#cde11d"/><stop offset="0.869" stop-color="#d2e21b"/><stop offset="0.885" stop-color="#d0e11c"/><stop offset="0.902" stop-color="#cde11d"/><stop offset="0.918" stop-color="#c5e021"/><stop offset="0.934" stop-color="#bade28"/><stop offset="0.951" stop-color="#aadc32"/><stop offset="0.967" stop-color="#98d83e"/><stop offset="0.984" stop-color="#86d549"/><stop offset="1.000" stop-color="#70cf57"/></linearGradient><linearGradient id="cf5" gradientUnits="userSpaceOnUse" x1="297.0" x2="480.0" y1="0" y2="0"><stop offset="0.000" stop-color="#86d549"/><stop offset="0.016" stop-color="#95d840"/><stop offset="0.033" stop-color="#a0da39"/><stop offset="0.049" stop-color="#a8db34"/><stop offset="0.066" stop-color="#addc30"/><stop offset="0.082" stop-color="#b0dd2f"/><stop offset="0.098" stop-color="#addc30"/><stop offset="0.115" stop-color="#a8db34"/><stop offset="0.131" stop-color="#a0da39"/><stop offset="0.148" stop-color="#95d840"/><stop offset="0.164" stop-color="#86d549"/><stop offset="0.180" stop-color="#75d054"/><stop offset="0.197" stop-color="#63cb5f"/><stop offset="0.213" stop-color="#52c569"/><stop offset="0.230" stop-color="#3fbc73"/><stop offset="0.246" stop-color="#2eb37c"/><stop offset="0.262" stop-color="#23a983"/><stop offset="0.279" stop-color="#1f9e89"/><stop offset="0.295" stop-color="#20928c"/><stop offset="0.311" stop-color="#24868e"/><stop offset="0.328" stop-color="#297a8e"/><stop offset="0.344" stop-color="#2e6e8e"/><stop offset="0.361" stop-color="#34618d"/><stop offset="0.377" stop-color="#3a538b"/><stop offset="0.393" stop-color="#404688"/><stop offset="0.410" stop-color="#453882"/><stop offset="0.426" stop-color="#472a7a"/><stop offset="0.443" stop-color="#481d6f"/><stop offset="0.459" stop-color="#471365"/><stop offset="0.475" stop-color="#460a5d"/><stop offset="0.492" stop-color="#470d60"/><stop offset="0.508" stop-color="#481769"/><stop offset="0.525" stop-color="#482475"/><stop offset="0.541" stop-color="#46327e"/><stop offset="0.557" stop-color="#424086"/><stop offset="0.574" stop-color="#3c4f8a"/><stop offset="0.590" stop-color="#355e8d"/><stop offset="0.607" stop-color="#2f6c8e"/><stop offset="0.623" stop-color="#29798e"/><stop offset="0.639" stop-color="#24868e"/><stop offset="0.656" stop-color="#20938c"/><stop offset="0.672" stop-color="#1fa188"/><stop offset="0.689" stop-color="#26ad81"/><stop offset="0.705" stop-color="#37b878"/><stop offset="0.721" stop-color="#4cc26c"/><stop offset="0.738" stop-color="#63cb5f"/><stop offset="0.754" stop-color="#7ad151"/><stop offset="0.770" stop-color="#90d743"/><stop offset="0.787" stop-color="#a5db36"/><stop offset="0.803" stop-color="#b8de29"/><stop offset="0.820" stop-color="#c8e020"/><stop offset="0.836" stop-color="#d2e21b"/><stop offset="0.852" stop-color="#dae319"/><stop offset="0.869" stop-color="#dde318"/><stop offset="0.885" stop-color="#dfe318"/><stop offset="0.902" stop-color="#dde318"/><stop offset="0.918" stop-color="#d5e21a"/><stop offset="0.934" stop-color="#cae11f"/><stop offset="0.951" stop-color="#bddf26"/><stop offset="0.967" stop-color="#aadc32"/><stop offset="0.984" stop-color="#98d83e"/><stop offset="1.000" stop-color="#81d34d"/></linearGradient><linearGradient id="cf6" gradientUnits="userSpaceOnUse" x1="297.0" x2="480.0" y1="0" y2="0"><stop offset="0.000" stop-color="#89d548"/><stop offset="0.016" stop-color="#98d83e"/><stop offset="0.033" stop-color="#a2da37"/><stop offset="0.049" stop-color="#addc30"/><stop offset="0.066" stop-color="#b2dd2d"/><stop offset="0.082" stop-color="#b2dd2d"/><stop offset="0.098" stop-color="#b2dd2d"/><stop offset="0.115" stop-color="#addc30"/><stop offset="0.131" stop-color="#a5db36"/><stop offset="0.148" stop-color="#98d83e"/><stop offset="0.164" stop-color="#8bd646"/><stop offset="0.180" stop-color="#7ad151"/><stop offset="0.197" stop-color="#67cc5c"/><stop offset="0.213" stop-color="#54c568"/><stop offset="0.230" stop-color="#42be71"/><stop offset="0.246" stop-color="#31b57b"/><stop offset="0.262" stop-color="#25ab82"/><stop offset="0.279" stop-color="#1fa088"/><stop offset="0.295" stop-color="#20938c"/><stop offset="0.311" stop-color="#23888e"/><stop offset="0.328" stop-color="#287c8e"/><stop offset="0.344" stop-color="#2d708e"/><stop offset="0.361" stop-color="#33628d"/><stop offset="0.377" stop-color="#39558c"/><stop offset="0.393" stop-color="#3f4788"/><stop offset="0.410" stop-color="#443983"/><stop offset="0.426" stop-color="#472c7a"/><stop offset="0.443" stop-color="#481f70"/><stop offset="0.459" stop-color="#481467"/><stop offset="0.475" stop-color="#460a5d"/><stop offset="0.492" stop-color="#470d60"/><stop offset="0.508" stop-color="#481769"/><stop offset="0.525" stop-color="#482475"/><stop offset="0.541" stop-color="#46327e"/><stop offset="0.557" stop-color="#424086"/><stop offset="0.574" stop-color="#3c4f8a"/><stop offset="0.590" stop-color="#355e8d"/><stop offset="0.607" stop-color="#2f6c8e"/><stop offset="0.623" stop-color="#29798e"/><stop offset="0.639" stop-color="#24868e"/><stop offset="0.656" stop-color="#20938c"/><stop offset="0.672" stop-color="#1fa088"/><stop offset="0.689" stop-color="#26ad81"/><stop offset="0.705" stop-color="#35b779"/><stop offset="0.721" stop-color="#4ac16d"/><stop offset="0.738" stop-color="#63cb5f"/><stop offset="0.754" stop-color="#7ad151"/><stop offset="0.770" stop-color="#90d743"/><stop offset="0.787" stop-color="#a5db36"/><stop offset="0.803" stop-color="#b8de29"/><stop offset="0.820" stop-color="#c8e020"/><stop offset="0.836" stop-color="#d2e21b"/><stop offset="0.852" stop-color="#dae319"/><stop offset="0.869" stop-color="#dfe318"/><stop offset="0.885" stop-color="#dfe318"/><stop offset="0.902" stop-color="#dde318"/><stop offset="0.918" stop-color="#d8e219"/><stop offset="0.934" stop-color="#cde11d"/><stop offset="0.951" stop-color="#c0df25"/><stop offset="0.967" stop-color="#addc30"/><stop offset="0.984" stop-color="#9bd93c"/><stop offset="1.000" stop-color="#84d44b"/></linearGradient><linearGradient id="cf7" gradientUnits="userSpaceOnUse" x1="297.0" x2="480.0" y1="0" y2="0"><stop offset="0.000" stop-color="#9dd93b"/><stop offset="0.016" stop-color="#addc30"/><stop offset="0.033" stop-color="#bddf26"/><stop offset="0.049" stop-color="#c8e020"/><stop offset="0.066" stop-color="#d0e11c"/><stop offset="0.082" stop-color="#d2e21b"/><stop offset="0.098" stop-color="#d2e21b"/><stop offset="0.115" stop-color="#d0e11c"/><stop offset="0.131" stop-color="#c8e020"/><stop offset="0.148" stop-color="#bddf26"/><stop offset="0.164" stop-color="#b0dd2f"/><stop offset="0.180" stop-color="#a0da39"/><stop offset="0.197" stop-color="#8ed645"/><stop offset="0.213" stop-color="#77d153"/><stop offset="0.230" stop-color="#63cb5f"/><stop offset="0.246" stop-color="#4cc26c"/><stop offset="0.262" stop-color="#38b977"/><stop offset="0.279" stop-color="#28ae80"/><stop offset="0.295" stop-color="#1fa287"/><stop offset="0.311" stop-color="#1f968b"/><stop offset="0.328" stop-color="#238a8d"/><stop offset="0.344" stop-color="#287d8e"/><stop offset="0.361" stop-color="#2d718e"/><stop offset="0.377" stop-color="#33638d"/><stop offset="0.393" stop-color="#39558c"/><stop offset="0.410" stop-color="#3f4889"/><stop offset="0.426" stop-color="#443a83"/><stop offset="0.443" stop-color="#472d7b"/><stop offset="0.459" stop-color="#482071"/><stop offset="0.475" stop-color="#481668"/><stop offset="0.492" stop-color="#471063"/><stop offset="0.508" stop-color="#48186a"/><stop offset="0.525" stop-color="#482374"/><stop offset="0.541" stop-color="#472f7d"/><stop offset="0.557" stop-color="#433e85"/><stop offset="0.574" stop-color="#3e4c8a"/><stop offset="0.590" stop-color="#375a8c"/><stop offset="0.607" stop-color="#31688e"/><stop offset="0.623" stop-color="#2b758e"/><stop offset="0.639" stop-color="#26828e"/><stop offset="0.656" stop-color="#21908d"/><stop offset="0.672" stop-color="#1e9d89"/><stop offset="0.689" stop-color="#23a983"/><stop offset="0.705" stop-color="#31b57b"/><stop offset="0.721" stop-color="#44bf70"/><stop offset="0.738" stop-color="#5cc863"/><stop offset="0.754" stop-color="#73d056"/><stop offset="0.770" stop-color="#8bd646"/><stop offset="0.787" stop-color="#a2da37"/><stop offset="0.803" stop-color="#b5de2b"/><stop offset="0.820" stop-color="#c5e021"/><stop offset="0.836" stop-color="#d2e21b"/><stop offset="0.852" stop-color="#dde318"/><stop offset="0.869" stop-color="#e5e419"/><stop offset="0.885" stop-color="#e7e419"/><stop offset="0.902" stop-color="#e5e419"/><stop offset="0.918" stop-color="#e2e418"/><stop offset="0.934" stop-color="#d8e219"/><stop offset="0.951" stop-color="#cde11d"/><stop offset="0.967" stop-color="#bddf26"/><stop offset="0.984" stop-color="#aadc32"/><stop offset="1.000" stop-color="#95d840"/></linearGradient><linearGradient id="cf8" gradientUnits="userSpaceOnUse" x1="297.0" x2="480.0" y1="0" y2="0"><stop offset="0.000" stop-color="#aadc32"/><stop offset="0.016" stop-color="#bddf26"/><stop offset="0.033" stop-color="#cde11d"/><stop offset="0.049" stop-color="#dae319"/><stop offset="0.066" stop-color="#e2e418"/><stop offset="0.082" stop-color="#e7e419"/><stop offset="0.098" stop-color="#eae51a"/><stop offset="0.115" stop-color="#e7e419"/><stop offset="0.131" stop-color="#e2e418"/><stop offset="0.148" stop-color="#dae319"/><stop offset="0.164" stop-color="#cde11d"/><stop offset="0.180" stop-color="#bddf26"/><stop offset="0.197" stop-color="#aadc32"/><stop offset="0.213" stop-color="#95d840"/><stop offset="0.230" stop-color="#7cd250"/><stop offset="0.246" stop-color="#65cb5e"/><stop offset="0.262" stop-color="#4ec36b"/><stop offset="0.279" stop-color="#38b977"/><stop offset="0.295" stop-color="#27ad81"/><stop offset="0.311" stop-color="#1fa187"/><stop offset="0.328" stop-color="#1f948c"/><stop offset="0.344" stop-color="#23888e"/><stop offset="0.361" stop-color="#297b8e"/><stop offset="0.377" stop-color="#2e6e8e"/><stop offset="0.393" stop-color="#34608d"/><stop offset="0.410" stop-color="#3b528b"/><stop offset="0.426" stop-color="#404588"/><stop offset="0.443" stop-color="#453781"/><stop offset="0.459" stop-color="#472a7a"/><stop offset="0.475" stop-color="#481f70"/><stop offset="0.492" stop-color="#481668"/><stop offset="0.508" stop-color="#481a6c"/><stop offset="0.525" stop-color="#482374"/><stop offset="0.541" stop-color="#472f7d"/><stop offset="0.557" stop-color="#433d84"/><stop offset="0.574" stop-color="#3e4a89"/><stop offset="0.590" stop-color="#38588c"/><stop offset="0.607" stop-color="#31668e"/><stop offset="0.623" stop-color="#2c728e"/><stop offset="0.639" stop-color="#27808e"/><stop offset="0.656" stop-color="#228d8d"/><stop offset="0.672" stop-color="#1f9a8a"/><stop offset="0.689" stop-color="#21a685"/><stop offset="0.705" stop-color="#2db27d"/><stop offset="0.721" stop-color="#40bd72"/><stop offset="0.738" stop-color="#56c667"/><stop offset="0.754" stop-color="#6ece58"/><stop offset="0.770" stop-color="#86d549"/><stop offset="0.787" stop-color="#9dd93b"/><stop offset="0.803" stop-color="#b2dd2d"/><stop offset="0.820" stop-color="#c5e021"/><stop offset="0.836" stop-color="#d2e21b"/><stop offset="0.852" stop-color="#dfe318"/><stop offset="0.869" stop-color="#e7e419"/><stop offset="0.885" stop-color="#eae51a"/><stop offset="0.902" stop-color="#eae51a"/><stop offset="0.918" stop-color="#e7e419"/><stop offset="0.934" stop-color="#e2e418"/><stop offset="0.951" stop-color="#d8e219"/><stop offset="0.967" stop-color="#cae11f"/><stop offset="0.984" stop-color="#b8de29"/><stop offset="1.000" stop-color="#a5db36"/></linearGradient><linearGradient id="cf9" gradientUnits="userSpaceOnUse" x1="297.0" x2="480.0" y1="0" y2="0"><stop offset="0.000" stop-color="#addc30"/><stop offset="0.016" stop-color="#c0df25"/><stop offset="0.033" stop-color="#d0e11c"/><stop offset="0.049" stop-color="#dae319"/><stop offset="0.066" stop-color="#e5e419"/><stop offset="0.082" stop-color="#eae51a"/><stop offset="0.098" stop-color="#eae51a"/><stop offset="0.115" stop-color="#eae51a"/><stop offset="0.131" stop-color="#e5e419"/><stop offset="0.148" stop-color="#dae319"/><stop offset="0.164" stop-color="#d0e11c"/><stop offset="0.180" stop-color="#c0df25"/><stop offset="0.197" stop-color="#addc30"/><stop offset="0.213" stop-color="#95d840"/><stop offset="0.230" stop-color="#7fd34e"/><stop offset="0.246" stop-color="#67cc5c"/><stop offset="0.262" stop-color="#4ec36b"/><stop offset="0.279" stop-color="#38b977"/><stop offset="0.295" stop-color="#28ae80"/><stop offset="0.311" stop-color="#1fa287"/><stop offset="0.328" stop-color="#1f958b"/><stop offset="0.344" stop-color="#23888e"/><stop offset="0.361" stop-color="#297b8e"/><stop offset="0.377" stop-color="#2e6f8e"/><stop offset="0.393" stop-color="#34618d"/><stop offset="0.410" stop-color="#3a538b"/><stop offset="0.426" stop-color="#404588"/><stop offset="0.443" stop-color="#453882"/><stop offset="0.459" stop-color="#472a7a"/><stop offset="0.475" stop-color="#481f70"/><stop offset="0.492" stop-color="#481769"/><stop offset="0.508" stop-color="#481a6c"/><stop offset="0.525" stop-color="#482374"/><stop offset="0.541" stop-color="#472f7d"/><stop offset="0.557" stop-color="#443b84"/><stop offset="0.574" stop-color="#3e4989"/><stop offset="0.590" stop-color="#38588c"/><stop offset="0.607" stop-color="#32658e"/><stop offset="0.623" stop-color="#2c728e"/><stop offset="0.639" stop-color="#27808e"/><stop offset="0.656" stop-color="#228d8d"/><stop offset="0.672" stop-color="#1f9a8a"/><stop offset="0.689" stop-color="#21a685"/><stop offset="0.705" stop-color="#2db27d"/><stop offset="0.721" stop-color="#40bd72"/><stop offset="0.738" stop-color="#56c667"/><stop offset="0.754" stop-color="#6ece58"/><stop offset="0.770" stop-color="#86d549"/><stop offset="0.787" stop-color="#9dd93b"/><stop offset="0.803" stop-color="#b2dd2d"/><stop offset="0.820" stop-color="#c5e021"/><stop offset="0.836" stop-color="#d2e21b"/><stop offset="0.852" stop-color="#dfe318"/><stop offset="0.869" stop-color="#e7e419"/><stop offset="0.885" stop-color="#eae51a"/><stop offset="0.902" stop-color="#eae51a"/><stop offset="0.918" stop-color="#e7e419"/><stop offset="0.934" stop-color="#e2e418"/><stop offset="0.951" stop-color="#d8e219"/><stop offset="0.967" stop-color="#cae11f"/><stop offset="0.984" stop-color="#bade28"/><stop offset="1.000" stop-color="#a5db36"/></linearGradient><linearGradient id="cf10" gradientUnits="userSpaceOnUse" x1="297.0" x2="480.0" y1="0" y2="0"><stop offset="0.000" stop-color="#addc30"/><stop offset="0.016" stop-color="#c0df25"/><stop offset="0.033" stop-color="#d0e11c"/><stop offset="0.049" stop-color="#dae319"/><stop offset="0.066" stop-color="#e5e419"/><stop offset="0.082" stop-color="#eae51a"/><stop offset="0.098" stop-color="#eae51a"/><stop offset="0.115" stop-color="#eae51a"/><stop offset="0.131" stop-color="#e5e419"/><stop offset="0.148" stop-color="#dae319"/><stop offset="0.164" stop-color="#d0e11c"/><stop offset="0.180" stop-color="#c0df25"/><stop offset="0.197" stop-color="#addc30"/><stop offset="0.213" stop-color="#95d840"/><stop offset="0.230" stop-color="#7fd34e"/><stop offset="0.246" stop-color="#67cc5c"/><stop offset="0.262" stop-color="#4ec36b"/><stop offset="0.279" stop-color="#38b977"/><stop offset="0.295" stop-color="#28ae80"/><stop offset="0.311" stop-color="#1fa287"/><stop offset="0.328" stop-color="#1f958b"/><stop offset="0.344" stop-color="#23888e"/><stop offset="0.361" stop-color="#297b8e"/><stop offset="0.377" stop-color="#2e6f8e"/><stop offset="0.393" stop-color="#34618d"/><stop offset="0.410" stop-color="#3a538b"/><stop offset="0.426" stop-color="#404588"/><stop offset="0.443" stop-color="#453882"/><stop offset="0.459" stop-color="#472a7a"/><stop offset="0.475" stop-color="#481f70"/><stop offset="0.492" stop-color="#481769"/><stop offset="0.508" stop-color="#481a6c"/><stop offset="0.525" stop-color="#482374"/><stop offset="0.541" stop-color="#472f7d"/><stop offset="0.557" stop-color="#443b84"/><stop offset="0.574" stop-color="#3e4989"/><stop offset="0.590" stop-color="#38588c"/><stop offset="0.607" stop-color="#32658e"/><stop offset="0.623" stop-color="#2c728e"/><stop offset="0.639" stop-color="#27808e"/><stop offset="0.656" stop-color="#228d8d"/><stop offset="0.672" stop-color="#1f9a8a"/><stop offset="0.689" stop-color="#21a685"/><stop offset="0.705" stop-color="#2db27d"/><stop offset="0.721" stop-color="#3fbc73"/><stop offset="0.738" stop-color="#56c667"/><stop offset="0.754" stop-color="#6ece58"/><stop offset="0.770" stop-color="#86d549"/><stop offset="0.787" stop-color="#9dd93b"/><stop offset="0.803" stop-color="#b2dd2d"/><stop offset="0.820" stop-color="#c5e021"/><stop offset="0.836" stop-color="#d2e21b"/><stop offset="0.852" stop-color="#dfe318"/><stop offset="0.869" stop-color="#e7e419"/><stop offset="0.885" stop-color="#eae51a"/><stop offset="0.902" stop-color="#eae51a"/><stop offset="0.918" stop-color="#e7e419"/><stop offset="0.934" stop-color="#e2e418"/><stop offset="0.951" stop-color="#d8e219"/><stop offset="0.967" stop-color="#cae11f"/><stop offset="0.984" stop-color="#bade28"/><stop offset="1.000" stop-color="#a5db36"/></linearGradient><linearGradient id="cf11" gradientUnits="userSpaceOnUse" x1="297.0" x2="480.0" y1="0" y2="0"><stop offset="0.000" stop-color="#addc30"/><stop offset="0.016" stop-color="#c0df25"/><stop offset="0.033" stop-color="#d0e11c"/><stop offset="0.049" stop-color="#dae319"/><stop offset="0.066" stop-color="#e5e419"/><stop offset="0.082" stop-color="#eae51a"/><stop offset="0.098" stop-color="#eae51a"/><stop offset="0.115" stop-color="#eae51a"/><stop offset="0.131" stop-color="#e5e419"/><stop offset="0.148" stop-color="#dae319"/><stop offset="0.164" stop-color="#d0e11c"/><stop offset="0.180" stop-color="#c0df25"/><stop offset="0.197" stop-color="#addc30"/><stop offset="0.213" stop-color="#95d840"/><stop offset="0.230" stop-color="#7fd34e"/><stop offset="0.246" stop-color="#67cc5c"/><stop offset="0.262" stop-color="#4ec36b"/><stop offset="0.279" stop-color="#38b977"/><stop offset="0.295" stop-color="#28ae80"/><stop offset="0.311" stop-color="#1fa287"/><stop offset="0.328" stop-color="#1f958b"/><stop offset="0.344" stop-color="#23888e"/><stop offset="0.361" stop-color="#297b8e"/><stop offset="0.377" stop-color="#2e6f8e"/><stop offset="0.393" stop-color="#34618d"/><stop offset="0.410" stop-color="#3a538b"/><stop offset="0.426" stop-color="#404588"/><stop offset="0.443" stop-color="#453882"/><stop offset="0.459" stop-color="#472a7a"/><stop offset="0.475" stop-color="#481f70"/><stop offset="0.492" stop-color="#481769"/><stop offset="0.508" stop-color="#481a6c"/><stop offset="0.525" stop-color="#482374"/><stop offset="0.541" stop-color="#472f7d"/><stop offset="0.557" stop-color="#443b84"/><stop offset="0.574" stop-color="#3e4989"/><stop offset="0.590" stop-color="#38588c"/><stop offset="0.607" stop-color="#32658e"/><stop offset="0.623" stop-color="#2c728e"/><stop offset="0.639" stop-color="#27808e"/><stop offset="0.656" stop-color="#228d8d"/><stop offset="0.672" stop-color="#1f9a8a"/><stop offset="0.689" stop-color="#21a685"/><stop offset="0.705" stop-color="#2db27d"/><stop offset="0.721" stop-color="#3fbc73"/><stop offset="0.738" stop-color="#56c667"/><stop offset="0.754" stop-color="#6ece58"/><stop offset="0.770" stop-color="#86d549"/><stop offset="0.787" stop-color="#9dd93b"/><stop offset="0.803" stop-color="#b2dd2d"/><stop offset="0.820" stop-color="#c5e021"/><stop offset="0.836" stop-color="#d2e21b"/><stop offset="0.852" stop-color="#dfe318"/><stop offset="0.869" stop-color="#e7e419"/><stop offset="0.885" stop-color="#eae51a"/><stop offset="0.902" stop-color="#eae51a"/><stop offset="0.918" stop-color="#e7e419"/><stop offset="0.934" stop-color="#e2e418"/><stop offset="0.951" stop-color="#d8e219"/><stop offset="0.967" stop-color="#cae11f"/><stop offset="0.984" stop-color="#bade28"/><stop offset="1.000" stop-color="#a5db36"/></linearGradient><linearGradient id="cf12" gradientUnits="userSpaceOnUse" x1="297.0" x2="480.0" y1="0" y2="0"><stop offset="0.000" stop-color="#aadc32"/><stop offset="0.016" stop-color="#bddf26"/><stop offset="0.033" stop-color="#cde11d"/><stop offset="0.049" stop-color="#dae319"/><stop offset="0.066" stop-color="#e2e418"/><stop offset="0.082" stop-color="#eae51a"/><stop offset="0.098" stop-color="#eae51a"/><stop offset="0.115" stop-color="#eae51a"/><stop offset="0.131" stop-color="#e5e419"/><stop offset="0.148" stop-color="#dde318"/><stop offset="0.164" stop-color="#d0e11c"/><stop offset="0.180" stop-color="#c0df25"/><stop offset="0.197" stop-color="#addc30"/><stop offset="0.213" stop-color="#98d83e"/><stop offset="0.230" stop-color="#81d34d"/><stop offset="0.246" stop-color="#69cd5b"/><stop offset="0.262" stop-color="#52c569"/><stop offset="0.279" stop-color="#3bbb75"/><stop offset="0.295" stop-color="#29af7f"/><stop offset="0.311" stop-color="#20a386"/><stop offset="0.328" stop-color="#1f968b"/><stop offset="0.344" stop-color="#238a8d"/><stop offset="0.361" stop-color="#287d8e"/><stop offset="0.377" stop-color="#2d708e"/><stop offset="0.393" stop-color="#33628d"/><stop offset="0.410" stop-color="#3a548c"/><stop offset="0.426" stop-color="#3f4788"/><stop offset="0.443" stop-color="#443983"/><stop offset="0.459" stop-color="#472c7a"/><stop offset="0.475" stop-color="#482071"/><stop offset="0.492" stop-color="#481769"/><stop offset="0.508" stop-color="#48186a"/><stop offset="0.525" stop-color="#482173"/><stop offset="0.541" stop-color="#472d7b"/><stop offset="0.557" stop-color="#443a83"/><stop offset="0.574" stop-color="#3f4889"/><stop offset="0.590" stop-color="#39568c"/><stop offset="0.607" stop-color="#32648e"/><stop offset="0.623" stop-color="#2c718e"/><stop offset="0.639" stop-color="#277f8e"/><stop offset="0.656" stop-color="#228c8d"/><stop offset="0.672" stop-color="#1f988b"/><stop offset="0.689" stop-color="#21a585"/><stop offset="0.705" stop-color="#2cb17e"/><stop offset="0.721" stop-color="#3dbc74"/><stop offset="0.738" stop-color="#54c568"/><stop offset="0.754" stop-color="#6ccd5a"/><stop offset="0.770" stop-color="#84d44b"/><stop offset="0.787" stop-color="#9bd93c"/><stop offset="0.803" stop-color="#b0dd2f"/><stop offset="0.820" stop-color="#c2df23"/><stop offset="0.836" stop-color="#d2e21b"/><stop offset="0.852" stop-color="#dde318"/><stop offset="0.869" stop-color="#e5e419"/><stop offset="0.885" stop-color="#eae51a"/><stop offset="0.902" stop-color="#eae51a"/><stop offset="0.918" stop-color="#e7e419"/><stop offset="0.934" stop-color="#e2e418"/><stop offset="0.951" stop-color="#d8e219"/><stop offset="0.967" stop-color="#cae11f"/><stop offset="0.984" stop-color="#bade28"/><stop offset="1.000" stop-color="#a8db34"/></linearGradient><linearGradient id="cf13" gradientUnits="userSpaceOnUse" x1="297.0" x2="480.0" y1="0" y2="0"><stop offset="0.000" stop-color="#a5db36"/><stop offset="0.016" stop-color="#bade28"/><stop offset="0.033" stop-color="#cae11f"/><stop offset="0.049" stop-color="#d8e219"/><stop offset="0.066" stop-color="#e2e418"/><stop offset="0.082" stop-color="#e7e419"/><stop offset="0.098" stop-color="#eae51a"/><stop offset="0.115" stop-color="#eae51a"/><stop offset="0.131" stop-color="#e7e419"/><stop offset="0.148" stop-color="#dfe318"/><stop offset="0.164" stop-color="#d2e21b"/><stop offset="0.180" stop-color="#c5e021"/><stop offset="0.197" stop-color="#b2dd2d"/><stop offset="0.213" stop-color="#9dd93b"/><stop offset="0.230" stop-color="#86d549"/><stop offset="0.246" stop-color="#6ece58"/><stop offset="0.262" stop-color="#56c667"/><stop offset="0.279" stop-color="#3fbc73"/><stop offset="0.295" stop-color="#2db27d"/><stop offset="0.311" stop-color="#21a685"/><stop offset="0.328" stop-color="#1f998a"/><stop offset="0.344" stop-color="#228c8d"/><stop offset="0.361" stop-color="#27808e"/><stop offset="0.377" stop-color="#2c728e"/><stop offset="0.393" stop-color="#32658e"/><stop offset="0.410" stop-color="#38588c"/><stop offset="0.426" stop-color="#3e4989"/><stop offset="0.443" stop-color="#443b84"/><stop offset="0.459" stop-color="#472e7c"/><stop offset="0.475" stop-color="#482374"/><stop offset="0.492" stop-color="#48186a"/><stop offset="0.508" stop-color="#481769"/><stop offset="0.525" stop-color="#482071"/><stop offset="0.541" stop-color="#472a7a"/><stop offset="0.557" stop-color="#453882"/><stop offset="0.574" stop-color="#404688"/><stop offset="0.590" stop-color="#3a538b"/><stop offset="0.607" stop-color="#34618d"/><stop offset="0.623" stop-color="#2e6f8e"/><stop offset="0.639" stop-color="#287c8e"/><stop offset="0.656" stop-color="#23898e"/><stop offset="0.672" stop-color="#1f968b"/><stop offset="0.689" stop-color="#1fa287"/><stop offset="0.705" stop-color="#28ae80"/><stop offset="0.721" stop-color="#3aba76"/><stop offset="0.738" stop-color="#50c46a"/><stop offset="0.754" stop-color="#67cc5c"/><stop offset="0.770" stop-color="#7fd34e"/><stop offset="0.787" stop-color="#98d83e"/><stop offset="0.803" stop-color="#addc30"/><stop offset="0.820" stop-color="#c0df25"/><stop offset="0.836" stop-color="#d0e11c"/><stop offset="0.852" stop-color="#dde318"/><stop offset="0.869" stop-color="#e5e419"/><stop offset="0.885" stop-color="#eae51a"/><stop offset="0.902" stop-color="#eae51a"/><stop offset="0.918" stop-color="#eae51a"/><stop offset="0.934" stop-color="#e5e419"/><stop offset="0.951" stop-color="#dae319"/><stop offset="0.967" stop-color="#d0e11c"/><stop offset="0.984" stop-color="#c0df25"/><stop offset="1.000" stop-color="#aadc32"/></linearGradient><linearGradient id="cf14" gradientUnits="userSpaceOnUse" x1="297.0" x2="480.0" y1="0" y2="0"><stop offset="0.000" stop-color="#a2da37"/><stop offset="0.016" stop-color="#b5de2b"/><stop offset="0.033" stop-color="#c8e020"/><stop offset="0.049" stop-color="#d5e21a"/><stop offset="0.066" stop-color="#dfe318"/><stop offset="0.082" stop-color="#e7e419"/><stop offset="0.098" stop-color="#eae51a"/><stop offset="0.115" stop-color="#eae51a"/><stop offset="0.131" stop-color="#e7e419"/><stop offset="0.148" stop-color="#dfe318"/><stop offset="0.164" stop-color="#d5e21a"/><stop offset="0.180" stop-color="#c8e020"/><stop offset="0.197" stop-color="#b5de2b"/><stop offset="0.213" stop-color="#a2da37"/><stop offset="0.230" stop-color="#8bd646"/><stop offset="0.246" stop-color="#73d056"/><stop offset="0.262" stop-color="#5ac864"/><stop offset="0.279" stop-color="#44bf70"/><stop offset="0.295" stop-color="#2fb47c"/><stop offset="0.311" stop-color="#22a884"/><stop offset="0.328" stop-color="#1e9c89"/><stop offset="0.344" stop-color="#218f8d"/><stop offset="0.361" stop-color="#26828e"/><stop offset="0.377" stop-color="#2b748e"/><stop offset="0.393" stop-color="#31688e"/><stop offset="0.410" stop-color="#375a8c"/><stop offset="0.426" stop-color="#3e4c8a"/><stop offset="0.443" stop-color="#433e85"/><stop offset="0.459" stop-color="#46307e"/><stop offset="0.475" stop-color="#482475"/><stop offset="0.492" stop-color="#481b6d"/><stop offset="0.508" stop-color="#481668"/><stop offset="0.525" stop-color="#481d6f"/><stop offset="0.541" stop-color="#482979"/><stop offset="0.557" stop-color="#453581"/><stop offset="0.574" stop-color="#414287"/><stop offset="0.590" stop-color="#3b518b"/><stop offset="0.607" stop-color="#355f8d"/><stop offset="0.623" stop-color="#2f6c8e"/><stop offset="0.639" stop-color="#29798e"/><stop offset="0.656" stop-color="#24868e"/><stop offset="0.672" stop-color="#20938c"/><stop offset="0.689" stop-color="#1fa088"/><stop offset="0.705" stop-color="#26ad81"/><stop offset="0.721" stop-color="#35b779"/><stop offset="0.738" stop-color="#4ac16d"/><stop offset="0.754" stop-color="#63cb5f"/><stop offset="0.770" stop-color="#7ad151"/><stop offset="0.787" stop-color="#93d741"/><stop offset="0.803" stop-color="#a8db34"/><stop offset="0.820" stop-color="#bddf26"/><stop offset="0.836" stop-color="#cde11d"/><stop offset="0.852" stop-color="#dae319"/><stop offset="0.869" stop-color="#e2e418"/><stop offset="0.885" stop-color="#eae51a"/><stop offset="0.902" stop-color="#eae51a"/><stop offset="0.918" stop-color="#eae51a"/><stop offset="0.934" stop-color="#e5e419"/><stop offset="0.951" stop-color="#dde318"/><stop offset="0.967" stop-color="#d2e21b"/><stop offset="0.984" stop-color="#c2df23"/><stop offset="1.000" stop-color="#b0dd2f"/></linearGradient><linearGradient id="cf15" gradientUnits="userSpaceOnUse" x1="297.0" x2="480.0" y1="0" y2="0"><stop offset="0.000" stop-color="#9dd93b"/><stop offset="0.016" stop-color="#b2dd2d"/><stop offset="0.033" stop-color="#c5e021"/><stop offset="0.049" stop-color="#d2e21b"/><stop offset="0.066" stop-color="#dfe318"/><stop offset="0.082" stop-color="#e7e419"/><stop offset="0.098" stop-color="#eae51a"/><stop offset="0.115" stop-color="#eae51a"/><stop offset="0.131" stop-color="#e7e419"/><stop offset="0.148" stop-color="#e2e418"/><stop offset="0.164" stop-color="#d8e219"/><stop offset="0.180" stop-color="#cae11f"/><stop offset="0.197" stop-color="#bade28"/><stop offset="0.213" stop-color="#a5db36"/><stop offset="0.230" stop-color="#90d743"/><stop offset="0.246" stop-color="#77d153"/><stop offset="0.262" stop-color="#5ec962"/><stop offset="0.279" stop-color="#48c16e"/><stop offset="0.295" stop-color="#34b679"/><stop offset="0.311" stop-color="#25ab82"/><stop offset="0.328" stop-color="#1f9f88"/><stop offset="0.344" stop-color="#20928c"/><stop offset="0.361" stop-color="#25848e"/><stop offset="0.377" stop-color="#2a778e"/><stop offset="0.393" stop-color="#306a8e"/><stop offset="0.410" stop-color="#365d8d"/><stop offset="0.426" stop-color="#3c4f8a"/><stop offset="0.443" stop-color="#424186"/><stop offset="0.459" stop-color="#46337f"/><stop offset="0.475" stop-color="#482677"/><stop offset="0.492" stop-color="#481c6e"/><stop offset="0.508" stop-color="#481668"/><stop offset="0.525" stop-color="#481c6e"/><stop offset="0.541" stop-color="#482677"/><stop offset="0.557" stop-color="#46337f"/><stop offset="0.574" stop-color="#424086"/><stop offset="0.590" stop-color="#3d4e8a"/><stop offset="0.607" stop-color="#365c8d"/><stop offset="0.623" stop-color="#306a8e"/><stop offset="0.639" stop-color="#2a768e"/><stop offset="0.656" stop-color="#25838e"/><stop offset="0.672" stop-color="#21918c"/><stop offset="0.689" stop-color="#1f9e89"/><stop offset="0.705" stop-color="#24aa83"/><stop offset="0.721" stop-color="#32b67a"/><stop offset="0.738" stop-color="#46c06f"/><stop offset="0.754" stop-color="#5ec962"/><stop offset="0.770" stop-color="#75d054"/><stop offset="0.787" stop-color="#8ed645"/><stop offset="0.803" stop-color="#a5db36"/><stop offset="0.820" stop-color="#b8de29"/><stop offset="0.836" stop-color="#cae11f"/><stop offset="0.852" stop-color="#d8e219"/><stop offset="0.869" stop-color="#e2e418"/><stop offset="0.885" stop-color="#e7e419"/><stop offset="0.902" stop-color="#eae51a"/><stop offset="0.918" stop-color="#eae51a"/><stop offset="0.934" stop-color="#e7e419"/><stop offset="0.951" stop-color="#dfe318"/><stop offset="0.967" stop-color="#d5e21a"/><stop offset="0.984" stop-color="#c5e021"/><stop offset="1.000" stop-color="#b2dd2d"/></linearGradient><linearGradient id="cf16" gradientUnits="userSpaceOnUse" x1="297.0" x2="480.0" y1="0" y2="0"><stop offset="0.000" stop-color="#98d83e"/><stop offset="0.016" stop-color="#addc30"/><stop offset="0.033" stop-color="#c0df25"/><stop offset="0.049" stop-color="#d0e11c"/><stop offset="0.066" stop-color="#dde318"/><stop offset="0.082" stop-color="#e5e419"/><stop offset="0.098" stop-color="#eae51a"/><stop offset="0.115" stop-color="#eae51a"/><stop offset="0.131" stop-color="#eae51a"/><stop offset="0.148" stop-color="#e2e418"/><stop offset="0.164" stop-color="#dae319"/><stop offset="0.180" stop-color="#cde11d"/><stop offset="0.197" stop-color="#bddf26"/><stop offset="0.213" stop-color="#aadc32"/><stop offset="0.230" stop-color="#93d741"/><stop offset="0.246" stop-color="#7cd250"/><stop offset="0.262" stop-color="#65cb5e"/><stop offset="0.279" stop-color="#4cc26c"/><stop offset="0.295" stop-color="#37b878"/><stop offset="0.311" stop-color="#26ad81"/><stop offset="0.328" stop-color="#1fa188"/><stop offset="0.344" stop-color="#1f948c"/><stop offset="0.361" stop-color="#24878e"/><stop offset="0.377" stop-color="#297a8e"/><stop offset="0.393" stop-color="#2e6d8e"/><stop offset="0.410" stop-color="#34608d"/><stop offset="0.426" stop-color="#3b528b"/><stop offset="0.443" stop-color="#414487"/><stop offset="0.459" stop-color="#453781"/><stop offset="0.475" stop-color="#482979"/><stop offset="0.492" stop-color="#481d6f"/><stop offset="0.508" stop-color="#481668"/><stop offset="0.525" stop-color="#481a6c"/><stop offset="0.541" stop-color="#482475"/><stop offset="0.557" stop-color="#46307e"/><stop offset="0.574" stop-color="#433e85"/><stop offset="0.590" stop-color="#3e4c8a"/><stop offset="0.607" stop-color="#38598c"/><stop offset="0.623" stop-color="#31678e"/><stop offset="0.639" stop-color="#2b748e"/><stop offset="0.656" stop-color="#26818e"/><stop offset="0.672" stop-color="#218e8d"/><stop offset="0.689" stop-color="#1e9b8a"/><stop offset="0.705" stop-color="#22a785"/><stop offset="0.721" stop-color="#2eb37c"/><stop offset="0.738" stop-color="#42be71"/><stop offset="0.754" stop-color="#58c765"/><stop offset="0.770" stop-color="#70cf57"/><stop offset="0.787" stop-color="#89d548"/><stop offset="0.803" stop-color="#a0da39"/><stop offset="0.820" stop-color="#b5de2b"/><stop offset="0.836" stop-color="#c5e021"/><stop offset="0.852" stop-color="#d5e21a"/><stop offset="0.869" stop-color="#dfe318"/><stop offset="0.885" stop-color="#e7e419"/><stop offset="0.902" stop-color="#eae51a"/><stop offset="0.918" stop-color="#eae51a"/><stop offset="0.934" stop-color="#e7e419"/><stop offset="0.951" stop-color="#dfe318"/><stop offset="0.967" stop-color="#d8e219"/><stop offset="0.984" stop-color="#c8e020"/><stop offset="1.000" stop-color="#b8de29"/></linearGradient><linearGradient id="cf17" gradientUnits="userSpaceOnUse" x1="297.0" x2="480.0" y1="0" y2="0"><stop offset="0.000" stop-color="#93d741"/><stop offset="0.016" stop-color="#aadc32"/><stop offset="0.033" stop-color="#bddf26"/><stop offset="0.049" stop-color="#cde11d"/><stop offset="0.066" stop-color="#dae319"/><stop offset="0.082" stop-color="#e2e418"/><stop offset="0.098" stop-color="#eae51a"/><stop offset="0.115" stop-color="#eae51a"/><stop offset="0.131" stop-color="#eae51a"/><stop offset="0.148" stop-color="#e5e419"/><stop offset="0.164" stop-color="#dde318"/><stop offset="0.180" stop-color="#d0e11c"/><stop offset="0.197" stop-color="#c0df25"/><stop offset="0.213" stop-color="#addc30"/><stop offset="0.230" stop-color="#98d83e"/><stop offset="0.246" stop-color="#81d34d"/><stop offset="0.262" stop-color="#69cd5b"/><stop offset="0.279" stop-color="#52c569"/><stop offset="0.295" stop-color="#3bbb75"/><stop offset="0.311" stop-color="#29af7f"/><stop offset="0.328" stop-color="#20a386"/><stop offset="0.344" stop-color="#1f968b"/><stop offset="0.361" stop-color="#238a8d"/><stop offset="0.377" stop-color="#287d8e"/><stop offset="0.393" stop-color="#2d708e"/><stop offset="0.410" stop-color="#33628d"/><stop offset="0.426" stop-color="#3a548c"/><stop offset="0.443" stop-color="#3f4788"/><stop offset="0.459" stop-color="#443983"/><stop offset="0.475" stop-color="#472c7a"/><stop offset="0.492" stop-color="#482071"/><stop offset="0.508" stop-color="#481769"/><stop offset="0.525" stop-color="#48186a"/><stop offset="0.541" stop-color="#482173"/><stop offset="0.557" stop-color="#472d7b"/><stop offset="0.574" stop-color="#443a83"/><stop offset="0.590" stop-color="#3f4889"/><stop offset="0.607" stop-color="#39568c"/><stop offset="0.623" stop-color="#32648e"/><stop offset="0.639" stop-color="#2c718e"/><stop offset="0.656" stop-color="#277f8e"/><stop offset="0.672" stop-color="#228c8d"/><stop offset="0.689" stop-color="#1f988b"/><stop offset="0.705" stop-color="#21a585"/><stop offset="0.721" stop-color="#2cb17e"/><stop offset="0.738" stop-color="#3dbc74"/><stop offset="0.754" stop-color="#54c568"/><stop offset="0.770" stop-color="#6ccd5a"/><stop offset="0.787" stop-color="#84d44b"/><stop offset="0.803" stop-color="#9bd93c"/><stop offset="0.820" stop-color="#b0dd2f"/><stop offset="0.836" stop-color="#c2df23"/><stop offset="0.852" stop-color="#d2e21b"/><stop offset="0.869" stop-color="#dde318"/><stop offset="0.885" stop-color="#e5e419"/><stop offset="0.902" stop-color="#eae51a"/><stop offset="0.918" stop-color="#eae51a"/><stop offset="0.934" stop-color="#e7e419"/><stop offset="0.951" stop-color="#e2e418"/><stop offset="0.967" stop-color="#d8e219"/><stop offset="0.984" stop-color="#cae11f"/><stop offset="1.000" stop-color="#bade28"/></linearGradient><linearGradient id="cf18" gradientUnits="userSpaceOnUse" x1="297.0" x2="480.0" y1="0" y2="0"><stop offset="0.000" stop-color="#90d743"/><stop offset="0.016" stop-color="#a5db36"/><stop offset="0.033" stop-color="#bade28"/><stop offset="0.049" stop-color="#cae11f"/><stop offset="0.066" stop-color="#d8e219"/><stop offset="0.082" stop-color="#e2e418"/><stop offset="0.098" stop-color="#e7e419"/><stop offset="0.115" stop-color="#eae51a"/><stop offset="0.131" stop-color="#eae51a"/><stop offset="0.148" stop-color="#e7e419"/><stop offset="0.164" stop-color="#dfe318"/><stop offset="0.180" stop-color="#d2e21b"/><stop offset="0.197" stop-color="#c5e021"/><stop offset="0.213" stop-color="#b2dd2d"/><stop offset="0.230" stop-color="#9dd93b"/><stop offset="0.246" stop-color="#86d549"/><stop offset="0.262" stop-color="#6ece58"/><stop offset="0.279" stop-color="#56c667"/><stop offset="0.295" stop-color="#3fbc73"/><stop offset="0.311" stop-color="#2db27d"/><stop offset="0.328" stop-color="#21a685"/><stop offset="0.344" stop-color="#1f998a"/><stop offset="0.361" stop-color="#228c8d"/><stop offset="0.377" stop-color="#27808e"/><stop offset="0.393" stop-color="#2c728e"/><stop offset="0.410" stop-color="#32658e"/><stop offset="0.426" stop-color="#38588c"/><stop offset="0.443" stop-color="#3e4989"/><stop offset="0.459" stop-color="#443b84"/><stop offset="0.475" stop-color="#472e7c"/><stop offset="0.492" stop-color="#482374"/><stop offset="0.508" stop-color="#48186a"/><stop offset="0.525" stop-color="#481769"/><stop offset="0.541" stop-color="#482071"/><stop offset="0.557" stop-color="#472a7a"/><stop offset="0.574" stop-color="#453882"/><stop offset="0.590" stop-color="#404688"/><stop offset="0.607" stop-color="#3a538b"/><stop offset="0.623" stop-color="#34618d"/><stop offset="0.639" stop-color="#2e6f8e"/><stop offset="0.656" stop-color="#287c8e"/><stop offset="0.672" stop-color="#23898e"/><stop offset="0.689" stop-color="#1f968b"/><stop offset="0.705" stop-color="#1fa287"/><stop offset="0.721" stop-color="#28ae80"/><stop offset="0.738" stop-color="#3aba76"/><stop offset="0.754" stop-color="#50c46a"/><stop offset="0.770" stop-color="#67cc5c"/><stop offset="0.787" stop-color="#7fd34e"/><stop offset="0.803" stop-color="#98d83e"/><stop offset="0.820" stop-color="#addc30"/><stop offset="0.836" stop-color="#c0df25"/><stop offset="0.852" stop-color="#d0e11c"/><stop offset="0.869" stop-color="#dde318"/><stop offset="0.885" stop-color="#e5e419"/><stop offset="0.902" stop-color="#eae51a"/><stop offset="0.918" stop-color="#eae51a"/><stop offset="0.934" stop-color="#eae51a"/><stop offset="0.951" stop-color="#e5e419"/><stop offset="0.967" stop-color="#dae319"/><stop offset="0.984" stop-color="#d0e11c"/><stop offset="1.000" stop-color="#c0df25"/></linearGradient><linearGradient id="cf19" gradientUnits="userSpaceOnUse" x1="297.0" x2="480.0" y1="0" y2="0"><stop offset="0.000" stop-color="#8bd646"/><stop offset="0.016" stop-color="#a2da37"/><stop offset="0.033" stop-color="#b5de2b"/><stop offset="0.049" stop-color="#c8e020"/><stop offset="0.066" stop-color="#d5e21a"/><stop offset="0.082" stop-color="#dfe318"/><stop offset="0.098" stop-color="#e7e419"/><stop offset="0.115" stop-color="#eae51a"/><stop offset="0.131" stop-color="#eae51a"/><stop offset="0.148" stop-color="#e7e419"/><stop offset="0.164" stop-color="#dfe318"/><stop offset="0.180" stop-color="#d5e21a"/><stop offset="0.197" stop-color="#c8e020"/><stop offset="0.213" stop-color="#b5de2b"/><stop offset="0.230" stop-color="#a2da37"/><stop offset="0.246" stop-color="#8bd646"/><stop offset="0.262" stop-color="#73d056"/><stop offset="0.279" stop-color="#5ac864"/><stop offset="0.295" stop-color="#44bf70"/><stop offset="0.311" stop-color="#2fb47c"/><stop offset="0.328" stop-color="#22a884"/><stop offset="0.344" stop-color="#1e9c89"/><stop offset="0.361" stop-color="#218f8d"/><stop offset="0.377" stop-color="#26828e"/><stop offset="0.393" stop-color="#2b748e"/><stop offset="0.410" stop-color="#31688e"/><stop offset="0.426" stop-color="#375a8c"/><stop offset="0.443" stop-color="#3e4c8a"/><stop offset="0.459" stop-color="#433e85"/><stop offset="0.475" stop-color="#46307e"/><stop offset="0.492" stop-color="#482475"/><stop offset="0.508" stop-color="#481b6d"/><stop offset="0.525" stop-color="#481668"/><stop offset="0.541" stop-color="#481d6f"/><stop offset="0.557" stop-color="#482979"/><stop offset="0.574" stop-color="#453581"/><stop offset="0.590" stop-color="#414287"/><stop offset="0.607" stop-color="#3b518b"/><stop offset="0.623" stop-color="#355f8d"/><stop offset="0.639" stop-color="#2f6c8e"/><stop offset="0.656" stop-color="#29798e"/><stop offset="0.672" stop-color="#24868e"/><stop offset="0.689" stop-color="#20938c"/><stop offset="0.705" stop-color="#1fa088"/><stop offset="0.721" stop-color="#26ad81"/><stop offset="0.738" stop-color="#35b779"/><stop offset="0.754" stop-color="#4ac16d"/><stop offset="0.770" stop-color="#63cb5f"/><stop offset="0.787" stop-color="#7ad151"/><stop offset="0.803" stop-color="#93d741"/><stop offset="0.820" stop-color="#a8db34"/><stop offset="0.836" stop-color="#bddf26"/><stop offset="0.852" stop-color="#cde11d"/><stop offset="0.869" stop-color="#dae319"/><stop offset="0.885" stop-color="#e2e418"/><stop offset="0.902" stop-color="#eae51a"/><stop offset="0.918" stop-color="#eae51a"/><stop offset="0.934" stop-color="#eae51a"/><stop offset="0.951" stop-color="#e5e419"/><stop offset="0.967" stop-color="#dde318"/><stop offset="0.984" stop-color="#d2e21b"/><stop offset="1.000" stop-color="#c2df23"/></linearGradient></defs>
<g clip-path="url(#cf)"><g filter="url(#blur)"><rect x="297.0" y="230.0" width="183.0" height="2.10" fill="url(#cf0)"/><rect x="297.0" y="232.0" width="183.0" height="2.10" fill="url(#cf1)"/><rect x="297.0" y="234.0" width="183.0" height="2.10" fill="url(#cf2)"/><rect x="297.0" y="236.0" width="183.0" height="2.10" fill="url(#cf3)"/><rect x="297.0" y="238.0" width="183.0" height="2.10" fill="url(#cf4)"/><rect x="297.0" y="240.0" width="183.0" height="2.10" fill="url(#cf5)"/><rect x="297.0" y="242.0" width="183.0" height="2.10" fill="url(#cf6)"/><rect x="297.0" y="244.0" width="183.0" height="2.10" fill="url(#cf7)"/><rect x="297.0" y="246.0" width="183.0" height="2.10" fill="url(#cf8)"/><rect x="297.0" y="248.0" width="183.0" height="2.10" fill="url(#cf9)"/><rect x="297.0" y="250.0" width="183.0" height="2.10" fill="url(#cf10)"/><rect x="297.0" y="252.0" width="183.0" height="2.10" fill="url(#cf11)"/><rect x="297.0" y="254.0" width="183.0" height="2.10" fill="url(#cf12)"/><rect x="297.0" y="256.0" width="183.0" height="2.10" fill="url(#cf13)"/><rect x="297.0" y="258.0" width="183.0" height="2.10" fill="url(#cf14)"/><rect x="297.0" y="260.0" width="183.0" height="2.10" fill="url(#cf15)"/><rect x="297.0" y="262.0" width="183.0" height="2.10" fill="url(#cf16)"/><rect x="297.0" y="264.0" width="183.0" height="2.10" fill="url(#cf17)"/><rect x="297.0" y="266.0" width="183.0" height="2.10" fill="url(#cf18)"/><rect x="297.0" y="268.0" width="183.0" height="2.10" fill="url(#cf19)"/></g></g>
<rect x="300.0" y="232.0" width="178.5" height="34.39999999999998" fill="none" stroke="#111" stroke-width="0.9"/>
<line x1="300.30" y1="266.40" x2="300.30" y2="264.20" stroke="#000" stroke-width="0.9" />
<line x1="300.30" y1="232.00" x2="300.30" y2="234.20" stroke="#000" stroke-width="0.9" />
<text x="300.30" y="274.30" font-size="7.5" text-anchor="middle" fill="#222" >0</text>
<line x1="330.00" y1="266.40" x2="330.00" y2="264.20" stroke="#000" stroke-width="0.9" />
<line x1="330.00" y1="232.00" x2="330.00" y2="234.20" stroke="#000" stroke-width="0.9" />
<text x="330.00" y="274.30" font-size="7.5" text-anchor="middle" fill="#222" >5</text>
<line x1="359.70" y1="266.40" x2="359.70" y2="264.20" stroke="#000" stroke-width="0.9" />
<line x1="359.70" y1="232.00" x2="359.70" y2="234.20" stroke="#000" stroke-width="0.9" />
<text x="359.70" y="274.30" font-size="7.5" text-anchor="middle" fill="#222" >10</text>
<line x1="389.40" y1="266.40" x2="389.40" y2="264.20" stroke="#000" stroke-width="0.9" />
<line x1="389.40" y1="232.00" x2="389.40" y2="234.20" stroke="#000" stroke-width="0.9" />
<text x="389.40" y="274.30" font-size="7.5" text-anchor="middle" fill="#222" >15</text>
<line x1="419.10" y1="266.40" x2="419.10" y2="264.20" stroke="#000" stroke-width="0.9" />
<line x1="419.10" y1="232.00" x2="419.10" y2="234.20" stroke="#000" stroke-width="0.9" />
<text x="419.10" y="274.30" font-size="7.5" text-anchor="middle" fill="#222" >20</text>
<line x1="448.80" y1="266.40" x2="448.80" y2="264.20" stroke="#000" stroke-width="0.9" />
<line x1="448.80" y1="232.00" x2="448.80" y2="234.20" stroke="#000" stroke-width="0.9" />
<text x="448.80" y="274.30" font-size="7.5" text-anchor="middle" fill="#222" >25</text>
<line x1="478.50" y1="266.40" x2="478.50" y2="264.20" stroke="#000" stroke-width="0.9" />
<line x1="478.50" y1="232.00" x2="478.50" y2="234.20" stroke="#000" stroke-width="0.9" />
<text x="478.50" y="274.30" font-size="7.5" text-anchor="middle" fill="#222" >30</text>
<line x1="300.00" y1="263.75" x2="302.20" y2="263.75" stroke="#000" stroke-width="0.9" />
<line x1="478.50" y1="263.75" x2="476.30" y2="263.75" stroke="#000" stroke-width="0.9" />
<text x="481.10" y="266.25" font-size="7.5" text-anchor="start" fill="#222" >10</text>
<line x1="300.00" y1="249.00" x2="302.20" y2="249.00" stroke="#000" stroke-width="0.9" />
<line x1="478.50" y1="249.00" x2="476.30" y2="249.00" stroke="#000" stroke-width="0.9" />
<text x="481.10" y="251.50" font-size="7.5" text-anchor="start" fill="#222" >15</text>
<line x1="300.00" y1="234.25" x2="302.20" y2="234.25" stroke="#000" stroke-width="0.9" />
<line x1="478.50" y1="234.25" x2="476.30" y2="234.25" stroke="#000" stroke-width="0.9" />
<text x="481.10" y="236.75" font-size="7.5" text-anchor="start" fill="#222" >20</text>
<text x="389.00" y="284.00" font-size="7.4" text-anchor="middle" fill="#222" ><tspan font-style="italic">x</tspan> (µm)</text>
<text transform="translate(496.9,249.2) rotate(-90)" font-size="7.5" text-anchor="middle" fill="#222"><tspan font-style="italic">w</tspan><tspan font-size="5.2" dy="1.5">Au</tspan><tspan dy="-1.5"> (µm)</tspan></text>
<defs><linearGradient id="vir" x1="0" x2="1" y1="0" y2="0"><stop offset="0.00" stop-color="#440154"/><stop offset="0.05" stop-color="#471365"/><stop offset="0.10" stop-color="#482475"/><stop offset="0.15" stop-color="#463480"/><stop offset="0.20" stop-color="#414487"/><stop offset="0.25" stop-color="#3b528b"/><stop offset="0.30" stop-color="#355f8d"/><stop offset="0.35" stop-color="#2f6c8e"/><stop offset="0.40" stop-color="#2a788e"/><stop offset="0.45" stop-color="#25848e"/><stop offset="0.50" stop-color="#21918c"/><stop offset="0.55" stop-color="#1e9c89"/><stop offset="0.60" stop-color="#22a884"/><stop offset="0.65" stop-color="#2fb47c"/><stop offset="0.70" stop-color="#44bf70"/><stop offset="0.75" stop-color="#5ec962"/><stop offset="0.80" stop-color="#7ad151"/><stop offset="0.85" stop-color="#9bd93c"/><stop offset="0.90" stop-color="#bddf26"/><stop offset="0.95" stop-color="#dfe318"/><stop offset="1.00" stop-color="#fde725"/></linearGradient></defs>
<rect x="62.0" y="292" width="99.0" height="5" fill="url(#vir)" stroke="#222" stroke-width="0.3"/>
<line x1="68.37" y1="297.00" x2="68.37" y2="295.20" stroke="#222" stroke-width="0.7" />
<text x="68.37" y="306.40" font-size="7.5" text-anchor="middle" fill="#222" >0.25</text>
<line x1="111.41" y1="297.00" x2="111.41" y2="295.20" stroke="#222" stroke-width="0.7" />
<text x="111.41" y="306.40" font-size="7.5" text-anchor="middle" fill="#222" >0.50</text>
<line x1="154.46" y1="297.00" x2="154.46" y2="295.20" stroke="#222" stroke-width="0.7" />
<text x="154.46" y="306.40" font-size="7.5" text-anchor="middle" fill="#222" >0.75</text>
<text x="112.00" y="317.20" font-size="7.2" text-anchor="middle" fill="#333" >| <tspan font-style="italic">E</tspan><tspan font-size="4.6" dy="1.3" font-style="italic">z</tspan><tspan dy="-1.3"> / </tspan><tspan font-style="italic">E</tspan><tspan font-size="4.6" dy="1.3">inc,0</tspan><tspan dy="-1.3"> |</tspan></text>
<rect x="339.5" y="292" width="99.30000000000001" height="5" fill="url(#vir)" stroke="#222" stroke-width="0.3"/>
<line x1="345.89" y1="297.00" x2="345.89" y2="295.20" stroke="#222" stroke-width="0.7" />
<text x="345.89" y="306.40" font-size="7.5" text-anchor="middle" fill="#222" >0.25</text>
<line x1="389.06" y1="297.00" x2="389.06" y2="295.20" stroke="#222" stroke-width="0.7" />
<text x="389.06" y="306.40" font-size="7.5" text-anchor="middle" fill="#222" >0.50</text>
<line x1="432.24" y1="297.00" x2="432.24" y2="295.20" stroke="#222" stroke-width="0.7" />
<text x="432.24" y="306.40" font-size="7.5" text-anchor="middle" fill="#222" >0.75</text>
<text x="389.00" y="317.20" font-size="7.2" text-anchor="middle" fill="#333" >| <tspan font-style="italic">E</tspan><tspan font-size="4.6" dy="1.3" font-style="italic">z</tspan><tspan dy="-1.3"> / </tspan><tspan font-style="italic">E</tspan><tspan font-size="4.6" dy="1.3">inc,0</tspan><tspan dy="-1.3"> |</tspan></text>
<g transform="translate(0,215.6)">
<text x="249.40" y="21.60" font-size="8.8" text-anchor="middle" fill="#222" >simulation</text>
<rect x="225.3" y="55.8" width="52.2" height="13.8" fill="#e9e9e9" stroke="#a0a0a0" stroke-width="0.7"/>
<path d="M240.3,31.5 L240.3,72.5 M262,31.5 L262,72.5" stroke="#ebb93a" stroke-width="0.8" fill="none"/>
<path d="M238.8,47.6 Q234.6,51.5 232.6,56 Q235.5,59.6 240.2,62.2 M263.5,47.6 Q267.7,51.5 269.7,56 Q266.8,59.6 262.1,62.2" stroke="#e4aa22" stroke-width="1.0" fill="none"/>
<rect x="240.3" y="46.3" width="21.4" height="8.8" fill="#f7d000" stroke="#d9a900" stroke-width="0.5"/>
<text x="250.90" y="53.90" font-size="8.4" text-anchor="middle" fill="#222" >Au</text>
<path d="M243.5,56.4 L258.5,56.4" stroke="#000" stroke-width="1.5"/>
<polygon points="240.6,56.4 244.8,54.1 244.8,58.7" fill="#000"/><polygon points="261.7,56.4 257.5,54.1 257.5,58.7" fill="#000"/>
<text x="251.00" y="66.30" font-size="8.6" text-anchor="middle" fill="#333" >SiC</text>
<path d="M240,47 L232.5,47 M262.3,47 L269.8,47" stroke="#f0a81c" stroke-width="1.0"/>
<polygon points="229.3,47 233.2,45.0 233.2,49.0" fill="#f0a81c"/><polygon points="272.8,47 268.9,45.0 268.9,49.0" fill="#f0a81c"/>
<path d="M261.8,27 L261.8,46" stroke="#888" stroke-width="0.6" stroke-dasharray="1 0.8"/>
<path d="M238.8,33.0 L258.6,43.3" stroke="#000" stroke-width="1.7"/>
<polygon points="261.8,45.0 256.3,45.3 258.5,41.0" fill="#000"/>
<text transform="translate(239.6,31.4) rotate(29)" font-size="7.8" font-style="italic" fill="#111" letter-spacing="0.15">Illum.θ</text>
<text x="251.00" y="82.00" font-size="8.8" text-anchor="middle" fill="#222" ><tspan font-style="normal">ν</tspan><tspan font-size="5" dy="1.3">0</tspan><tspan dy="-1.3"> = 910 cm</tspan><tspan font-size="5" dy="-3">-1</tspan></text>
<text x="251.20" y="89.80" font-size="8.8" text-anchor="middle" fill="#222" ><tspan font-style="italic">θ</tspan> = 47°</text>
</g>
</svg>
</body></html>
